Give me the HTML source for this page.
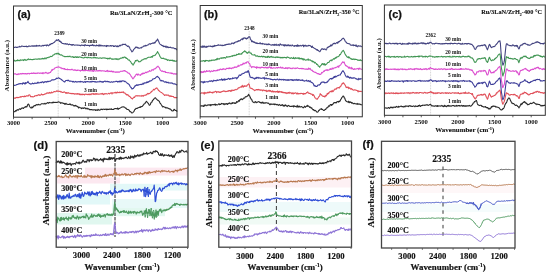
<!DOCTYPE html>
<html><head><meta charset="utf-8"><style>
html,body{margin:0;padding:0;background:#fff;width:550px;height:278px;overflow:hidden}
svg{display:block;filter:blur(0.3px)}
</style></head><body>
<svg width="550" height="278" viewBox="0 0 550 278">
<rect width="550" height="278" fill="#fff"/>
<line x1="58.2" y1="39.5" x2="58.2" y2="117" stroke="#999" stroke-width="0.5" stroke-dasharray="0.8,0.8"/>
<path d="M13.5,47.42 L14.0,47.62 L14.5,47.36 L15.0,47.28 L15.5,47.04 L16.0,47.19 L16.5,47.52 L17.0,47.24 L17.5,47.35 L18.0,47.04 L18.5,47.01 L19.0,46.87 L19.5,46.25 L20.0,46.94 L20.5,46.78 L21.0,46.73 L21.5,46.03 L22.0,45.98 L22.5,46.22 L23.0,46.34 L23.5,46.55 L24.0,46.43 L24.5,46.59 L25.0,46.22 L25.5,46.48 L26.0,46.49 L26.5,46.15 L27.0,46.84 L27.5,46.47 L28.0,46.63 L28.5,46.06 L29.0,46.00 L29.5,46.10 L30.0,46.14 L30.5,46.34 L31.0,46.21 L31.5,45.98 L32.0,45.80 L32.5,45.91 L33.0,46.42 L33.5,45.79 L34.0,46.10 L34.5,46.14 L35.0,45.55 L35.5,46.00 L36.0,46.37 L36.5,45.36 L37.0,45.85 L37.5,45.89 L38.0,45.66 L38.5,46.03 L39.0,45.84 L39.5,45.39 L40.0,46.06 L40.5,45.98 L41.0,46.04 L41.5,46.16 L42.0,45.81 L42.5,45.71 L43.0,45.26 L43.5,45.80 L44.0,45.41 L44.5,45.43 L45.0,45.16 L45.5,45.23 L46.0,45.34 L46.5,45.86 L47.0,44.85 L47.5,45.00 L48.0,45.50 L48.5,45.84 L49.0,45.57 L49.5,44.63 L50.0,44.17 L50.5,44.69 L51.0,43.98 L51.5,43.48 L52.0,43.77 L52.5,43.53 L53.0,43.05 L53.5,42.78 L54.0,42.40 L54.5,42.23 L55.0,41.41 L55.5,40.95 L56.0,40.66 L56.5,39.89 L57.0,40.53 L57.5,40.23 L58.0,39.96 L58.5,39.54 L59.0,40.46 L59.5,41.42 L60.0,40.96 L60.5,41.68 L61.0,42.39 L61.5,42.11 L62.0,43.40 L62.5,43.43 L63.0,43.45 L63.5,43.64 L64.0,43.79 L64.5,43.69 L65.0,44.06 L65.5,43.60 L66.0,43.75 L66.5,44.28 L67.0,44.07 L67.5,43.89 L68.0,44.53 L68.5,44.77 L69.0,44.29 L69.5,44.09 L70.0,44.54 L70.5,44.60 L71.0,44.62 L71.5,45.18 L72.0,44.49 L72.5,45.19 L73.0,44.45 L73.5,44.61 L74.0,45.05 L74.5,45.22 L75.0,45.16 L75.5,45.03 L76.0,45.00 L76.5,45.02 L77.0,45.18 L77.5,44.98 L78.0,45.14 L78.5,45.26 L79.0,45.12 L79.5,45.37 L80.0,45.34 L80.5,45.79 L81.0,45.31 L81.5,45.11 L82.0,45.14 L82.5,45.27 L83.0,45.56 L83.5,45.20 L84.0,45.42 L84.5,45.86 L85.0,44.55 L85.5,44.98 L86.0,45.40 L86.5,45.46 L87.0,45.42 L87.5,45.22 L88.0,45.56 L88.5,45.46 L89.0,45.22 L89.5,46.12 L90.0,45.51 L90.5,45.25 L91.0,45.39 L91.5,45.37 L92.0,45.43 L92.5,44.64 L93.0,45.32 L93.5,45.78 L94.0,45.14 L94.5,45.48 L95.0,45.80 L95.5,45.79 L96.0,45.99 L96.5,45.04 L97.0,45.46 L97.5,45.47 L98.0,45.77 L98.5,45.92 L99.0,44.80 L99.5,45.94 L100.0,45.19 L100.5,45.84 L101.0,45.20 L101.5,45.71 L102.0,46.02 L102.5,45.63 L103.0,45.73 L103.5,45.92 L104.0,45.73 L104.5,45.67 L105.0,46.16 L105.5,46.03 L106.0,45.63 L106.5,46.56 L107.0,45.41 L107.5,46.04 L108.0,45.71 L108.5,45.85 L109.0,46.04 L109.5,45.92 L110.0,46.07 L110.5,45.44 L111.0,45.47 L111.5,46.13 L112.0,45.69 L112.5,45.69 L113.0,45.58 L113.5,46.43 L114.0,46.29 L114.5,46.53 L115.0,45.83 L115.5,46.13 L116.0,45.81 L116.5,46.39 L117.0,46.65 L117.5,45.92 L118.0,46.67 L118.5,46.40 L119.0,45.91 L119.5,45.22 L120.0,46.05 L120.5,45.39 L121.0,45.03 L121.5,45.11 L122.0,44.90 L122.5,45.03 L123.0,44.09 L123.5,44.57 L124.0,44.55 L124.5,44.44 L125.0,44.15 L125.5,44.28 L126.0,45.17 L126.5,45.31 L127.0,45.73 L127.5,46.51 L128.0,46.34 L128.5,46.00 L129.0,46.86 L129.5,47.04 L130.0,48.69 L130.5,49.49 L131.0,50.13 L131.5,51.08 L132.0,51.85 L132.5,51.18 L133.0,50.90 L133.5,49.68 L134.0,49.18 L134.5,48.57 L135.0,48.02 L135.5,47.12 L136.0,47.68 L136.5,46.97 L137.0,47.34 L137.5,47.23 L138.0,48.28 L138.5,47.73 L139.0,48.20 L139.5,48.23 L140.0,48.17 L140.5,47.79 L141.0,47.78 L141.5,47.94 L142.0,47.11 L142.5,46.95 L143.0,46.83 L143.5,46.26 L144.0,45.80 L144.5,45.91 L145.0,46.26 L145.5,45.28 L146.0,45.41 L146.5,45.68 L147.0,45.40 L147.5,44.95 L148.0,44.98 L148.5,44.59 L149.0,44.00 L149.5,43.73 L150.0,43.89 L150.5,44.26 L151.0,43.74 L151.5,43.52 L152.0,43.43 L152.5,43.06 L153.0,43.33 L153.5,42.88 L154.0,43.22 L154.5,42.32 L155.0,42.88 L155.5,42.03 L156.0,40.92 L156.5,40.97 L157.0,40.04 L157.5,39.03 L158.0,40.04 L158.5,41.31 L159.0,42.14 L159.5,43.47 L160.0,44.13 L160.5,44.38 L161.0,44.61 L161.5,45.32 L162.0,45.56 L162.5,45.90 L163.0,45.45 L163.5,46.49 L164.0,46.67 L164.5,46.26 L165.0,46.29 L165.5,47.11 L166.0,46.10 L166.5,46.88 L167.0,47.57 L167.5,46.67 L168.0,47.26 L168.5,47.70 L169.0,47.18 L169.5,47.44 L170.0,47.60 L170.5,47.13 L171.0,47.47 L171.5,47.70 L172.0,47.99 L172.5,47.87 L173.0,47.97 L173.5,47.88 L174.0,48.22 L174.5,48.74 L175.0,48.64 L175.5,48.48 L176.0,48.59 L176.5,49.73 L177.0,49.34" stroke="#444480" stroke-width="1.1" fill="none" stroke-linejoin="round" opacity="1.0"/>
<path d="M13.5,60.89 L14.0,59.90 L14.5,60.84 L15.0,60.78 L15.5,61.11 L16.0,60.70 L16.5,60.52 L17.0,60.67 L17.5,59.89 L18.0,60.74 L18.5,60.49 L19.0,60.14 L19.5,60.70 L20.0,60.80 L20.5,59.80 L21.0,59.97 L21.5,60.21 L22.0,60.13 L22.5,59.91 L23.0,59.69 L23.5,60.57 L24.0,60.20 L24.5,59.49 L25.0,59.40 L25.5,60.28 L26.0,60.03 L26.5,60.24 L27.0,59.90 L27.5,59.36 L28.0,59.67 L28.5,58.92 L29.0,59.32 L29.5,59.50 L30.0,59.66 L30.5,59.27 L31.0,59.43 L31.5,59.59 L32.0,59.55 L32.5,59.61 L33.0,59.45 L33.5,59.27 L34.0,59.58 L34.5,59.33 L35.0,59.04 L35.5,59.07 L36.0,59.22 L36.5,59.16 L37.0,59.21 L37.5,59.13 L38.0,59.15 L38.5,59.03 L39.0,58.66 L39.5,59.14 L40.0,59.30 L40.5,59.08 L41.0,58.87 L41.5,59.04 L42.0,58.59 L42.5,58.29 L43.0,58.86 L43.5,58.55 L44.0,59.03 L44.5,58.46 L45.0,57.88 L45.5,58.21 L46.0,58.83 L46.5,58.05 L47.0,57.54 L47.5,57.50 L48.0,57.65 L48.5,57.41 L49.0,57.08 L49.5,57.25 L50.0,56.81 L50.5,56.40 L51.0,56.42 L51.5,56.60 L52.0,56.29 L52.5,56.08 L53.0,55.13 L53.5,55.01 L54.0,54.84 L54.5,54.11 L55.0,54.16 L55.5,53.76 L56.0,53.75 L56.5,53.34 L57.0,54.09 L57.5,53.62 L58.0,53.14 L58.5,53.44 L59.0,54.50 L59.5,54.00 L60.0,54.74 L60.5,55.08 L61.0,55.00 L61.5,54.77 L62.0,55.35 L62.5,55.62 L63.0,56.09 L63.5,56.22 L64.0,56.21 L64.5,56.63 L65.0,56.66 L65.5,56.58 L66.0,56.55 L66.5,56.48 L67.0,56.78 L67.5,56.28 L68.0,56.43 L68.5,56.65 L69.0,56.24 L69.5,56.58 L70.0,56.14 L70.5,56.57 L71.0,56.98 L71.5,57.01 L72.0,56.86 L72.5,56.84 L73.0,56.53 L73.5,57.54 L74.0,57.18 L74.5,57.39 L75.0,56.84 L75.5,57.09 L76.0,56.63 L76.5,57.45 L77.0,57.53 L77.5,56.72 L78.0,57.30 L78.5,57.54 L79.0,56.86 L79.5,56.87 L80.0,57.12 L80.5,57.28 L81.0,57.08 L81.5,57.53 L82.0,57.62 L82.5,57.75 L83.0,57.79 L83.5,58.05 L84.0,57.96 L84.5,57.22 L85.0,57.47 L85.5,57.31 L86.0,57.32 L86.5,57.63 L87.0,57.67 L87.5,57.83 L88.0,57.22 L88.5,57.33 L89.0,57.71 L89.5,57.68 L90.0,57.66 L90.5,57.75 L91.0,57.56 L91.5,58.01 L92.0,57.92 L92.5,57.81 L93.0,57.65 L93.5,57.82 L94.0,57.07 L94.5,57.61 L95.0,57.94 L95.5,57.49 L96.0,58.02 L96.5,58.02 L97.0,57.58 L97.5,57.94 L98.0,57.94 L98.5,58.18 L99.0,58.24 L99.5,58.07 L100.0,57.84 L100.5,58.06 L101.0,58.10 L101.5,58.35 L102.0,58.23 L102.5,57.94 L103.0,57.76 L103.5,58.06 L104.0,57.96 L104.5,57.86 L105.0,58.17 L105.5,58.07 L106.0,58.27 L106.5,58.42 L107.0,58.17 L107.5,59.02 L108.0,58.26 L108.5,58.73 L109.0,58.47 L109.5,58.81 L110.0,57.81 L110.5,58.34 L111.0,58.68 L111.5,58.83 L112.0,59.40 L112.5,58.84 L113.0,59.17 L113.5,59.05 L114.0,59.15 L114.5,59.06 L115.0,58.89 L115.5,59.13 L116.0,58.68 L116.5,59.39 L117.0,58.75 L117.5,59.16 L118.0,59.74 L118.5,58.94 L119.0,58.88 L119.5,59.07 L120.0,58.56 L120.5,58.12 L121.0,58.23 L121.5,58.12 L122.0,57.96 L122.5,57.32 L123.0,57.90 L123.5,57.72 L124.0,57.10 L124.5,57.08 L125.0,57.08 L125.5,57.93 L126.0,57.66 L126.5,58.48 L127.0,58.55 L127.5,58.88 L128.0,59.64 L128.5,60.09 L129.0,59.92 L129.5,60.13 L130.0,61.12 L130.5,61.51 L131.0,62.31 L131.5,63.37 L132.0,63.88 L132.5,63.91 L133.0,65.13 L133.5,64.15 L134.0,63.74 L134.5,62.50 L135.0,61.82 L135.5,60.53 L136.0,60.98 L136.5,60.67 L137.0,60.11 L137.5,60.31 L138.0,60.60 L138.5,61.76 L139.0,61.54 L139.5,61.85 L140.0,61.65 L140.5,61.42 L141.0,60.78 L141.5,60.72 L142.0,59.86 L142.5,59.87 L143.0,59.63 L143.5,59.40 L144.0,59.01 L144.5,58.71 L145.0,58.90 L145.5,58.55 L146.0,58.98 L146.5,58.55 L147.0,58.08 L147.5,57.76 L148.0,57.49 L148.5,57.23 L149.0,57.24 L149.5,57.28 L150.0,57.23 L150.5,57.15 L151.0,57.49 L151.5,56.48 L152.0,56.50 L152.5,57.11 L153.0,55.49 L153.5,55.69 L154.0,55.72 L154.5,55.59 L155.0,55.40 L155.5,54.65 L156.0,54.11 L156.5,53.27 L157.0,52.85 L157.5,51.63 L158.0,52.46 L158.5,53.50 L159.0,54.13 L159.5,55.14 L160.0,56.63 L160.5,57.09 L161.0,58.11 L161.5,58.36 L162.0,58.31 L162.5,58.47 L163.0,58.40 L163.5,58.13 L164.0,58.68 L164.5,58.98 L165.0,58.83 L165.5,59.12 L166.0,59.53 L166.5,59.20 L167.0,59.80 L167.5,60.30 L168.0,59.70 L168.5,60.03 L169.0,60.03 L169.5,60.62 L170.0,60.31 L170.5,60.54 L171.0,60.12 L171.5,60.40 L172.0,60.48 L172.5,60.04 L173.0,61.10 L173.5,61.04 L174.0,60.34 L174.5,61.18 L175.0,61.01 L175.5,61.26 L176.0,61.31 L176.5,60.81 L177.0,61.24" stroke="#419654" stroke-width="1.1" fill="none" stroke-linejoin="round" opacity="1.0"/>
<path d="M13.5,74.65 L14.0,74.02 L14.5,73.87 L15.0,73.75 L15.5,73.78 L16.0,74.23 L16.5,74.62 L17.0,74.22 L17.5,74.14 L18.0,74.71 L18.5,73.86 L19.0,73.79 L19.5,74.13 L20.0,74.11 L20.5,73.61 L21.0,73.54 L21.5,73.95 L22.0,73.91 L22.5,73.42 L23.0,73.72 L23.5,73.59 L24.0,73.87 L24.5,73.67 L25.0,73.65 L25.5,73.55 L26.0,73.95 L26.5,74.03 L27.0,73.48 L27.5,73.83 L28.0,73.33 L28.5,73.56 L29.0,73.75 L29.5,73.97 L30.0,73.39 L30.5,73.47 L31.0,73.54 L31.5,73.02 L32.0,73.46 L32.5,73.24 L33.0,73.54 L33.5,73.07 L34.0,72.80 L34.5,73.38 L35.0,73.43 L35.5,73.17 L36.0,73.58 L36.5,73.21 L37.0,73.09 L37.5,73.39 L38.0,72.75 L38.5,73.00 L39.0,73.17 L39.5,73.41 L40.0,73.08 L40.5,73.20 L41.0,72.89 L41.5,73.15 L42.0,73.54 L42.5,72.81 L43.0,73.71 L43.5,72.78 L44.0,72.96 L44.5,72.99 L45.0,73.22 L45.5,72.53 L46.0,72.25 L46.5,73.05 L47.0,73.09 L47.5,73.02 L48.0,73.61 L48.5,72.88 L49.0,72.88 L49.5,72.94 L50.0,72.47 L50.5,72.48 L51.0,71.16 L51.5,70.92 L52.0,69.47 L52.5,70.22 L53.0,69.35 L53.5,69.27 L54.0,69.23 L54.5,68.25 L55.0,67.92 L55.5,67.73 L56.0,67.46 L56.5,67.32 L57.0,67.48 L57.5,67.10 L58.0,66.94 L58.5,66.75 L59.0,67.23 L59.5,67.33 L60.0,67.41 L60.5,67.95 L61.0,67.98 L61.5,67.90 L62.0,68.84 L62.5,68.61 L63.0,68.28 L63.5,69.00 L64.0,68.91 L64.5,68.48 L65.0,69.57 L65.5,69.32 L66.0,69.60 L66.5,69.49 L67.0,69.46 L67.5,69.05 L68.0,69.83 L68.5,69.56 L69.0,69.49 L69.5,69.71 L70.0,69.65 L70.5,69.86 L71.0,69.58 L71.5,69.71 L72.0,69.11 L72.5,69.66 L73.0,70.03 L73.5,70.26 L74.0,69.79 L74.5,69.90 L75.0,70.45 L75.5,69.92 L76.0,70.27 L76.5,70.60 L77.0,70.14 L77.5,70.54 L78.0,69.99 L78.5,70.30 L79.0,70.25 L79.5,70.34 L80.0,70.67 L80.5,71.08 L81.0,70.19 L81.5,70.24 L82.0,70.59 L82.5,70.14 L83.0,70.63 L83.5,70.67 L84.0,70.42 L84.5,70.67 L85.0,70.05 L85.5,70.75 L86.0,70.07 L86.5,70.34 L87.0,70.39 L87.5,70.45 L88.0,70.83 L88.5,70.61 L89.0,70.48 L89.5,70.78 L90.0,71.10 L90.5,70.64 L91.0,70.76 L91.5,71.04 L92.0,70.76 L92.5,70.31 L93.0,71.46 L93.5,71.39 L94.0,70.15 L94.5,70.74 L95.0,70.90 L95.5,71.08 L96.0,71.00 L96.5,70.73 L97.0,70.51 L97.5,70.87 L98.0,71.17 L98.5,70.54 L99.0,70.58 L99.5,70.89 L100.0,70.33 L100.5,70.84 L101.0,70.80 L101.5,71.08 L102.0,70.74 L102.5,70.70 L103.0,70.85 L103.5,70.96 L104.0,70.79 L104.5,71.00 L105.0,71.23 L105.5,71.38 L106.0,71.56 L106.5,70.85 L107.0,70.99 L107.5,70.41 L108.0,71.77 L108.5,71.02 L109.0,71.28 L109.5,71.49 L110.0,70.98 L110.5,71.58 L111.0,71.49 L111.5,71.00 L112.0,71.69 L112.5,72.02 L113.0,71.15 L113.5,72.00 L114.0,71.87 L114.5,72.00 L115.0,72.04 L115.5,72.34 L116.0,71.92 L116.5,72.28 L117.0,71.93 L117.5,72.30 L118.0,71.86 L118.5,72.00 L119.0,72.46 L119.5,71.97 L120.0,71.66 L120.5,71.23 L121.0,71.19 L121.5,71.33 L122.0,71.41 L122.5,71.12 L123.0,71.02 L123.5,70.75 L124.0,71.07 L124.5,70.48 L125.0,70.63 L125.5,71.33 L126.0,71.43 L126.5,71.70 L127.0,72.00 L127.5,72.46 L128.0,73.04 L128.5,73.20 L129.0,72.98 L129.5,73.94 L130.0,74.49 L130.5,74.88 L131.0,76.21 L131.5,76.69 L132.0,77.40 L132.5,78.33 L133.0,78.93 L133.5,78.03 L134.0,77.71 L134.5,76.49 L135.0,76.57 L135.5,74.92 L136.0,74.81 L136.5,74.03 L137.0,74.57 L137.5,75.13 L138.0,73.85 L138.5,74.64 L139.0,75.05 L139.5,74.96 L140.0,74.70 L140.5,75.36 L141.0,74.52 L141.5,73.74 L142.0,74.22 L142.5,73.19 L143.0,73.83 L143.5,73.13 L144.0,73.23 L144.5,73.45 L145.0,72.97 L145.5,72.36 L146.0,72.08 L146.5,72.73 L147.0,72.39 L147.5,71.70 L148.0,71.99 L148.5,71.69 L149.0,71.55 L149.5,70.53 L150.0,70.99 L150.5,71.24 L151.0,71.02 L151.5,70.84 L152.0,69.55 L152.5,70.03 L153.0,69.82 L153.5,70.15 L154.0,68.85 L154.5,68.86 L155.0,68.77 L155.5,68.67 L156.0,67.82 L156.5,67.79 L157.0,66.73 L157.5,66.65 L158.0,66.14 L158.5,66.85 L159.0,67.35 L159.5,67.98 L160.0,69.72 L160.5,70.31 L161.0,70.66 L161.5,71.10 L162.0,71.42 L162.5,70.93 L163.0,71.31 L163.5,71.64 L164.0,71.78 L164.5,71.68 L165.0,71.30 L165.5,72.47 L166.0,72.36 L166.5,72.43 L167.0,72.49 L167.5,72.80 L168.0,72.73 L168.5,72.67 L169.0,72.85 L169.5,72.98 L170.0,73.03 L170.5,72.91 L171.0,73.51 L171.5,72.99 L172.0,73.66 L172.5,73.24 L173.0,73.73 L173.5,74.13 L174.0,73.87 L174.5,73.67 L175.0,73.99 L175.5,74.09 L176.0,73.59 L176.5,73.98 L177.0,74.25" stroke="#dc4fcf" stroke-width="1.1" fill="none" stroke-linejoin="round" opacity="1.0"/>
<path d="M13.5,85.16 L14.0,85.26 L14.5,85.39 L15.0,85.31 L15.5,85.25 L16.0,85.04 L16.5,84.65 L17.0,84.60 L17.5,84.40 L18.0,84.25 L18.5,84.16 L19.0,83.57 L19.5,83.87 L20.0,83.86 L20.5,83.48 L21.0,83.68 L21.5,83.78 L22.0,83.54 L22.5,84.18 L23.0,82.74 L23.5,83.42 L24.0,82.89 L24.5,83.69 L25.0,84.15 L25.5,82.57 L26.0,83.34 L26.5,83.20 L27.0,82.56 L27.5,82.42 L28.0,81.33 L28.5,82.65 L29.0,83.11 L29.5,83.61 L30.0,83.82 L30.5,84.15 L31.0,83.76 L31.5,83.91 L32.0,83.63 L32.5,83.03 L33.0,83.61 L33.5,83.59 L34.0,83.67 L34.5,83.08 L35.0,83.24 L35.5,83.34 L36.0,83.10 L36.5,83.34 L37.0,83.48 L37.5,82.52 L38.0,82.15 L38.5,82.91 L39.0,83.05 L39.5,82.82 L40.0,82.74 L40.5,82.28 L41.0,82.21 L41.5,82.64 L42.0,82.05 L42.5,81.71 L43.0,81.89 L43.5,82.86 L44.0,82.62 L44.5,81.76 L45.0,81.67 L45.5,81.88 L46.0,81.51 L46.5,82.06 L47.0,81.58 L47.5,81.22 L48.0,81.89 L48.5,81.27 L49.0,81.48 L49.5,81.34 L50.0,81.13 L50.5,81.17 L51.0,80.69 L51.5,80.15 L52.0,79.83 L52.5,79.90 L53.0,79.85 L53.5,79.89 L54.0,79.75 L54.5,79.77 L55.0,79.54 L55.5,79.10 L56.0,78.88 L56.5,78.17 L57.0,78.44 L57.5,78.35 L58.0,78.12 L58.5,77.76 L59.0,77.93 L59.5,78.53 L60.0,78.56 L60.5,79.04 L61.0,79.17 L61.5,79.39 L62.0,80.21 L62.5,80.23 L63.0,80.88 L63.5,81.23 L64.0,81.56 L64.5,82.02 L65.0,81.69 L65.5,80.74 L66.0,80.52 L66.5,80.45 L67.0,80.42 L67.5,80.64 L68.0,80.03 L68.5,80.37 L69.0,80.85 L69.5,81.31 L70.0,81.07 L70.5,80.93 L71.0,81.21 L71.5,81.22 L72.0,81.24 L72.5,81.96 L73.0,81.33 L73.5,81.53 L74.0,82.19 L74.5,81.90 L75.0,81.66 L75.5,81.39 L76.0,81.71 L76.5,82.09 L77.0,81.81 L77.5,82.02 L78.0,81.69 L78.5,81.83 L79.0,81.63 L79.5,81.83 L80.0,82.11 L80.5,81.31 L81.0,81.73 L81.5,81.83 L82.0,81.60 L82.5,81.69 L83.0,82.03 L83.5,82.40 L84.0,81.99 L84.5,81.90 L85.0,81.33 L85.5,82.38 L86.0,81.82 L86.5,81.79 L87.0,81.46 L87.5,81.78 L88.0,81.47 L88.5,81.82 L89.0,81.94 L89.5,81.81 L90.0,81.88 L90.5,81.54 L91.0,82.23 L91.5,81.60 L92.0,81.25 L92.5,81.74 L93.0,81.57 L93.5,81.50 L94.0,81.69 L94.5,81.89 L95.0,81.45 L95.5,81.76 L96.0,82.23 L96.5,82.00 L97.0,81.75 L97.5,81.84 L98.0,81.76 L98.5,81.79 L99.0,82.02 L99.5,81.77 L100.0,81.08 L100.5,81.79 L101.0,81.53 L101.5,82.00 L102.0,81.62 L102.5,81.84 L103.0,82.45 L103.5,81.49 L104.0,81.46 L104.5,81.38 L105.0,81.08 L105.5,81.23 L106.0,81.90 L106.5,81.60 L107.0,81.23 L107.5,81.34 L108.0,81.97 L108.5,81.55 L109.0,81.66 L109.5,81.87 L110.0,82.17 L110.5,82.34 L111.0,82.06 L111.5,81.79 L112.0,81.80 L112.5,82.28 L113.0,82.16 L113.5,81.64 L114.0,81.86 L114.5,81.81 L115.0,81.73 L115.5,81.56 L116.0,81.31 L116.5,81.55 L117.0,81.24 L117.5,82.07 L118.0,81.86 L118.5,81.29 L119.0,82.00 L119.5,81.76 L120.0,80.82 L120.5,81.85 L121.0,81.43 L121.5,81.70 L122.0,80.62 L122.5,81.06 L123.0,80.97 L123.5,80.89 L124.0,81.09 L124.5,81.64 L125.0,81.21 L125.5,81.66 L126.0,82.00 L126.5,82.62 L127.0,82.92 L127.5,83.46 L128.0,83.64 L128.5,83.99 L129.0,84.34 L129.5,85.09 L130.0,86.25 L130.5,86.97 L131.0,87.50 L131.5,88.01 L132.0,89.07 L132.5,88.67 L133.0,88.67 L133.5,88.31 L134.0,87.28 L134.5,86.96 L135.0,85.79 L135.5,85.94 L136.0,85.36 L136.5,84.77 L137.0,85.38 L137.5,84.83 L138.0,85.38 L138.5,84.69 L139.0,84.74 L139.5,84.77 L140.0,84.49 L140.5,84.58 L141.0,84.27 L141.5,84.58 L142.0,84.26 L142.5,84.18 L143.0,83.11 L143.5,84.08 L144.0,83.52 L144.5,82.73 L145.0,83.05 L145.5,82.92 L146.0,82.87 L146.5,82.00 L147.0,82.59 L147.5,81.91 L148.0,82.53 L148.5,81.66 L149.0,81.75 L149.5,81.23 L150.0,80.75 L150.5,81.12 L151.0,80.75 L151.5,80.62 L152.0,80.10 L152.5,79.39 L153.0,78.82 L153.5,78.92 L154.0,78.76 L154.5,78.44 L155.0,78.47 L155.5,77.94 L156.0,77.28 L156.5,76.97 L157.0,76.51 L157.5,76.36 L158.0,76.94 L158.5,77.61 L159.0,77.87 L159.5,78.42 L160.0,80.06 L160.5,80.31 L161.0,81.06 L161.5,80.36 L162.0,80.85 L162.5,81.06 L163.0,80.75 L163.5,81.17 L164.0,81.69 L164.5,81.96 L165.0,82.27 L165.5,81.69 L166.0,81.68 L166.5,82.40 L167.0,82.65 L167.5,82.53 L168.0,82.17 L168.5,82.86 L169.0,82.92 L169.5,82.93 L170.0,82.71 L170.5,83.05 L171.0,83.31 L171.5,83.03 L172.0,82.77 L172.5,83.56 L173.0,83.74 L173.5,83.73 L174.0,84.12 L174.5,83.79 L175.0,84.06 L175.5,84.09 L176.0,84.44 L176.5,84.82 L177.0,84.32" stroke="#3f3f9a" stroke-width="1.1" fill="none" stroke-linejoin="round" opacity="1.0"/>
<path d="M13.5,98.52 L14.0,98.32 L14.5,98.06 L15.0,97.95 L15.5,98.26 L16.0,97.62 L16.5,97.58 L17.0,97.23 L17.5,97.62 L18.0,97.81 L18.5,97.49 L19.0,97.38 L19.5,97.11 L20.0,97.14 L20.5,96.58 L21.0,97.24 L21.5,96.72 L22.0,96.43 L22.5,96.45 L23.0,96.35 L23.5,96.78 L24.0,96.77 L24.5,95.97 L25.0,96.59 L25.5,96.52 L26.0,96.02 L26.5,95.69 L27.0,95.87 L27.5,95.86 L28.0,96.12 L28.5,95.71 L29.0,94.75 L29.5,95.07 L30.0,95.12 L30.5,96.69 L31.0,96.64 L31.5,96.73 L32.0,96.60 L32.5,96.60 L33.0,97.05 L33.5,96.80 L34.0,96.60 L34.5,96.38 L35.0,95.68 L35.5,95.84 L36.0,95.69 L36.5,95.42 L37.0,95.74 L37.5,95.23 L38.0,95.13 L38.5,94.92 L39.0,94.52 L39.5,95.24 L40.0,95.40 L40.5,94.99 L41.0,94.57 L41.5,93.96 L42.0,94.72 L42.5,94.92 L43.0,94.52 L43.5,94.58 L44.0,94.61 L44.5,94.37 L45.0,93.76 L45.5,94.07 L46.0,93.85 L46.5,93.03 L47.0,93.25 L47.5,92.84 L48.0,93.14 L48.5,93.26 L49.0,92.70 L49.5,92.34 L50.0,93.25 L50.5,92.86 L51.0,93.04 L51.5,92.05 L52.0,92.60 L52.5,92.74 L53.0,92.56 L53.5,91.75 L54.0,91.76 L54.5,91.53 L55.0,91.80 L55.5,91.75 L56.0,91.38 L56.5,90.85 L57.0,91.37 L57.5,90.90 L58.0,91.15 L58.5,90.98 L59.0,91.49 L59.5,91.50 L60.0,91.21 L60.5,91.66 L61.0,92.27 L61.5,91.73 L62.0,92.13 L62.5,92.40 L63.0,92.48 L63.5,92.33 L64.0,91.85 L64.5,91.96 L65.0,92.50 L65.5,92.64 L66.0,93.39 L66.5,92.48 L67.0,93.18 L67.5,93.18 L68.0,92.55 L68.5,92.91 L69.0,93.30 L69.5,93.19 L70.0,93.37 L70.5,93.62 L71.0,93.30 L71.5,93.73 L72.0,93.42 L72.5,93.47 L73.0,93.81 L73.5,93.50 L74.0,93.79 L74.5,94.21 L75.0,93.77 L75.5,93.75 L76.0,94.05 L76.5,93.76 L77.0,94.23 L77.5,93.56 L78.0,94.17 L78.5,93.86 L79.0,93.81 L79.5,94.62 L80.0,93.87 L80.5,94.68 L81.0,94.38 L81.5,94.65 L82.0,93.95 L82.5,94.62 L83.0,94.72 L83.5,94.26 L84.0,94.26 L84.5,95.03 L85.0,94.34 L85.5,94.16 L86.0,94.09 L86.5,94.41 L87.0,94.37 L87.5,94.31 L88.0,94.77 L88.5,94.15 L89.0,94.38 L89.5,94.67 L90.0,93.92 L90.5,94.53 L91.0,94.76 L91.5,93.79 L92.0,93.86 L92.5,93.87 L93.0,93.62 L93.5,94.30 L94.0,93.60 L94.5,94.30 L95.0,94.57 L95.5,93.64 L96.0,94.02 L96.5,93.54 L97.0,94.34 L97.5,93.87 L98.0,94.01 L98.5,94.09 L99.0,94.23 L99.5,93.96 L100.0,94.06 L100.5,93.88 L101.0,94.07 L101.5,93.68 L102.0,94.05 L102.5,93.44 L103.0,93.87 L103.5,94.59 L104.0,94.03 L104.5,93.63 L105.0,94.08 L105.5,93.68 L106.0,93.44 L106.5,93.67 L107.0,94.06 L107.5,93.90 L108.0,93.70 L108.5,93.39 L109.0,93.28 L109.5,93.94 L110.0,93.54 L110.5,93.11 L111.0,92.69 L111.5,92.84 L112.0,93.92 L112.5,92.76 L113.0,93.01 L113.5,93.02 L114.0,92.85 L114.5,92.74 L115.0,92.36 L115.5,92.40 L116.0,93.16 L116.5,92.38 L117.0,92.82 L117.5,92.02 L118.0,92.42 L118.5,92.56 L119.0,92.78 L119.5,92.10 L120.0,92.59 L120.5,92.50 L121.0,92.14 L121.5,92.48 L122.0,92.04 L122.5,92.06 L123.0,92.45 L123.5,91.86 L124.0,92.91 L124.5,92.94 L125.0,93.13 L125.5,93.77 L126.0,94.45 L126.5,94.40 L127.0,95.15 L127.5,94.63 L128.0,94.75 L128.5,95.88 L129.0,95.91 L129.5,96.53 L130.0,96.50 L130.5,97.50 L131.0,97.82 L131.5,98.36 L132.0,98.51 L132.5,99.02 L133.0,98.19 L133.5,97.71 L134.0,97.10 L134.5,97.41 L135.0,96.39 L135.5,95.94 L136.0,95.72 L136.5,95.87 L137.0,95.62 L137.5,95.91 L138.0,95.81 L138.5,95.83 L139.0,95.71 L139.5,96.01 L140.0,95.86 L140.5,96.03 L141.0,96.07 L141.5,96.10 L142.0,95.34 L142.5,95.84 L143.0,95.76 L143.5,96.11 L144.0,95.25 L144.5,95.31 L145.0,95.22 L145.5,94.96 L146.0,95.10 L146.5,94.41 L147.0,94.58 L147.5,93.61 L148.0,93.29 L148.5,94.01 L149.0,93.62 L149.5,93.50 L150.0,93.12 L150.5,92.85 L151.0,91.89 L151.5,92.04 L152.0,91.08 L152.5,91.05 L153.0,90.36 L153.5,89.40 L154.0,89.38 L154.5,89.83 L155.0,89.07 L155.5,88.57 L156.0,88.38 L156.5,87.91 L157.0,88.11 L157.5,88.82 L158.0,89.46 L158.5,90.48 L159.0,90.52 L159.5,91.35 L160.0,91.62 L160.5,91.96 L161.0,92.21 L161.5,92.42 L162.0,92.94 L162.5,93.38 L163.0,93.69 L163.5,94.33 L164.0,94.53 L164.5,95.50 L165.0,95.28 L165.5,95.04 L166.0,94.66 L166.5,95.29 L167.0,95.27 L167.5,95.15 L168.0,95.22 L168.5,94.96 L169.0,95.87 L169.5,95.74 L170.0,96.57 L170.5,95.87 L171.0,95.95 L171.5,96.56 L172.0,96.31 L172.5,96.49 L173.0,96.51 L173.5,96.62 L174.0,97.43 L174.5,97.46 L175.0,97.84 L175.5,97.37 L176.0,97.62 L176.5,97.45 L177.0,98.09" stroke="#e0505a" stroke-width="1.1" fill="none" stroke-linejoin="round" opacity="1.0"/>
<path d="M13.5,111.18 L14.0,111.66 L14.5,111.68 L15.0,111.60 L15.5,110.70 L16.0,111.10 L16.5,110.33 L17.0,110.07 L17.5,109.65 L18.0,110.15 L18.5,110.05 L19.0,109.14 L19.5,108.87 L20.0,108.79 L20.5,109.47 L21.0,108.87 L21.5,108.28 L22.0,107.81 L22.5,108.02 L23.0,108.41 L23.5,108.43 L24.0,107.58 L24.5,107.25 L25.0,107.10 L25.5,106.51 L26.0,107.20 L26.5,106.49 L27.0,106.68 L27.5,104.98 L28.0,104.21 L28.5,104.09 L29.0,104.77 L29.5,106.23 L30.0,107.00 L30.5,107.65 L31.0,108.04 L31.5,107.91 L32.0,106.85 L32.5,107.69 L33.0,107.00 L33.5,106.77 L34.0,105.67 L34.5,105.73 L35.0,105.58 L35.5,105.78 L36.0,104.84 L36.5,104.91 L37.0,104.51 L37.5,104.97 L38.0,105.05 L38.5,104.34 L39.0,104.56 L39.5,104.77 L40.0,104.96 L40.5,104.56 L41.0,104.14 L41.5,103.76 L42.0,103.72 L42.5,103.69 L43.0,103.84 L43.5,103.70 L44.0,104.14 L44.5,103.68 L45.0,103.23 L45.5,103.96 L46.0,103.71 L46.5,103.38 L47.0,103.05 L47.5,102.62 L48.0,102.78 L48.5,103.27 L49.0,102.66 L49.5,102.42 L50.0,102.79 L50.5,102.73 L51.0,102.78 L51.5,102.74 L52.0,102.92 L52.5,102.23 L53.0,102.75 L53.5,102.13 L54.0,102.61 L54.5,102.42 L55.0,102.40 L55.5,102.57 L56.0,102.24 L56.5,102.54 L57.0,102.44 L57.5,102.19 L58.0,101.95 L58.5,101.88 L59.0,102.00 L59.5,102.19 L60.0,102.35 L60.5,103.38 L61.0,102.83 L61.5,103.02 L62.0,102.69 L62.5,102.90 L63.0,103.18 L63.5,103.49 L64.0,103.27 L64.5,104.20 L65.0,103.66 L65.5,104.25 L66.0,103.30 L66.5,104.04 L67.0,104.19 L67.5,104.24 L68.0,104.44 L68.5,104.44 L69.0,104.50 L69.5,103.98 L70.0,104.42 L70.5,104.02 L71.0,104.98 L71.5,104.95 L72.0,104.84 L72.5,104.74 L73.0,104.92 L73.5,105.77 L74.0,105.88 L74.5,105.50 L75.0,106.08 L75.5,105.40 L76.0,105.49 L76.5,106.12 L77.0,106.21 L77.5,106.50 L78.0,106.93 L78.5,107.98 L79.0,107.06 L79.5,107.46 L80.0,107.69 L80.5,107.76 L81.0,108.18 L81.5,108.56 L82.0,107.76 L82.5,108.26 L83.0,108.17 L83.5,108.42 L84.0,107.91 L84.5,107.91 L85.0,107.83 L85.5,108.76 L86.0,108.75 L86.5,108.81 L87.0,108.18 L87.5,108.88 L88.0,108.86 L88.5,108.77 L89.0,109.02 L89.5,109.59 L90.0,109.64 L90.5,109.56 L91.0,109.80 L91.5,109.53 L92.0,109.80 L92.5,109.85 L93.0,110.05 L93.5,109.87 L94.0,109.84 L94.5,109.82 L95.0,109.65 L95.5,110.50 L96.0,109.96 L96.5,109.91 L97.0,110.44 L97.5,110.15 L98.0,109.24 L98.5,109.88 L99.0,109.90 L99.5,110.18 L100.0,109.98 L100.5,109.79 L101.0,109.17 L101.5,109.23 L102.0,109.55 L102.5,109.59 L103.0,109.10 L103.5,109.27 L104.0,109.23 L104.5,109.35 L105.0,109.41 L105.5,109.20 L106.0,108.89 L106.5,109.62 L107.0,109.71 L107.5,109.18 L108.0,109.51 L108.5,109.32 L109.0,109.36 L109.5,109.28 L110.0,108.88 L110.5,109.25 L111.0,109.35 L111.5,108.74 L112.0,109.57 L112.5,109.57 L113.0,109.45 L113.5,109.46 L114.0,109.05 L114.5,108.69 L115.0,108.57 L115.5,108.48 L116.0,108.72 L116.5,108.65 L117.0,108.84 L117.5,108.01 L118.0,109.29 L118.5,109.18 L119.0,108.35 L119.5,108.39 L120.0,108.14 L120.5,107.87 L121.0,107.51 L121.5,107.33 L122.0,106.93 L122.5,107.06 L123.0,106.87 L123.5,106.93 L124.0,106.78 L124.5,107.33 L125.0,107.67 L125.5,108.22 L126.0,108.10 L126.5,108.91 L127.0,109.40 L127.5,109.53 L128.0,109.43 L128.5,109.67 L129.0,110.12 L129.5,110.86 L130.0,111.61 L130.5,111.61 L131.0,111.95 L131.5,112.68 L132.0,112.97 L132.5,112.76 L133.0,112.35 L133.5,111.90 L134.0,111.37 L134.5,110.01 L135.0,109.32 L135.5,109.17 L136.0,108.23 L136.5,108.53 L137.0,108.46 L137.5,108.16 L138.0,107.69 L138.5,107.77 L139.0,107.47 L139.5,107.47 L140.0,106.92 L140.5,107.34 L141.0,106.38 L141.5,106.69 L142.0,106.41 L142.5,106.25 L143.0,105.24 L143.5,104.98 L144.0,104.00 L144.5,103.74 L145.0,103.42 L145.5,102.22 L146.0,102.00 L146.5,101.23 L147.0,101.95 L147.5,102.66 L148.0,103.12 L148.5,103.61 L149.0,104.76 L149.5,105.28 L150.0,104.82 L150.5,104.15 L151.0,102.66 L151.5,102.21 L152.0,102.00 L152.5,100.35 L153.0,100.24 L153.5,99.72 L154.0,98.75 L154.5,98.36 L155.0,97.79 L155.5,97.82 L156.0,98.56 L156.5,98.99 L157.0,99.52 L157.5,100.17 L158.0,100.27 L158.5,100.63 L159.0,101.18 L159.5,101.71 L160.0,103.06 L160.5,103.51 L161.0,104.30 L161.5,105.06 L162.0,105.68 L162.5,106.86 L163.0,106.86 L163.5,106.58 L164.0,106.86 L164.5,107.13 L165.0,107.20 L165.5,107.84 L166.0,107.34 L166.5,108.01 L167.0,108.06 L167.5,107.80 L168.0,108.27 L168.5,108.34 L169.0,108.73 L169.5,108.73 L170.0,109.30 L170.5,109.07 L171.0,109.62 L171.5,110.54 L172.0,110.92 L172.5,110.85 L173.0,110.76 L173.5,110.75 L174.0,109.20 L174.5,109.43 L175.0,110.16 L175.5,110.52 L176.0,110.42 L176.5,110.51 L177.0,111.74" stroke="#2a2a2a" stroke-width="1.1" fill="none" stroke-linejoin="round" opacity="1.0"/>
<rect x="13.5" y="6" width="163.5" height="111.2" fill="none" stroke="#333" stroke-width="1.0"/>
<line x1="13.50" y1="117.2" x2="13.50" y2="119.2" stroke="#333" stroke-width="0.8"/>
<line x1="32.14" y1="117.2" x2="32.14" y2="119.2" stroke="#333" stroke-width="0.8"/>
<line x1="50.78" y1="117.2" x2="50.78" y2="119.2" stroke="#333" stroke-width="0.8"/>
<line x1="69.41" y1="117.2" x2="69.41" y2="119.2" stroke="#333" stroke-width="0.8"/>
<line x1="88.05" y1="117.2" x2="88.05" y2="119.2" stroke="#333" stroke-width="0.8"/>
<line x1="106.69" y1="117.2" x2="106.69" y2="119.2" stroke="#333" stroke-width="0.8"/>
<line x1="125.33" y1="117.2" x2="125.33" y2="119.2" stroke="#333" stroke-width="0.8"/>
<line x1="143.96" y1="117.2" x2="143.96" y2="119.2" stroke="#333" stroke-width="0.8"/>
<line x1="162.60" y1="117.2" x2="162.60" y2="119.2" stroke="#333" stroke-width="0.8"/>
<text x="13.5" y="125.3" font-family="Liberation Serif" font-size="6.6" font-weight="bold" text-anchor="middle" fill="#111" >3000</text>
<text x="50.8" y="125.3" font-family="Liberation Serif" font-size="6.6" font-weight="bold" text-anchor="middle" fill="#111" >2500</text>
<text x="88.1" y="125.3" font-family="Liberation Serif" font-size="6.6" font-weight="bold" text-anchor="middle" fill="#111" >2000</text>
<text x="125.3" y="125.3" font-family="Liberation Serif" font-size="6.6" font-weight="bold" text-anchor="middle" fill="#111" >1500</text>
<text x="162.6" y="125.3" font-family="Liberation Serif" font-size="6.6" font-weight="bold" text-anchor="middle" fill="#111" >1000</text>
<text x="95.3" y="132.9" font-family="Liberation Serif" font-size="6.6" font-weight="bold" text-anchor="middle" fill="#111" stroke="#111" stroke-width="0.1" textLength="59" lengthAdjust="spacingAndGlyphs">Wavenumber (cm<tspan font-size="4.2" dy="-2.4">-1</tspan><tspan dy="2.4">)</tspan></text>
<text x="0" y="0" font-family="Liberation Serif" font-size="6.8" font-weight="bold" text-anchor="middle" fill="#111" transform="translate(8.9,65.7) rotate(-90)">Absorbance (a.u.)</text>
<text x="17.4" y="17.6" font-family="Liberation Sans" font-size="10.9" font-weight="bold" text-anchor="start" fill="#111" stroke="#111" stroke-width="0.25" >(a)</text>
<text x="172.5" y="15" font-family="Liberation Serif" font-size="6.5" font-weight="bold" text-anchor="end" fill="#111" stroke="#111" stroke-width="0.1" >Ru/3LaN/ZrH<tspan font-size="4" dy="1.5">2</tspan><tspan dy="-1.5">-300 °C</tspan></text>
<text x="59.4" y="34.6" font-family="Liberation Serif" font-size="5.2" font-weight="bold" text-anchor="middle" fill="#111" >2389</text>
<text x="97" y="43.4" font-family="Liberation Serif" font-size="5.4" font-weight="bold" text-anchor="end" fill="#111" >30 min</text>
<text x="97" y="56.2" font-family="Liberation Serif" font-size="5.4" font-weight="bold" text-anchor="end" fill="#111" >20 min</text>
<text x="97" y="69.8" font-family="Liberation Serif" font-size="5.4" font-weight="bold" text-anchor="end" fill="#111" >10 min</text>
<text x="97" y="79.8" font-family="Liberation Serif" font-size="5.4" font-weight="bold" text-anchor="end" fill="#111" >5 min</text>
<text x="97" y="92.3" font-family="Liberation Serif" font-size="5.4" font-weight="bold" text-anchor="end" fill="#111" >3 min</text>
<text x="97" y="106" font-family="Liberation Serif" font-size="5.4" font-weight="bold" text-anchor="end" fill="#111" >1 min</text>
<line x1="249.2" y1="31" x2="249.2" y2="116.5" stroke="#999" stroke-width="0.5" stroke-dasharray="0.8,0.8"/>
<path d="M200.2,47.06 L200.7,46.62 L201.2,46.98 L201.7,47.29 L202.2,45.87 L202.7,47.32 L203.2,47.13 L203.7,45.97 L204.2,47.07 L204.7,46.01 L205.2,47.13 L205.7,46.79 L206.2,47.49 L206.7,46.31 L207.2,46.51 L207.7,46.89 L208.2,46.18 L208.7,46.12 L209.2,46.22 L209.7,46.32 L210.2,45.89 L210.7,46.50 L211.2,46.50 L211.7,46.28 L212.2,46.89 L212.7,46.04 L213.2,46.65 L213.7,45.86 L214.2,46.33 L214.7,45.20 L215.2,46.00 L215.7,45.79 L216.2,45.60 L216.7,45.50 L217.2,45.54 L217.7,45.34 L218.2,44.69 L218.7,45.28 L219.2,45.25 L219.7,45.22 L220.2,44.96 L220.7,45.30 L221.2,45.63 L221.7,45.19 L222.2,45.05 L222.7,45.73 L223.2,45.51 L223.7,45.41 L224.2,45.42 L224.7,44.74 L225.2,44.72 L225.7,45.12 L226.2,44.35 L226.7,44.42 L227.2,44.51 L227.7,44.40 L228.2,44.04 L228.7,44.44 L229.2,43.88 L229.7,44.15 L230.2,44.20 L230.7,43.96 L231.2,43.92 L231.7,43.10 L232.2,42.99 L232.7,43.19 L233.2,43.49 L233.7,43.73 L234.2,42.45 L234.7,42.84 L235.2,42.14 L235.7,41.94 L236.2,41.86 L236.7,42.00 L237.2,41.56 L237.7,41.71 L238.2,40.63 L238.7,41.19 L239.2,41.04 L239.7,40.57 L240.2,40.58 L240.7,39.90 L241.2,39.35 L241.7,39.23 L242.2,38.72 L242.7,39.72 L243.2,38.01 L243.7,38.57 L244.2,37.78 L244.7,37.97 L245.2,38.35 L245.7,37.99 L246.2,38.91 L246.7,38.88 L247.2,38.05 L247.7,38.33 L248.2,37.57 L248.7,36.84 L249.2,36.83 L249.7,36.76 L250.2,38.24 L250.7,39.61 L251.2,40.11 L251.7,41.77 L252.2,40.93 L252.7,41.18 L253.2,42.15 L253.7,41.77 L254.2,42.44 L254.7,42.11 L255.2,43.03 L255.7,42.74 L256.2,43.44 L256.7,42.73 L257.2,43.56 L257.7,43.32 L258.2,43.51 L258.7,43.52 L259.2,43.66 L259.7,43.15 L260.2,42.72 L260.7,43.84 L261.2,43.52 L261.7,43.78 L262.2,44.20 L262.7,43.30 L263.2,43.84 L263.7,43.96 L264.2,43.82 L264.7,44.41 L265.2,44.25 L265.7,44.00 L266.2,43.95 L266.7,44.69 L267.2,44.13 L267.7,44.66 L268.2,44.64 L268.7,43.73 L269.2,44.09 L269.7,44.57 L270.2,44.74 L270.7,44.95 L271.2,45.00 L271.7,45.13 L272.2,44.61 L272.7,44.71 L273.2,45.14 L273.7,44.69 L274.2,45.31 L274.7,44.28 L275.2,45.21 L275.7,44.90 L276.2,44.20 L276.7,45.39 L277.2,45.14 L277.7,45.03 L278.2,44.60 L278.7,44.86 L279.2,45.67 L279.7,44.75 L280.2,43.70 L280.7,44.77 L281.2,44.65 L281.7,45.09 L282.2,45.01 L282.7,44.82 L283.2,44.87 L283.7,45.65 L284.2,44.67 L284.7,46.06 L285.2,45.08 L285.7,44.88 L286.2,45.66 L286.7,45.59 L287.2,44.97 L287.7,45.71 L288.2,44.70 L288.7,45.09 L289.2,45.94 L289.7,45.41 L290.2,45.01 L290.7,45.76 L291.2,45.94 L291.7,45.59 L292.2,44.89 L292.7,45.50 L293.2,45.82 L293.7,45.98 L294.2,46.43 L294.7,45.61 L295.2,45.53 L295.7,45.73 L296.2,46.24 L296.7,45.39 L297.2,46.30 L297.7,44.69 L298.2,46.12 L298.7,45.53 L299.2,45.98 L299.7,46.07 L300.2,45.31 L300.7,45.75 L301.2,45.87 L301.7,46.01 L302.2,45.40 L302.7,45.37 L303.2,44.99 L303.7,46.77 L304.2,45.67 L304.7,45.65 L305.2,45.14 L305.7,46.10 L306.2,45.51 L306.7,46.29 L307.2,46.05 L307.7,45.72 L308.2,46.00 L308.7,45.26 L309.2,45.57 L309.7,45.60 L310.2,45.54 L310.7,46.33 L311.2,46.58 L311.7,47.54 L312.2,45.94 L312.7,47.29 L313.2,47.41 L313.7,47.75 L314.2,48.30 L314.7,48.55 L315.2,48.71 L315.7,48.87 L316.2,49.64 L316.7,49.98 L317.2,49.50 L317.7,50.51 L318.2,50.41 L318.7,50.79 L319.2,51.57 L319.7,51.72 L320.2,51.30 L320.7,50.22 L321.2,49.70 L321.7,48.71 L322.2,48.72 L322.7,48.87 L323.2,49.46 L323.7,49.47 L324.2,48.86 L324.7,49.20 L325.2,49.16 L325.7,49.64 L326.2,50.03 L326.7,49.15 L327.2,47.56 L327.7,47.45 L328.2,46.93 L328.7,47.15 L329.2,46.46 L329.7,46.15 L330.2,46.38 L330.7,45.06 L331.2,44.89 L331.7,45.88 L332.2,45.05 L332.7,44.40 L333.2,43.67 L333.7,43.62 L334.2,43.00 L334.7,43.75 L335.2,43.49 L335.7,43.64 L336.2,42.99 L336.7,42.60 L337.2,42.45 L337.7,43.34 L338.2,41.61 L338.7,42.06 L339.2,41.62 L339.7,41.43 L340.2,40.57 L340.7,40.47 L341.2,40.15 L341.7,39.35 L342.2,38.85 L342.7,38.65 L343.2,38.09 L343.7,38.55 L344.2,39.05 L344.7,39.96 L345.2,41.20 L345.7,42.00 L346.2,42.02 L346.7,43.02 L347.2,43.24 L347.7,43.56 L348.2,43.44 L348.7,43.75 L349.2,43.70 L349.7,43.83 L350.2,44.76 L350.7,45.18 L351.2,45.15 L351.7,45.25 L352.2,45.34 L352.7,45.13 L353.2,44.63 L353.7,45.65 L354.2,45.51 L354.7,45.26 L355.2,45.15 L355.7,46.11 L356.2,44.94 L356.7,46.43 L357.2,46.05 L357.7,46.81 L358.2,45.64 L358.7,45.98 L359.2,45.85 L359.7,46.17 L360.2,46.08 L360.7,45.91 L361.2,46.68 L361.7,45.97" stroke="#444480" stroke-width="1.1" fill="none" stroke-linejoin="round" opacity="1.0"/>
<path d="M200.2,61.00 L200.7,61.40 L201.2,60.94 L201.7,60.95 L202.2,61.23 L202.7,60.91 L203.2,60.51 L203.7,60.93 L204.2,60.84 L204.7,61.56 L205.2,60.39 L205.7,61.17 L206.2,60.42 L206.7,60.54 L207.2,60.51 L207.7,60.70 L208.2,60.90 L208.7,61.22 L209.2,60.23 L209.7,60.98 L210.2,60.82 L210.7,60.73 L211.2,60.05 L211.7,60.65 L212.2,60.17 L212.7,60.27 L213.2,59.92 L213.7,60.19 L214.2,60.25 L214.7,60.14 L215.2,59.48 L215.7,59.83 L216.2,59.88 L216.7,58.80 L217.2,59.63 L217.7,58.38 L218.2,59.01 L218.7,58.92 L219.2,59.17 L219.7,58.59 L220.2,58.20 L220.7,57.99 L221.2,57.74 L221.7,58.50 L222.2,58.04 L222.7,57.78 L223.2,58.20 L223.7,57.59 L224.2,57.63 L224.7,57.52 L225.2,58.25 L225.7,58.06 L226.2,57.29 L226.7,56.60 L227.2,57.21 L227.7,57.00 L228.2,56.99 L228.7,56.96 L229.2,56.49 L229.7,56.89 L230.2,56.75 L230.7,56.41 L231.2,56.09 L231.7,55.99 L232.2,56.40 L232.7,55.61 L233.2,55.89 L233.7,55.53 L234.2,55.14 L234.7,55.78 L235.2,55.36 L235.7,55.20 L236.2,55.34 L236.7,54.20 L237.2,54.58 L237.7,54.53 L238.2,54.57 L238.7,53.63 L239.2,54.19 L239.7,53.86 L240.2,54.19 L240.7,54.00 L241.2,53.66 L241.7,54.11 L242.2,52.99 L242.7,52.52 L243.2,52.23 L243.7,51.67 L244.2,51.74 L244.7,50.75 L245.2,51.29 L245.7,51.69 L246.2,52.35 L246.7,52.30 L247.2,53.40 L247.7,52.69 L248.2,52.71 L248.7,51.78 L249.2,52.01 L249.7,51.93 L250.2,53.15 L250.7,53.22 L251.2,53.11 L251.7,54.29 L252.2,54.74 L252.7,54.81 L253.2,55.05 L253.7,55.00 L254.2,55.00 L254.7,54.63 L255.2,55.41 L255.7,56.09 L256.2,56.29 L256.7,55.76 L257.2,55.72 L257.7,56.07 L258.2,56.63 L258.7,56.53 L259.2,56.26 L259.7,56.70 L260.2,56.52 L260.7,56.81 L261.2,56.46 L261.7,56.06 L262.2,56.67 L262.7,56.95 L263.2,56.24 L263.7,56.64 L264.2,57.04 L264.7,56.57 L265.2,56.48 L265.7,57.54 L266.2,57.09 L266.7,57.19 L267.2,56.44 L267.7,57.46 L268.2,56.20 L268.7,56.66 L269.2,57.17 L269.7,57.42 L270.2,56.56 L270.7,56.68 L271.2,57.04 L271.7,56.23 L272.2,57.24 L272.7,57.23 L273.2,56.85 L273.7,57.25 L274.2,57.35 L274.7,57.18 L275.2,57.28 L275.7,57.67 L276.2,56.91 L276.7,57.17 L277.2,56.91 L277.7,57.53 L278.2,56.99 L278.7,57.35 L279.2,57.24 L279.7,57.23 L280.2,57.89 L280.7,57.22 L281.2,57.83 L281.7,57.62 L282.2,57.84 L282.7,57.29 L283.2,57.74 L283.7,57.71 L284.2,57.21 L284.7,57.58 L285.2,57.46 L285.7,57.53 L286.2,58.08 L286.7,57.33 L287.2,56.99 L287.7,57.00 L288.2,57.53 L288.7,57.49 L289.2,57.77 L289.7,58.02 L290.2,58.51 L290.7,57.98 L291.2,58.07 L291.7,57.64 L292.2,58.17 L292.7,58.50 L293.2,58.52 L293.7,57.27 L294.2,58.40 L294.7,58.69 L295.2,58.42 L295.7,57.54 L296.2,58.02 L296.7,58.38 L297.2,58.33 L297.7,57.87 L298.2,57.86 L298.7,58.63 L299.2,57.82 L299.7,58.98 L300.2,58.53 L300.7,58.75 L301.2,58.24 L301.7,58.66 L302.2,59.28 L302.7,58.59 L303.2,60.08 L303.7,58.88 L304.2,59.07 L304.7,59.67 L305.2,59.94 L305.7,60.13 L306.2,59.78 L306.7,59.91 L307.2,59.89 L307.7,59.71 L308.2,58.89 L308.7,60.21 L309.2,59.90 L309.7,59.98 L310.2,59.87 L310.7,60.46 L311.2,60.64 L311.7,60.93 L312.2,61.70 L312.7,60.93 L313.2,61.98 L313.7,61.73 L314.2,62.22 L314.7,63.08 L315.2,62.36 L315.7,63.11 L316.2,63.39 L316.7,64.50 L317.2,64.32 L317.7,64.61 L318.2,65.98 L318.7,66.11 L319.2,66.50 L319.7,67.32 L320.2,66.13 L320.7,65.67 L321.2,65.10 L321.7,64.46 L322.2,63.53 L322.7,63.94 L323.2,64.58 L323.7,63.79 L324.2,64.92 L324.7,63.63 L325.2,65.17 L325.7,64.48 L326.2,64.39 L326.7,63.84 L327.2,63.29 L327.7,62.57 L328.2,62.40 L328.7,62.54 L329.2,62.00 L329.7,61.00 L330.2,60.56 L330.7,60.22 L331.2,59.85 L331.7,60.83 L332.2,60.17 L332.7,59.70 L333.2,59.17 L333.7,58.65 L334.2,59.22 L334.7,58.69 L335.2,57.72 L335.7,58.17 L336.2,57.11 L336.7,57.57 L337.2,56.79 L337.7,56.76 L338.2,56.73 L338.7,56.22 L339.2,55.87 L339.7,54.53 L340.2,54.78 L340.7,54.01 L341.2,52.82 L341.7,52.38 L342.2,51.35 L342.7,51.12 L343.2,50.31 L343.7,51.05 L344.2,51.82 L344.7,53.22 L345.2,54.15 L345.7,55.20 L346.2,55.74 L346.7,56.58 L347.2,56.99 L347.7,57.32 L348.2,56.65 L348.7,57.87 L349.2,57.18 L349.7,57.81 L350.2,58.24 L350.7,58.25 L351.2,59.28 L351.7,58.77 L352.2,59.54 L352.7,59.47 L353.2,58.87 L353.7,59.27 L354.2,59.68 L354.7,59.12 L355.2,59.36 L355.7,59.20 L356.2,59.53 L356.7,59.46 L357.2,59.72 L357.7,60.17 L358.2,60.41 L358.7,60.02 L359.2,60.13 L359.7,60.46 L360.2,60.10 L360.7,59.87 L361.2,60.76 L361.7,60.02" stroke="#419654" stroke-width="1.1" fill="none" stroke-linejoin="round" opacity="1.0"/>
<path d="M200.2,72.36 L200.7,71.61 L201.2,72.66 L201.7,71.52 L202.2,72.22 L202.7,72.43 L203.2,71.44 L203.7,72.34 L204.2,71.41 L204.7,71.00 L205.2,71.91 L205.7,71.85 L206.2,71.45 L206.7,70.52 L207.2,71.42 L207.7,71.28 L208.2,71.21 L208.7,71.21 L209.2,70.60 L209.7,71.03 L210.2,71.92 L210.7,71.80 L211.2,71.03 L211.7,70.84 L212.2,71.20 L212.7,71.38 L213.2,71.17 L213.7,70.35 L214.2,70.77 L214.7,70.66 L215.2,71.05 L215.7,70.86 L216.2,70.50 L216.7,70.66 L217.2,69.95 L217.7,70.60 L218.2,69.76 L218.7,70.01 L219.2,70.14 L219.7,69.38 L220.2,69.42 L220.7,68.98 L221.2,69.67 L221.7,69.52 L222.2,69.36 L222.7,69.61 L223.2,68.53 L223.7,69.25 L224.2,69.21 L224.7,68.98 L225.2,69.30 L225.7,69.58 L226.2,68.64 L226.7,68.35 L227.2,68.39 L227.7,68.57 L228.2,68.67 L228.7,68.03 L229.2,68.66 L229.7,67.81 L230.2,68.45 L230.7,68.23 L231.2,68.19 L231.7,68.79 L232.2,67.81 L232.7,67.79 L233.2,67.94 L233.7,67.96 L234.2,66.97 L234.7,67.44 L235.2,66.91 L235.7,67.32 L236.2,67.53 L236.7,66.90 L237.2,66.68 L237.7,66.59 L238.2,65.17 L238.7,66.35 L239.2,66.01 L239.7,65.59 L240.2,65.10 L240.7,64.71 L241.2,64.68 L241.7,64.98 L242.2,64.28 L242.7,64.67 L243.2,63.03 L243.7,63.73 L244.2,63.85 L244.7,63.53 L245.2,62.67 L245.7,62.80 L246.2,63.28 L246.7,62.06 L247.2,61.95 L247.7,61.73 L248.2,61.81 L248.7,62.69 L249.2,63.49 L249.7,63.51 L250.2,65.90 L250.7,66.03 L251.2,66.68 L251.7,67.65 L252.2,67.00 L252.7,66.59 L253.2,66.85 L253.7,66.85 L254.2,66.78 L254.7,67.08 L255.2,67.58 L255.7,67.41 L256.2,66.78 L256.7,68.41 L257.2,66.99 L257.7,67.43 L258.2,67.41 L258.7,67.70 L259.2,67.29 L259.7,67.60 L260.2,68.25 L260.7,67.49 L261.2,67.05 L261.7,67.60 L262.2,67.18 L262.7,67.36 L263.2,67.59 L263.7,67.66 L264.2,67.44 L264.7,67.89 L265.2,67.50 L265.7,67.09 L266.2,67.95 L266.7,67.49 L267.2,68.11 L267.7,67.41 L268.2,67.90 L268.7,67.82 L269.2,66.68 L269.7,67.16 L270.2,67.32 L270.7,68.30 L271.2,67.05 L271.7,68.14 L272.2,68.23 L272.7,68.01 L273.2,68.09 L273.7,67.66 L274.2,67.85 L274.7,67.95 L275.2,68.04 L275.7,68.16 L276.2,67.81 L276.7,67.63 L277.2,67.69 L277.7,68.07 L278.2,67.28 L278.7,67.44 L279.2,67.77 L279.7,67.73 L280.2,67.84 L280.7,66.93 L281.2,67.83 L281.7,67.88 L282.2,68.28 L282.7,67.23 L283.2,67.89 L283.7,68.20 L284.2,68.21 L284.7,68.50 L285.2,68.45 L285.7,67.66 L286.2,68.32 L286.7,67.95 L287.2,67.79 L287.7,68.70 L288.2,67.88 L288.7,67.80 L289.2,67.99 L289.7,67.83 L290.2,68.55 L290.7,68.32 L291.2,68.73 L291.7,68.36 L292.2,67.97 L292.7,68.62 L293.2,67.98 L293.7,68.06 L294.2,68.18 L294.7,68.27 L295.2,68.72 L295.7,68.04 L296.2,68.41 L296.7,68.27 L297.2,67.81 L297.7,67.87 L298.2,68.22 L298.7,68.50 L299.2,68.51 L299.7,68.63 L300.2,68.53 L300.7,68.42 L301.2,68.84 L301.7,68.37 L302.2,68.33 L302.7,68.81 L303.2,68.47 L303.7,68.91 L304.2,68.91 L304.7,69.06 L305.2,69.32 L305.7,69.09 L306.2,69.29 L306.7,68.83 L307.2,69.50 L307.7,69.00 L308.2,69.37 L308.7,68.00 L309.2,68.70 L309.7,69.23 L310.2,68.43 L310.7,69.53 L311.2,70.04 L311.7,70.41 L312.2,70.18 L312.7,71.21 L313.2,71.53 L313.7,71.40 L314.2,72.31 L314.7,72.18 L315.2,72.33 L315.7,72.32 L316.2,72.91 L316.7,72.98 L317.2,73.63 L317.7,73.63 L318.2,73.47 L318.7,73.86 L319.2,74.50 L319.7,74.16 L320.2,74.51 L320.7,74.29 L321.2,73.66 L321.7,72.39 L322.2,72.86 L322.7,72.38 L323.2,71.85 L323.7,71.04 L324.2,71.41 L324.7,70.59 L325.2,70.23 L325.7,70.11 L326.2,70.41 L326.7,69.72 L327.2,69.60 L327.7,70.61 L328.2,70.18 L328.7,69.92 L329.2,69.89 L329.7,69.46 L330.2,68.46 L330.7,69.49 L331.2,69.43 L331.7,69.02 L332.2,67.93 L332.7,69.00 L333.2,68.86 L333.7,67.95 L334.2,67.98 L334.7,68.02 L335.2,67.49 L335.7,67.77 L336.2,67.21 L336.7,67.31 L337.2,66.97 L337.7,66.19 L338.2,66.09 L338.7,67.34 L339.2,65.79 L339.7,65.72 L340.2,65.15 L340.7,64.86 L341.2,63.91 L341.7,62.99 L342.2,62.82 L342.7,61.72 L343.2,62.11 L343.7,62.68 L344.2,62.05 L344.7,63.68 L345.2,64.74 L345.7,65.75 L346.2,65.62 L346.7,66.32 L347.2,66.19 L347.7,66.62 L348.2,67.35 L348.7,68.10 L349.2,67.03 L349.7,68.20 L350.2,68.02 L350.7,67.84 L351.2,69.05 L351.7,67.36 L352.2,68.42 L352.7,68.59 L353.2,69.35 L353.7,69.24 L354.2,69.44 L354.7,68.64 L355.2,69.00 L355.7,69.18 L356.2,68.88 L356.7,68.85 L357.2,68.68 L357.7,68.62 L358.2,68.34 L358.7,69.60 L359.2,68.70 L359.7,68.10 L360.2,69.03 L360.7,68.94 L361.2,69.04 L361.7,69.70" stroke="#dc4fcf" stroke-width="1.1" fill="none" stroke-linejoin="round" opacity="1.0"/>
<path d="M200.2,81.96 L200.7,81.87 L201.2,81.66 L201.7,81.91 L202.2,81.71 L202.7,81.92 L203.2,83.02 L203.7,81.92 L204.2,81.38 L204.7,82.42 L205.2,81.96 L205.7,81.89 L206.2,81.79 L206.7,81.78 L207.2,81.67 L207.7,81.89 L208.2,81.68 L208.7,81.75 L209.2,80.97 L209.7,81.10 L210.2,80.76 L210.7,81.36 L211.2,81.25 L211.7,80.68 L212.2,81.03 L212.7,81.76 L213.2,81.17 L213.7,80.19 L214.2,80.54 L214.7,80.77 L215.2,80.46 L215.7,80.57 L216.2,80.83 L216.7,80.46 L217.2,79.86 L217.7,80.53 L218.2,80.17 L218.7,80.22 L219.2,79.93 L219.7,79.58 L220.2,79.61 L220.7,79.92 L221.2,79.60 L221.7,78.92 L222.2,80.38 L222.7,79.42 L223.2,79.54 L223.7,79.97 L224.2,78.75 L224.7,80.15 L225.2,79.26 L225.7,79.74 L226.2,79.22 L226.7,79.45 L227.2,79.29 L227.7,79.17 L228.2,78.38 L228.7,78.44 L229.2,78.92 L229.7,79.40 L230.2,78.57 L230.7,78.91 L231.2,78.69 L231.7,78.75 L232.2,78.88 L232.7,77.85 L233.2,78.48 L233.7,78.24 L234.2,78.14 L234.7,77.88 L235.2,77.87 L235.7,77.73 L236.2,77.67 L236.7,78.88 L237.2,78.30 L237.7,77.33 L238.2,77.25 L238.7,76.18 L239.2,75.06 L239.7,75.01 L240.2,75.37 L240.7,75.51 L241.2,74.60 L241.7,73.95 L242.2,74.04 L242.7,73.59 L243.2,73.25 L243.7,73.47 L244.2,73.13 L244.7,72.67 L245.2,72.32 L245.7,71.98 L246.2,72.13 L246.7,72.29 L247.2,71.41 L247.7,72.16 L248.2,70.50 L248.7,72.09 L249.2,73.26 L249.7,75.52 L250.2,76.97 L250.7,77.40 L251.2,77.77 L251.7,77.31 L252.2,77.25 L252.7,77.88 L253.2,78.27 L253.7,78.06 L254.2,78.81 L254.7,79.12 L255.2,77.83 L255.7,78.41 L256.2,78.55 L256.7,77.28 L257.2,78.00 L257.7,77.75 L258.2,77.26 L258.7,78.35 L259.2,77.96 L259.7,77.72 L260.2,78.12 L260.7,78.25 L261.2,78.34 L261.7,78.32 L262.2,78.31 L262.7,77.74 L263.2,78.10 L263.7,78.37 L264.2,77.30 L264.7,79.28 L265.2,78.36 L265.7,78.17 L266.2,77.94 L266.7,78.81 L267.2,78.79 L267.7,78.62 L268.2,78.75 L268.7,78.63 L269.2,78.75 L269.7,79.07 L270.2,78.91 L270.7,79.49 L271.2,79.22 L271.7,79.38 L272.2,79.54 L272.7,79.92 L273.2,79.70 L273.7,79.59 L274.2,79.48 L274.7,79.26 L275.2,79.47 L275.7,79.87 L276.2,79.70 L276.7,79.47 L277.2,79.11 L277.7,79.04 L278.2,79.77 L278.7,80.06 L279.2,79.82 L279.7,79.15 L280.2,79.61 L280.7,79.80 L281.2,79.37 L281.7,79.87 L282.2,79.67 L282.7,79.44 L283.2,79.30 L283.7,80.11 L284.2,79.95 L284.7,79.48 L285.2,79.44 L285.7,80.20 L286.2,80.10 L286.7,79.76 L287.2,80.52 L287.7,79.80 L288.2,79.51 L288.7,80.36 L289.2,79.87 L289.7,80.09 L290.2,79.98 L290.7,79.58 L291.2,79.52 L291.7,79.91 L292.2,80.54 L292.7,79.61 L293.2,80.55 L293.7,80.12 L294.2,79.61 L294.7,80.17 L295.2,80.31 L295.7,79.76 L296.2,79.30 L296.7,80.29 L297.2,79.75 L297.7,80.38 L298.2,79.49 L298.7,80.21 L299.2,79.97 L299.7,79.74 L300.2,80.25 L300.7,80.44 L301.2,80.18 L301.7,79.97 L302.2,80.53 L302.7,79.79 L303.2,80.70 L303.7,80.71 L304.2,81.19 L304.7,80.90 L305.2,80.71 L305.7,80.69 L306.2,80.61 L306.7,80.12 L307.2,81.28 L307.7,81.00 L308.2,80.78 L308.7,80.54 L309.2,81.65 L309.7,81.36 L310.2,80.74 L310.7,81.72 L311.2,82.54 L311.7,82.22 L312.2,82.87 L312.7,83.09 L313.2,83.56 L313.7,84.77 L314.2,86.08 L314.7,85.41 L315.2,85.74 L315.7,86.45 L316.2,86.28 L316.7,86.50 L317.2,86.27 L317.7,85.24 L318.2,84.92 L318.7,85.07 L319.2,85.22 L319.7,84.63 L320.2,84.49 L320.7,82.90 L321.2,83.07 L321.7,82.17 L322.2,82.14 L322.7,82.30 L323.2,81.91 L323.7,82.34 L324.2,82.12 L324.7,82.81 L325.2,82.49 L325.7,82.71 L326.2,82.73 L326.7,82.04 L327.2,82.31 L327.7,81.13 L328.2,81.19 L328.7,80.44 L329.2,79.42 L329.7,79.28 L330.2,78.66 L330.7,78.55 L331.2,78.43 L331.7,79.11 L332.2,78.09 L332.7,78.68 L333.2,78.04 L333.7,77.13 L334.2,76.50 L334.7,77.42 L335.2,76.13 L335.7,76.93 L336.2,76.80 L336.7,76.31 L337.2,75.86 L337.7,75.64 L338.2,75.65 L338.7,75.28 L339.2,75.06 L339.7,74.93 L340.2,75.08 L340.7,73.79 L341.2,73.49 L341.7,72.17 L342.2,71.66 L342.7,70.84 L343.2,70.88 L343.7,71.67 L344.2,72.47 L344.7,73.34 L345.2,75.00 L345.7,75.73 L346.2,76.82 L346.7,77.03 L347.2,77.18 L347.7,76.06 L348.2,76.58 L348.7,77.46 L349.2,77.20 L349.7,78.19 L350.2,77.32 L350.7,77.28 L351.2,78.15 L351.7,77.85 L352.2,78.44 L352.7,77.95 L353.2,77.71 L353.7,78.16 L354.2,77.71 L354.7,78.01 L355.2,78.16 L355.7,78.50 L356.2,79.10 L356.7,78.82 L357.2,79.31 L357.7,79.15 L358.2,79.81 L358.7,78.38 L359.2,79.25 L359.7,79.24 L360.2,78.58 L360.7,79.22 L361.2,78.75 L361.7,79.05" stroke="#3f3f9a" stroke-width="1.1" fill="none" stroke-linejoin="round" opacity="1.0"/>
<path d="M200.2,93.57 L200.7,93.43 L201.2,93.10 L201.7,92.72 L202.2,93.03 L202.7,92.91 L203.2,93.15 L203.7,92.84 L204.2,94.17 L204.7,92.34 L205.2,93.37 L205.7,92.70 L206.2,92.75 L206.7,93.16 L207.2,92.76 L207.7,92.25 L208.2,92.83 L208.7,92.56 L209.2,91.79 L209.7,92.62 L210.2,92.09 L210.7,92.16 L211.2,92.59 L211.7,92.48 L212.2,92.20 L212.7,93.11 L213.2,92.39 L213.7,91.95 L214.2,92.24 L214.7,92.06 L215.2,91.22 L215.7,91.43 L216.2,91.46 L216.7,92.77 L217.2,91.87 L217.7,91.80 L218.2,91.66 L218.7,92.24 L219.2,91.85 L219.7,92.47 L220.2,92.10 L220.7,92.40 L221.2,91.68 L221.7,91.83 L222.2,91.47 L222.7,91.52 L223.2,90.86 L223.7,91.25 L224.2,91.04 L224.7,91.10 L225.2,91.75 L225.7,91.31 L226.2,91.61 L226.7,91.40 L227.2,91.35 L227.7,91.31 L228.2,90.61 L228.7,91.09 L229.2,90.58 L229.7,90.44 L230.2,91.04 L230.7,91.35 L231.2,90.08 L231.7,91.07 L232.2,90.67 L232.7,89.98 L233.2,90.37 L233.7,90.37 L234.2,90.34 L234.7,89.92 L235.2,89.38 L235.7,89.68 L236.2,89.75 L236.7,89.45 L237.2,89.11 L237.7,88.97 L238.2,87.85 L238.7,87.90 L239.2,87.74 L239.7,87.69 L240.2,87.09 L240.7,86.98 L241.2,86.61 L241.7,87.18 L242.2,85.38 L242.7,86.21 L243.2,87.22 L243.7,86.42 L244.2,85.68 L244.7,86.49 L245.2,85.93 L245.7,86.14 L246.2,86.12 L246.7,86.20 L247.2,85.17 L247.7,84.71 L248.2,84.39 L248.7,83.78 L249.2,84.57 L249.7,86.62 L250.2,88.17 L250.7,88.21 L251.2,88.28 L251.7,88.66 L252.2,88.53 L252.7,89.02 L253.2,89.68 L253.7,89.82 L254.2,90.16 L254.7,90.72 L255.2,90.25 L255.7,90.06 L256.2,89.55 L256.7,89.51 L257.2,90.01 L257.7,89.48 L258.2,89.98 L258.7,89.43 L259.2,89.93 L259.7,89.88 L260.2,90.33 L260.7,89.84 L261.2,89.90 L261.7,90.19 L262.2,90.17 L262.7,90.85 L263.2,90.16 L263.7,90.11 L264.2,90.26 L264.7,90.63 L265.2,90.60 L265.7,90.85 L266.2,90.11 L266.7,91.67 L267.2,91.49 L267.7,90.84 L268.2,90.45 L268.7,91.04 L269.2,91.20 L269.7,90.24 L270.2,91.17 L270.7,90.65 L271.2,91.45 L271.7,91.86 L272.2,91.77 L272.7,90.84 L273.2,92.00 L273.7,91.85 L274.2,91.40 L274.7,91.77 L275.2,92.18 L275.7,91.50 L276.2,91.65 L276.7,91.47 L277.2,92.17 L277.7,90.94 L278.2,92.36 L278.7,91.48 L279.2,92.26 L279.7,91.33 L280.2,91.65 L280.7,91.84 L281.2,92.44 L281.7,91.56 L282.2,92.48 L282.7,92.06 L283.2,92.85 L283.7,92.31 L284.2,92.68 L284.7,92.49 L285.2,93.31 L285.7,92.54 L286.2,92.73 L286.7,93.56 L287.2,92.89 L287.7,93.18 L288.2,92.68 L288.7,93.09 L289.2,92.19 L289.7,93.15 L290.2,92.90 L290.7,92.61 L291.2,92.68 L291.7,93.70 L292.2,93.45 L292.7,92.72 L293.2,94.01 L293.7,93.06 L294.2,93.21 L294.7,93.46 L295.2,92.95 L295.7,92.78 L296.2,93.14 L296.7,93.91 L297.2,93.85 L297.7,92.90 L298.2,93.99 L298.7,93.57 L299.2,93.78 L299.7,93.63 L300.2,93.80 L300.7,93.28 L301.2,93.33 L301.7,93.44 L302.2,93.59 L302.7,93.98 L303.2,93.29 L303.7,94.39 L304.2,93.55 L304.7,93.55 L305.2,93.89 L305.7,93.57 L306.2,93.02 L306.7,92.48 L307.2,92.27 L307.7,91.86 L308.2,92.89 L308.7,93.04 L309.2,93.56 L309.7,93.30 L310.2,93.52 L310.7,93.95 L311.2,94.25 L311.7,93.95 L312.2,94.41 L312.7,95.48 L313.2,94.48 L313.7,95.15 L314.2,95.94 L314.7,97.25 L315.2,98.04 L315.7,98.03 L316.2,98.92 L316.7,99.04 L317.2,99.33 L317.7,98.44 L318.2,97.83 L318.7,96.89 L319.2,96.36 L319.7,95.91 L320.2,93.68 L320.7,94.39 L321.2,94.48 L321.7,95.26 L322.2,95.76 L322.7,96.12 L323.2,96.55 L323.7,96.20 L324.2,95.96 L324.7,97.02 L325.2,96.54 L325.7,95.34 L326.2,95.80 L326.7,95.11 L327.2,93.44 L327.7,94.26 L328.2,93.07 L328.7,93.45 L329.2,92.33 L329.7,91.94 L330.2,91.33 L330.7,91.60 L331.2,91.91 L331.7,91.09 L332.2,90.43 L332.7,91.74 L333.2,91.36 L333.7,90.62 L334.2,89.84 L334.7,89.26 L335.2,88.77 L335.7,89.29 L336.2,89.25 L336.7,88.03 L337.2,88.15 L337.7,87.78 L338.2,87.56 L338.7,87.64 L339.2,88.09 L339.7,86.83 L340.2,86.96 L340.7,86.45 L341.2,85.23 L341.7,84.56 L342.2,83.42 L342.7,83.78 L343.2,82.76 L343.7,83.01 L344.2,83.97 L344.7,84.45 L345.2,85.26 L345.7,86.34 L346.2,87.61 L346.7,87.18 L347.2,87.60 L347.7,86.99 L348.2,86.99 L348.7,88.66 L349.2,88.03 L349.7,87.83 L350.2,88.63 L350.7,89.14 L351.2,88.46 L351.7,88.99 L352.2,89.61 L352.7,89.31 L353.2,90.09 L353.7,90.22 L354.2,90.09 L354.7,89.84 L355.2,90.08 L355.7,89.96 L356.2,90.27 L356.7,90.57 L357.2,90.46 L357.7,91.09 L358.2,91.85 L358.7,90.76 L359.2,91.23 L359.7,91.53 L360.2,91.57 L360.7,91.32 L361.2,91.31 L361.7,91.95" stroke="#e0505a" stroke-width="1.1" fill="none" stroke-linejoin="round" opacity="1.0"/>
<path d="M200.2,106.14 L200.7,106.07 L201.2,105.54 L201.7,106.07 L202.2,106.11 L202.7,105.70 L203.2,105.98 L203.7,106.54 L204.2,104.94 L204.7,105.86 L205.2,105.13 L205.7,105.01 L206.2,105.40 L206.7,105.66 L207.2,105.42 L207.7,104.90 L208.2,104.74 L208.7,105.03 L209.2,105.20 L209.7,104.83 L210.2,104.51 L210.7,105.72 L211.2,104.67 L211.7,104.88 L212.2,104.68 L212.7,104.61 L213.2,104.81 L213.7,104.63 L214.2,104.94 L214.7,104.20 L215.2,104.04 L215.7,105.32 L216.2,104.50 L216.7,104.79 L217.2,104.91 L217.7,104.64 L218.2,104.41 L218.7,103.76 L219.2,103.72 L219.7,104.70 L220.2,104.56 L220.7,104.50 L221.2,103.61 L221.7,103.40 L222.2,103.79 L222.7,103.71 L223.2,104.19 L223.7,103.70 L224.2,104.67 L224.7,103.78 L225.2,103.76 L225.7,104.27 L226.2,104.01 L226.7,103.49 L227.2,104.11 L227.7,104.50 L228.2,103.23 L228.7,103.56 L229.2,103.20 L229.7,102.82 L230.2,103.78 L230.7,103.77 L231.2,103.84 L231.7,103.59 L232.2,102.61 L232.7,103.36 L233.2,103.08 L233.7,102.86 L234.2,102.87 L234.7,103.45 L235.2,102.86 L235.7,103.52 L236.2,102.68 L236.7,101.48 L237.2,102.27 L237.7,102.09 L238.2,101.29 L238.7,100.49 L239.2,101.33 L239.7,99.83 L240.2,100.02 L240.7,99.05 L241.2,99.08 L241.7,98.72 L242.2,99.65 L242.7,99.52 L243.2,98.68 L243.7,98.03 L244.2,98.22 L244.7,98.04 L245.2,96.92 L245.7,96.67 L246.2,96.70 L246.7,96.64 L247.2,96.05 L247.7,95.90 L248.2,94.98 L248.7,94.29 L249.2,95.65 L249.7,96.01 L250.2,97.37 L250.7,98.26 L251.2,99.30 L251.7,99.33 L252.2,101.03 L252.7,101.41 L253.2,102.32 L253.7,102.53 L254.2,102.66 L254.7,102.36 L255.2,101.47 L255.7,101.85 L256.2,102.77 L256.7,102.18 L257.2,102.17 L257.7,102.10 L258.2,101.66 L258.7,101.69 L259.2,101.75 L259.7,102.51 L260.2,102.26 L260.7,102.88 L261.2,102.44 L261.7,103.06 L262.2,102.58 L262.7,102.02 L263.2,103.25 L263.7,102.78 L264.2,103.21 L264.7,102.92 L265.2,102.80 L265.7,103.09 L266.2,102.68 L266.7,102.75 L267.2,102.97 L267.7,103.21 L268.2,102.98 L268.7,103.56 L269.2,103.81 L269.7,104.58 L270.2,104.59 L270.7,103.93 L271.2,104.38 L271.7,104.02 L272.2,104.33 L272.7,104.23 L273.2,104.09 L273.7,104.39 L274.2,103.83 L274.7,104.63 L275.2,104.39 L275.7,104.10 L276.2,104.41 L276.7,104.81 L277.2,104.36 L277.7,104.85 L278.2,104.93 L278.7,105.37 L279.2,104.38 L279.7,104.81 L280.2,105.11 L280.7,105.56 L281.2,105.13 L281.7,105.38 L282.2,104.57 L282.7,104.98 L283.2,105.92 L283.7,105.22 L284.2,106.25 L284.7,105.17 L285.2,105.41 L285.7,104.95 L286.2,105.89 L286.7,105.80 L287.2,106.55 L287.7,105.88 L288.2,105.77 L288.7,105.36 L289.2,105.93 L289.7,106.38 L290.2,106.34 L290.7,106.57 L291.2,106.47 L291.7,106.14 L292.2,106.42 L292.7,106.28 L293.2,105.70 L293.7,106.93 L294.2,106.43 L294.7,105.90 L295.2,106.51 L295.7,106.51 L296.2,106.83 L296.7,107.05 L297.2,105.32 L297.7,106.79 L298.2,107.22 L298.7,106.29 L299.2,105.98 L299.7,106.87 L300.2,106.94 L300.7,106.99 L301.2,106.45 L301.7,106.75 L302.2,107.05 L302.7,107.30 L303.2,107.90 L303.7,107.18 L304.2,106.85 L304.7,106.15 L305.2,107.37 L305.7,106.71 L306.2,106.50 L306.7,105.93 L307.2,106.41 L307.7,105.25 L308.2,106.01 L308.7,106.28 L309.2,106.69 L309.7,107.41 L310.2,107.06 L310.7,107.44 L311.2,108.21 L311.7,107.80 L312.2,108.82 L312.7,109.36 L313.2,109.95 L313.7,109.51 L314.2,110.48 L314.7,110.71 L315.2,110.39 L315.7,110.80 L316.2,111.18 L316.7,112.09 L317.2,112.23 L317.7,112.06 L318.2,111.57 L318.7,110.41 L319.2,110.42 L319.7,109.75 L320.2,109.17 L320.7,109.05 L321.2,108.54 L321.7,109.46 L322.2,109.21 L322.7,109.45 L323.2,110.06 L323.7,110.47 L324.2,110.39 L324.7,109.99 L325.2,109.36 L325.7,109.41 L326.2,108.56 L326.7,107.77 L327.2,107.82 L327.7,107.80 L328.2,106.51 L328.7,105.73 L329.2,106.22 L329.7,105.92 L330.2,104.76 L330.7,104.51 L331.2,104.52 L331.7,105.47 L332.2,104.19 L332.7,104.35 L333.2,103.92 L333.7,102.79 L334.2,102.83 L334.7,102.52 L335.2,102.92 L335.7,102.53 L336.2,102.95 L336.7,101.88 L337.2,101.88 L337.7,101.58 L338.2,101.42 L338.7,102.12 L339.2,101.18 L339.7,101.43 L340.2,100.84 L340.7,99.38 L341.2,99.07 L341.7,97.78 L342.2,97.17 L342.7,96.52 L343.2,95.98 L343.7,96.15 L344.2,97.76 L344.7,98.03 L345.2,99.46 L345.7,100.79 L346.2,101.06 L346.7,101.47 L347.2,101.75 L347.7,101.79 L348.2,102.23 L348.7,101.19 L349.2,102.77 L349.7,102.24 L350.2,101.77 L350.7,102.45 L351.2,102.37 L351.7,103.12 L352.2,102.72 L352.7,103.06 L353.2,103.70 L353.7,103.69 L354.2,103.34 L354.7,103.61 L355.2,103.71 L355.7,103.83 L356.2,103.86 L356.7,103.84 L357.2,104.34 L357.7,103.42 L358.2,103.93 L358.7,104.24 L359.2,104.09 L359.7,104.09 L360.2,104.19 L360.7,104.49 L361.2,104.95 L361.7,104.41" stroke="#2a2a2a" stroke-width="1.1" fill="none" stroke-linejoin="round" opacity="1.0"/>
<rect x="200.2" y="5.5" width="162.10000000000002" height="111.3" fill="none" stroke="#333" stroke-width="1.0"/>
<line x1="200.20" y1="116.8" x2="200.20" y2="118.8" stroke="#333" stroke-width="0.8"/>
<line x1="218.62" y1="116.8" x2="218.62" y2="118.8" stroke="#333" stroke-width="0.8"/>
<line x1="237.04" y1="116.8" x2="237.04" y2="118.8" stroke="#333" stroke-width="0.8"/>
<line x1="255.46" y1="116.8" x2="255.46" y2="118.8" stroke="#333" stroke-width="0.8"/>
<line x1="273.88" y1="116.8" x2="273.88" y2="118.8" stroke="#333" stroke-width="0.8"/>
<line x1="292.30" y1="116.8" x2="292.30" y2="118.8" stroke="#333" stroke-width="0.8"/>
<line x1="310.72" y1="116.8" x2="310.72" y2="118.8" stroke="#333" stroke-width="0.8"/>
<line x1="329.14" y1="116.8" x2="329.14" y2="118.8" stroke="#333" stroke-width="0.8"/>
<line x1="347.56" y1="116.8" x2="347.56" y2="118.8" stroke="#333" stroke-width="0.8"/>
<text x="200.2" y="124.8" font-family="Liberation Serif" font-size="6.6" font-weight="bold" text-anchor="middle" fill="#111" >3000</text>
<text x="237.0" y="124.8" font-family="Liberation Serif" font-size="6.6" font-weight="bold" text-anchor="middle" fill="#111" >2500</text>
<text x="273.9" y="124.8" font-family="Liberation Serif" font-size="6.6" font-weight="bold" text-anchor="middle" fill="#111" >2000</text>
<text x="310.7" y="124.8" font-family="Liberation Serif" font-size="6.6" font-weight="bold" text-anchor="middle" fill="#111" >1500</text>
<text x="347.6" y="124.8" font-family="Liberation Serif" font-size="6.6" font-weight="bold" text-anchor="middle" fill="#111" >1000</text>
<text x="283" y="133.1" font-family="Liberation Serif" font-size="6.6" font-weight="bold" text-anchor="middle" fill="#111" stroke="#111" stroke-width="0.1" textLength="61" lengthAdjust="spacingAndGlyphs">Wavenumber (cm<tspan font-size="4.2" dy="-2.4">-1</tspan><tspan dy="2.4">)</tspan></text>
<text x="0" y="0" font-family="Liberation Serif" font-size="6.8" font-weight="bold" text-anchor="middle" fill="#111" transform="translate(195.4,65) rotate(-90)">Absorbance (a.u.)</text>
<text x="203.9" y="17.6" font-family="Liberation Sans" font-size="10.9" font-weight="bold" text-anchor="start" fill="#111" stroke="#111" stroke-width="0.25" >(b)</text>
<text x="359.5" y="14.4" font-family="Liberation Serif" font-size="6.3" font-weight="bold" text-anchor="end" fill="#111" stroke="#111" stroke-width="0.1" >Ru/3LaN/ZrH<tspan font-size="4" dy="1.5">2</tspan><tspan dy="-1.5">-350 °C</tspan></text>
<text x="249.4" y="29.8" font-family="Liberation Serif" font-size="5.2" font-weight="bold" text-anchor="middle" fill="#111" >2348</text>
<text x="278.2" y="38.2" font-family="Liberation Serif" font-size="5.4" font-weight="bold" text-anchor="end" fill="#111" >30 min</text>
<text x="278.2" y="52.5" font-family="Liberation Serif" font-size="5.4" font-weight="bold" text-anchor="end" fill="#111" >20 min</text>
<text x="278.2" y="65.6" font-family="Liberation Serif" font-size="5.4" font-weight="bold" text-anchor="end" fill="#111" >10 min</text>
<text x="278.2" y="75.6" font-family="Liberation Serif" font-size="5.4" font-weight="bold" text-anchor="end" fill="#111" >5 min</text>
<text x="278.2" y="86.6" font-family="Liberation Serif" font-size="5.4" font-weight="bold" text-anchor="end" fill="#111" >3 min</text>
<text x="278.2" y="99.4" font-family="Liberation Serif" font-size="5.4" font-weight="bold" text-anchor="end" fill="#111" >1 min</text>
<line x1="430.6" y1="38.5" x2="430.6" y2="115" stroke="#999" stroke-width="0.5" stroke-dasharray="0.8,0.8"/>
<path d="M384.4,43.52 L384.9,43.71 L385.4,43.53 L385.9,43.03 L386.4,43.70 L386.9,43.51 L387.4,43.46 L387.9,43.82 L388.4,43.65 L388.9,43.48 L389.4,43.00 L389.9,43.15 L390.4,43.67 L390.9,43.64 L391.4,43.82 L391.9,43.76 L392.4,43.56 L392.9,43.33 L393.4,43.39 L393.9,43.69 L394.4,43.39 L394.9,43.97 L395.4,43.35 L395.9,43.22 L396.4,43.71 L396.9,43.24 L397.4,44.26 L397.9,43.48 L398.4,43.77 L398.9,43.72 L399.4,43.55 L399.9,43.27 L400.4,43.24 L400.9,44.05 L401.4,44.09 L401.9,44.43 L402.4,43.33 L402.9,43.93 L403.4,43.75 L403.9,44.00 L404.4,43.58 L404.9,43.94 L405.4,43.98 L405.9,43.88 L406.4,44.12 L406.9,43.63 L407.4,44.13 L407.9,43.44 L408.4,44.14 L408.9,42.80 L409.4,43.62 L409.9,43.36 L410.4,43.59 L410.9,43.89 L411.4,43.78 L411.9,43.58 L412.4,44.05 L412.9,43.08 L413.4,43.27 L413.9,43.96 L414.4,43.59 L414.9,42.86 L415.4,43.57 L415.9,43.11 L416.4,43.89 L416.9,43.79 L417.4,43.27 L417.9,43.81 L418.4,43.17 L418.9,43.69 L419.4,43.58 L419.9,43.36 L420.4,42.98 L420.9,43.33 L421.4,42.74 L421.9,43.27 L422.4,42.90 L422.9,43.83 L423.4,43.19 L423.9,42.77 L424.4,43.69 L424.9,43.64 L425.4,43.39 L425.9,44.19 L426.4,43.80 L426.9,43.60 L427.4,43.40 L427.9,42.71 L428.4,43.63 L428.9,43.56 L429.4,42.85 L429.9,42.36 L430.4,42.61 L430.9,42.21 L431.4,42.93 L431.9,43.41 L432.4,43.87 L432.9,43.66 L433.4,43.66 L433.9,43.82 L434.4,44.02 L434.9,43.50 L435.4,43.23 L435.9,43.36 L436.4,43.22 L436.9,43.33 L437.4,43.56 L437.9,43.70 L438.4,43.65 L438.9,43.62 L439.4,43.49 L439.9,43.73 L440.4,43.87 L440.9,43.83 L441.4,44.05 L441.9,43.51 L442.4,43.52 L442.9,44.11 L443.4,43.66 L443.9,43.72 L444.4,43.50 L444.9,43.89 L445.4,43.48 L445.9,43.30 L446.4,43.58 L446.9,43.47 L447.4,43.85 L447.9,43.49 L448.4,43.64 L448.9,43.53 L449.4,43.70 L449.9,43.41 L450.4,43.93 L450.9,43.17 L451.4,43.48 L451.9,43.39 L452.4,43.79 L452.9,43.61 L453.4,43.75 L453.9,43.50 L454.4,43.38 L454.9,43.26 L455.4,43.50 L455.9,43.44 L456.4,43.68 L456.9,43.71 L457.4,43.89 L457.9,43.57 L458.4,43.38 L458.9,43.28 L459.4,43.62 L459.9,43.71 L460.4,44.18 L460.9,43.65 L461.4,44.13 L461.9,44.16 L462.4,43.29 L462.9,43.96 L463.4,43.94 L463.9,44.00 L464.4,43.60 L464.9,43.89 L465.4,43.46 L465.9,43.58 L466.4,43.61 L466.9,44.13 L467.4,43.54 L467.9,43.89 L468.4,43.62 L468.9,43.40 L469.4,43.81 L469.9,44.10 L470.4,43.89 L470.9,44.49 L471.4,44.25 L471.9,44.32 L472.4,45.06 L472.9,45.64 L473.4,46.32 L473.9,47.10 L474.4,48.49 L474.9,49.28 L475.4,49.37 L475.9,48.88 L476.4,47.39 L476.9,47.00 L477.4,46.31 L477.9,46.13 L478.4,45.75 L478.9,45.84 L479.4,45.73 L479.9,45.93 L480.4,45.65 L480.9,45.59 L481.4,45.22 L481.9,45.62 L482.4,45.62 L482.9,45.03 L483.4,45.28 L483.9,45.11 L484.4,44.94 L484.9,44.52 L485.4,45.95 L485.9,45.86 L486.4,47.70 L486.9,48.60 L487.4,49.84 L487.9,48.62 L488.4,47.09 L488.9,45.53 L489.4,44.34 L489.9,44.72 L490.4,46.11 L490.9,47.01 L491.4,47.68 L491.9,47.11 L492.4,47.08 L492.9,46.79 L493.4,46.48 L493.9,46.69 L494.4,46.46 L494.9,46.27 L495.4,45.13 L495.9,44.71 L496.4,44.39 L496.9,43.62 L497.4,43.19 L497.9,42.39 L498.4,41.47 L498.9,41.11 L499.4,41.35 L499.9,40.73 L500.4,43.47 L500.9,50.70 L501.4,56.84 L501.9,59.97 L502.4,63.17 L502.9,65.17 L503.4,64.28 L503.9,62.89 L504.4,60.58 L504.9,55.74 L505.4,51.14 L505.9,46.29 L506.4,43.76 L506.9,43.71 L507.4,44.19 L507.9,44.92 L508.4,45.02 L508.9,45.20 L509.4,45.54 L509.9,45.67 L510.4,45.43 L510.9,45.62 L511.4,45.72 L511.9,45.98 L512.4,44.88 L512.9,45.12 L513.4,45.08 L513.9,45.69 L514.4,46.14 L514.9,45.46 L515.4,45.57 L515.9,46.13 L516.4,45.36 L516.9,46.32 L517.4,45.64 L517.9,47.24 L518.4,48.15 L518.9,48.96 L519.4,48.13 L519.9,46.29 L520.4,45.58 L520.9,44.99 L521.4,44.92 L521.9,45.32 L522.4,44.17 L522.9,44.29 L523.4,43.49 L523.9,43.86 L524.4,43.56 L524.9,43.17 L525.4,43.54 L525.9,43.98 L526.4,44.23 L526.9,44.18 L527.4,44.53 L527.9,45.21 L528.4,44.73 L528.9,45.19 L529.4,45.35 L529.9,45.00 L530.4,44.98 L530.9,44.66 L531.4,44.13 L531.9,44.05 L532.4,43.38 L532.9,43.56 L533.4,43.51 L533.9,43.17 L534.4,43.06 L534.9,43.03 L535.4,42.38 L535.9,42.32 L536.4,41.81 L536.9,42.55 L537.4,41.80 L537.9,41.68 L538.4,42.55 L538.9,42.44 L539.4,42.99 L539.9,42.80 L540.4,43.75 L540.9,43.52 L541.4,43.51 L541.9,43.62 L542.4,43.51 L542.9,43.76 L543.4,44.06 L543.9,43.27 L544.4,43.02 L544.9,43.48" stroke="#444480" stroke-width="1.1" fill="none" stroke-linejoin="round" opacity="1.0"/>
<path d="M384.4,57.02 L384.9,56.26 L385.4,56.50 L385.9,56.42 L386.4,56.88 L386.9,56.87 L387.4,56.51 L387.9,56.40 L388.4,56.94 L388.9,56.14 L389.4,56.95 L389.9,56.72 L390.4,57.34 L390.9,57.07 L391.4,56.62 L391.9,56.71 L392.4,56.72 L392.9,56.60 L393.4,56.84 L393.9,57.11 L394.4,56.39 L394.9,56.78 L395.4,57.29 L395.9,57.08 L396.4,56.62 L396.9,56.63 L397.4,56.62 L397.9,56.41 L398.4,57.23 L398.9,56.91 L399.4,56.69 L399.9,56.48 L400.4,56.78 L400.9,56.74 L401.4,57.39 L401.9,56.74 L402.4,56.90 L402.9,57.18 L403.4,57.05 L403.9,56.79 L404.4,56.19 L404.9,57.24 L405.4,56.99 L405.9,56.67 L406.4,56.76 L406.9,56.50 L407.4,56.50 L407.9,56.32 L408.4,56.89 L408.9,56.88 L409.4,56.77 L409.9,56.93 L410.4,56.85 L410.9,56.71 L411.4,56.40 L411.9,56.83 L412.4,56.99 L412.9,56.81 L413.4,56.98 L413.9,56.46 L414.4,56.30 L414.9,56.95 L415.4,56.40 L415.9,56.63 L416.4,56.50 L416.9,56.55 L417.4,56.45 L417.9,56.37 L418.4,55.99 L418.9,57.07 L419.4,56.57 L419.9,55.93 L420.4,56.24 L420.9,56.18 L421.4,56.31 L421.9,55.79 L422.4,56.72 L422.9,57.05 L423.4,56.51 L423.9,56.82 L424.4,56.79 L424.9,56.26 L425.4,57.00 L425.9,56.16 L426.4,56.50 L426.9,56.58 L427.4,57.06 L427.9,56.73 L428.4,56.55 L428.9,56.14 L429.4,56.15 L429.9,55.90 L430.4,55.94 L430.9,56.22 L431.4,56.24 L431.9,56.28 L432.4,56.47 L432.9,57.15 L433.4,56.76 L433.9,56.70 L434.4,57.23 L434.9,57.16 L435.4,56.87 L435.9,56.67 L436.4,56.51 L436.9,57.01 L437.4,56.57 L437.9,56.98 L438.4,56.47 L438.9,56.73 L439.4,56.82 L439.9,56.74 L440.4,56.77 L440.9,56.81 L441.4,56.37 L441.9,56.37 L442.4,56.66 L442.9,57.23 L443.4,56.66 L443.9,56.43 L444.4,56.51 L444.9,56.71 L445.4,57.05 L445.9,56.53 L446.4,56.86 L446.9,56.75 L447.4,56.60 L447.9,56.42 L448.4,56.66 L448.9,56.49 L449.4,56.86 L449.9,56.18 L450.4,57.03 L450.9,56.92 L451.4,56.87 L451.9,57.14 L452.4,56.88 L452.9,56.20 L453.4,56.72 L453.9,56.83 L454.4,56.50 L454.9,56.37 L455.4,56.83 L455.9,56.85 L456.4,56.58 L456.9,56.63 L457.4,56.55 L457.9,56.53 L458.4,56.68 L458.9,57.01 L459.4,56.23 L459.9,56.60 L460.4,57.17 L460.9,56.79 L461.4,56.75 L461.9,56.94 L462.4,56.41 L462.9,56.35 L463.4,56.21 L463.9,56.27 L464.4,56.77 L464.9,56.95 L465.4,56.58 L465.9,56.50 L466.4,56.82 L466.9,56.88 L467.4,56.78 L467.9,56.14 L468.4,56.54 L468.9,55.98 L469.4,56.91 L469.9,56.76 L470.4,57.01 L470.9,57.84 L471.4,57.95 L471.9,57.82 L472.4,58.17 L472.9,58.86 L473.4,59.54 L473.9,60.67 L474.4,62.15 L474.9,62.05 L475.4,62.42 L475.9,61.97 L476.4,61.21 L476.9,60.22 L477.4,59.01 L477.9,59.11 L478.4,58.96 L478.9,58.55 L479.4,58.82 L479.9,58.57 L480.4,58.94 L480.9,58.74 L481.4,58.31 L481.9,58.48 L482.4,58.26 L482.9,58.09 L483.4,58.05 L483.9,58.43 L484.4,57.93 L484.9,57.51 L485.4,58.30 L485.9,59.76 L486.4,61.34 L486.9,61.51 L487.4,62.49 L487.9,61.75 L488.4,59.77 L488.9,58.56 L489.4,57.29 L489.9,58.06 L490.4,59.66 L490.9,59.92 L491.4,60.72 L491.9,60.61 L492.4,60.01 L492.9,59.83 L493.4,60.29 L493.9,59.92 L494.4,59.48 L494.9,58.62 L495.4,58.59 L495.9,57.85 L496.4,57.78 L496.9,57.18 L497.4,56.50 L497.9,55.52 L498.4,54.80 L498.9,54.34 L499.4,54.21 L499.9,53.85 L500.4,56.46 L500.9,63.32 L501.4,68.19 L501.9,70.37 L502.4,74.13 L502.9,76.01 L503.4,74.03 L503.9,73.12 L504.4,71.12 L504.9,67.49 L505.4,63.20 L505.9,59.19 L506.4,56.67 L506.9,57.41 L507.4,57.74 L507.9,57.21 L508.4,57.28 L508.9,58.50 L509.4,58.43 L509.9,58.54 L510.4,58.22 L510.9,58.77 L511.4,58.63 L511.9,58.46 L512.4,58.86 L512.9,59.28 L513.4,58.98 L513.9,58.87 L514.4,58.39 L514.9,58.69 L515.4,58.62 L515.9,59.23 L516.4,59.36 L516.9,59.46 L517.4,59.83 L517.9,60.08 L518.4,61.63 L518.9,62.64 L519.4,61.03 L519.9,59.73 L520.4,57.86 L520.9,58.36 L521.4,58.16 L521.9,57.37 L522.4,57.91 L522.9,57.15 L523.4,56.33 L523.9,56.19 L524.4,56.63 L524.9,56.14 L525.4,56.66 L525.9,56.14 L526.4,56.89 L526.9,57.56 L527.4,57.45 L527.9,58.18 L528.4,58.16 L528.9,58.57 L529.4,58.40 L529.9,58.58 L530.4,57.17 L530.9,57.46 L531.4,57.51 L531.9,56.69 L532.4,56.90 L532.9,57.38 L533.4,56.84 L533.9,55.47 L534.4,56.07 L534.9,55.45 L535.4,55.85 L535.9,55.38 L536.4,55.27 L536.9,55.07 L537.4,55.30 L537.9,55.15 L538.4,55.16 L538.9,55.53 L539.4,55.92 L539.9,55.76 L540.4,56.55 L540.9,55.93 L541.4,56.69 L541.9,56.57 L542.4,57.13 L542.9,56.44 L543.4,56.37 L543.9,56.11 L544.4,57.02 L544.9,56.59" stroke="#419654" stroke-width="1.1" fill="none" stroke-linejoin="round" opacity="1.0"/>
<path d="M384.4,68.88 L384.9,69.11 L385.4,68.93 L385.9,69.66 L386.4,69.34 L386.9,68.63 L387.4,69.29 L387.9,69.50 L388.4,69.24 L388.9,69.39 L389.4,69.22 L389.9,69.32 L390.4,69.33 L390.9,69.07 L391.4,69.39 L391.9,69.34 L392.4,69.29 L392.9,69.11 L393.4,69.02 L393.9,69.40 L394.4,69.58 L394.9,68.64 L395.4,69.19 L395.9,69.75 L396.4,69.63 L396.9,69.16 L397.4,69.77 L397.9,69.09 L398.4,69.16 L398.9,69.96 L399.4,69.27 L399.9,69.34 L400.4,68.91 L400.9,69.10 L401.4,69.04 L401.9,69.34 L402.4,68.83 L402.9,69.67 L403.4,69.25 L403.9,69.17 L404.4,69.15 L404.9,69.54 L405.4,69.76 L405.9,69.18 L406.4,69.76 L406.9,69.75 L407.4,69.66 L407.9,69.34 L408.4,68.81 L408.9,69.42 L409.4,69.10 L409.9,69.26 L410.4,68.64 L410.9,69.09 L411.4,69.23 L411.9,68.88 L412.4,69.22 L412.9,69.62 L413.4,69.18 L413.9,68.90 L414.4,69.79 L414.9,68.45 L415.4,68.80 L415.9,69.18 L416.4,68.88 L416.9,68.37 L417.4,69.11 L417.9,69.27 L418.4,68.79 L418.9,69.44 L419.4,69.15 L419.9,69.35 L420.4,68.56 L420.9,69.01 L421.4,69.49 L421.9,69.63 L422.4,69.44 L422.9,69.07 L423.4,69.13 L423.9,68.91 L424.4,69.43 L424.9,68.93 L425.4,69.18 L425.9,68.55 L426.4,68.73 L426.9,69.70 L427.4,69.21 L427.9,69.26 L428.4,68.45 L428.9,68.87 L429.4,69.23 L429.9,67.95 L430.4,67.53 L430.9,68.26 L431.4,68.37 L431.9,68.72 L432.4,68.64 L432.9,68.78 L433.4,68.84 L433.9,69.39 L434.4,69.19 L434.9,69.44 L435.4,68.88 L435.9,69.37 L436.4,69.07 L436.9,69.23 L437.4,69.47 L437.9,69.21 L438.4,69.10 L438.9,68.71 L439.4,69.22 L439.9,69.43 L440.4,69.01 L440.9,69.18 L441.4,68.68 L441.9,68.81 L442.4,69.32 L442.9,69.58 L443.4,69.11 L443.9,68.71 L444.4,69.09 L444.9,68.74 L445.4,69.12 L445.9,69.77 L446.4,69.29 L446.9,69.16 L447.4,69.50 L447.9,69.09 L448.4,69.30 L448.9,69.26 L449.4,69.33 L449.9,68.77 L450.4,69.41 L450.9,69.46 L451.4,68.53 L451.9,68.40 L452.4,68.94 L452.9,69.64 L453.4,69.21 L453.9,69.40 L454.4,69.36 L454.9,69.46 L455.4,69.01 L455.9,69.03 L456.4,69.31 L456.9,69.38 L457.4,69.37 L457.9,69.30 L458.4,69.06 L458.9,69.53 L459.4,69.34 L459.9,69.51 L460.4,68.45 L460.9,69.50 L461.4,68.48 L461.9,69.26 L462.4,69.00 L462.9,69.24 L463.4,69.06 L463.9,69.11 L464.4,69.26 L464.9,69.30 L465.4,68.96 L465.9,68.45 L466.4,68.97 L466.9,69.36 L467.4,68.95 L467.9,69.33 L468.4,69.09 L468.9,68.94 L469.4,69.68 L469.9,69.99 L470.4,69.67 L470.9,69.88 L471.4,70.35 L471.9,69.79 L472.4,70.33 L472.9,71.65 L473.4,72.48 L473.9,73.04 L474.4,73.86 L474.9,74.91 L475.4,74.69 L475.9,74.27 L476.4,73.38 L476.9,71.75 L477.4,71.96 L477.9,71.87 L478.4,71.85 L478.9,70.99 L479.4,70.91 L479.9,70.97 L480.4,70.78 L480.9,71.72 L481.4,70.75 L481.9,70.86 L482.4,70.93 L482.9,70.91 L483.4,71.12 L483.9,70.29 L484.4,70.82 L484.9,70.55 L485.4,70.67 L485.9,72.07 L486.4,72.79 L486.9,74.80 L487.4,74.88 L487.9,74.65 L488.4,73.07 L488.9,70.76 L489.4,69.53 L489.9,70.52 L490.4,71.20 L490.9,72.76 L491.4,73.04 L491.9,72.64 L492.4,72.49 L492.9,72.72 L493.4,71.90 L493.9,72.72 L494.4,71.70 L494.9,71.38 L495.4,70.55 L495.9,70.68 L496.4,69.89 L496.9,69.64 L497.4,68.96 L497.9,67.97 L498.4,67.78 L498.9,67.20 L499.4,66.75 L499.9,66.45 L500.4,68.99 L500.9,75.59 L501.4,80.55 L501.9,82.56 L502.4,87.01 L502.9,87.67 L503.4,86.13 L503.9,85.28 L504.4,84.04 L504.9,80.19 L505.4,75.38 L505.9,71.80 L506.4,69.19 L506.9,68.82 L507.4,69.63 L507.9,70.21 L508.4,70.87 L508.9,70.51 L509.4,70.45 L509.9,70.72 L510.4,71.28 L510.9,71.19 L511.4,71.19 L511.9,71.16 L512.4,70.99 L512.9,70.66 L513.4,71.19 L513.9,71.15 L514.4,71.19 L514.9,71.38 L515.4,70.76 L515.9,70.69 L516.4,71.16 L516.9,72.62 L517.4,71.90 L517.9,72.91 L518.4,73.90 L518.9,74.92 L519.4,74.59 L519.9,71.91 L520.4,70.79 L520.9,70.41 L521.4,70.48 L521.9,70.32 L522.4,69.61 L522.9,70.01 L523.4,69.68 L523.9,69.22 L524.4,68.84 L524.9,68.65 L525.4,68.35 L525.9,69.29 L526.4,69.12 L526.9,69.63 L527.4,70.44 L527.9,70.21 L528.4,70.61 L528.9,71.23 L529.4,71.36 L529.9,70.23 L530.4,70.36 L530.9,69.54 L531.4,69.75 L531.9,69.66 L532.4,69.03 L532.9,69.52 L533.4,69.57 L533.9,68.85 L534.4,68.72 L534.9,68.09 L535.4,68.80 L535.9,68.11 L536.4,67.56 L536.9,68.04 L537.4,67.28 L537.9,67.58 L538.4,67.28 L538.9,68.51 L539.4,68.96 L539.9,68.32 L540.4,68.53 L540.9,68.74 L541.4,68.90 L541.9,69.35 L542.4,69.61 L542.9,68.82 L543.4,69.19 L543.9,68.46 L544.4,69.40 L544.9,68.88" stroke="#dc4fcf" stroke-width="1.1" fill="none" stroke-linejoin="round" opacity="1.0"/>
<path d="M384.4,80.79 L384.9,81.46 L385.4,80.98 L385.9,81.42 L386.4,81.34 L386.9,81.52 L387.4,80.79 L387.9,81.05 L388.4,81.15 L388.9,80.99 L389.4,81.51 L389.9,80.85 L390.4,81.37 L390.9,81.49 L391.4,80.50 L391.9,80.80 L392.4,80.83 L392.9,80.95 L393.4,81.24 L393.9,81.08 L394.4,81.16 L394.9,81.01 L395.4,81.13 L395.9,81.30 L396.4,81.39 L396.9,80.94 L397.4,81.14 L397.9,80.95 L398.4,81.13 L398.9,80.76 L399.4,81.48 L399.9,81.40 L400.4,81.16 L400.9,80.98 L401.4,81.05 L401.9,80.98 L402.4,80.71 L402.9,81.65 L403.4,82.14 L403.9,80.77 L404.4,80.78 L404.9,81.30 L405.4,81.29 L405.9,80.63 L406.4,80.51 L406.9,81.24 L407.4,80.47 L407.9,81.48 L408.4,80.89 L408.9,81.05 L409.4,81.01 L409.9,80.83 L410.4,80.95 L410.9,80.89 L411.4,81.34 L411.9,80.92 L412.4,80.93 L412.9,80.77 L413.4,80.72 L413.9,80.68 L414.4,80.90 L414.9,81.43 L415.4,81.21 L415.9,80.93 L416.4,81.35 L416.9,81.15 L417.4,80.90 L417.9,80.78 L418.4,80.49 L418.9,80.89 L419.4,80.71 L419.9,80.33 L420.4,80.42 L420.9,81.40 L421.4,80.89 L421.9,80.99 L422.4,80.91 L422.9,80.73 L423.4,81.02 L423.9,81.22 L424.4,80.82 L424.9,81.08 L425.4,81.25 L425.9,80.81 L426.4,81.02 L426.9,80.76 L427.4,81.17 L427.9,80.89 L428.4,81.23 L428.9,80.45 L429.4,80.93 L429.9,80.09 L430.4,79.77 L430.9,79.84 L431.4,80.52 L431.9,80.32 L432.4,81.35 L432.9,81.36 L433.4,81.16 L433.9,80.57 L434.4,80.99 L434.9,80.78 L435.4,80.46 L435.9,81.13 L436.4,81.66 L436.9,80.84 L437.4,81.24 L437.9,81.39 L438.4,80.71 L438.9,80.90 L439.4,81.08 L439.9,81.14 L440.4,80.66 L440.9,81.06 L441.4,80.97 L441.9,81.29 L442.4,80.52 L442.9,80.83 L443.4,80.85 L443.9,80.90 L444.4,81.22 L444.9,80.81 L445.4,81.82 L445.9,80.79 L446.4,81.25 L446.9,81.31 L447.4,81.29 L447.9,80.94 L448.4,80.75 L448.9,80.92 L449.4,81.20 L449.9,81.04 L450.4,81.17 L450.9,81.17 L451.4,80.73 L451.9,80.72 L452.4,81.43 L452.9,80.85 L453.4,80.52 L453.9,81.56 L454.4,80.75 L454.9,80.72 L455.4,81.29 L455.9,80.66 L456.4,80.74 L456.9,81.31 L457.4,80.75 L457.9,81.75 L458.4,81.03 L458.9,81.81 L459.4,81.04 L459.9,81.02 L460.4,80.81 L460.9,80.93 L461.4,80.85 L461.9,80.99 L462.4,81.23 L462.9,80.62 L463.4,80.72 L463.9,80.37 L464.4,81.45 L464.9,80.98 L465.4,81.00 L465.9,80.98 L466.4,81.30 L466.9,81.10 L467.4,81.26 L467.9,80.95 L468.4,80.96 L468.9,81.00 L469.4,80.58 L469.9,81.63 L470.4,81.03 L470.9,81.40 L471.4,82.07 L471.9,82.00 L472.4,82.64 L472.9,83.63 L473.4,84.57 L473.9,85.40 L474.4,85.82 L474.9,87.22 L475.4,86.65 L475.9,86.19 L476.4,85.55 L476.9,84.22 L477.4,83.55 L477.9,83.34 L478.4,83.75 L478.9,82.47 L479.4,83.48 L479.9,83.33 L480.4,82.94 L480.9,83.08 L481.4,82.55 L481.9,83.09 L482.4,83.59 L482.9,82.30 L483.4,82.91 L483.9,82.40 L484.4,82.25 L484.9,82.16 L485.4,82.76 L485.9,83.45 L486.4,84.60 L486.9,86.62 L487.4,86.89 L487.9,86.31 L488.4,84.58 L488.9,82.89 L489.4,81.14 L489.9,81.99 L490.4,83.50 L490.9,84.59 L491.4,84.44 L491.9,84.49 L492.4,84.17 L492.9,84.50 L493.4,84.24 L493.9,84.03 L494.4,83.54 L494.9,83.34 L495.4,82.64 L495.9,81.77 L496.4,81.54 L496.9,80.85 L497.4,80.85 L497.9,79.93 L498.4,78.87 L498.9,78.98 L499.4,78.44 L499.9,77.87 L500.4,80.29 L500.9,86.81 L501.4,92.06 L501.9,94.94 L502.4,98.56 L502.9,99.67 L503.4,98.62 L503.9,97.40 L504.4,95.50 L504.9,91.76 L505.4,87.73 L505.9,83.75 L506.4,80.77 L506.9,81.33 L507.4,80.83 L507.9,81.87 L508.4,82.32 L508.9,82.84 L509.4,82.84 L509.9,83.24 L510.4,83.38 L510.9,82.71 L511.4,82.78 L511.9,83.00 L512.4,83.04 L512.9,82.91 L513.4,83.10 L513.9,82.48 L514.4,83.05 L514.9,83.15 L515.4,83.27 L515.9,83.32 L516.4,83.42 L516.9,83.89 L517.4,83.95 L517.9,84.12 L518.4,85.52 L518.9,86.49 L519.4,85.28 L519.9,83.59 L520.4,82.57 L520.9,82.28 L521.4,82.23 L521.9,81.95 L522.4,81.75 L522.9,81.71 L523.4,81.18 L523.9,81.01 L524.4,80.31 L524.9,79.64 L525.4,80.52 L525.9,81.10 L526.4,81.11 L526.9,81.39 L527.4,81.57 L527.9,82.55 L528.4,82.41 L528.9,82.84 L529.4,82.95 L529.9,82.39 L530.4,82.50 L530.9,81.50 L531.4,81.72 L531.9,81.52 L532.4,80.98 L532.9,81.03 L533.4,80.66 L533.9,80.33 L534.4,80.53 L534.9,80.01 L535.4,80.56 L535.9,79.67 L536.4,79.57 L536.9,79.64 L537.4,79.36 L537.9,79.60 L538.4,79.54 L538.9,79.47 L539.4,79.38 L539.9,79.93 L540.4,80.98 L540.9,80.84 L541.4,80.91 L541.9,80.84 L542.4,80.93 L542.9,81.01 L543.4,80.45 L543.9,80.56 L544.4,80.48 L544.9,81.08" stroke="#3f3f9a" stroke-width="1.1" fill="none" stroke-linejoin="round" opacity="1.0"/>
<path d="M384.4,92.68 L384.9,93.36 L385.4,92.87 L385.9,93.83 L386.4,92.99 L386.9,93.03 L387.4,93.43 L387.9,93.30 L388.4,93.32 L388.9,92.73 L389.4,93.40 L389.9,93.57 L390.4,93.04 L390.9,92.93 L391.4,92.76 L391.9,93.40 L392.4,93.19 L392.9,93.11 L393.4,92.75 L393.9,93.61 L394.4,93.40 L394.9,93.14 L395.4,93.59 L395.9,92.87 L396.4,93.43 L396.9,92.87 L397.4,93.60 L397.9,93.10 L398.4,93.55 L398.9,93.07 L399.4,93.32 L399.9,93.54 L400.4,92.93 L400.9,93.22 L401.4,92.93 L401.9,93.43 L402.4,92.99 L402.9,93.05 L403.4,93.09 L403.9,93.49 L404.4,92.82 L404.9,93.12 L405.4,93.01 L405.9,92.94 L406.4,92.85 L406.9,93.03 L407.4,93.12 L407.9,92.59 L408.4,93.11 L408.9,92.67 L409.4,93.02 L409.9,93.69 L410.4,92.70 L410.9,92.96 L411.4,92.89 L411.9,93.25 L412.4,92.80 L412.9,92.39 L413.4,92.43 L413.9,92.96 L414.4,92.97 L414.9,93.20 L415.4,92.71 L415.9,93.06 L416.4,92.53 L416.9,93.23 L417.4,92.81 L417.9,92.62 L418.4,92.87 L418.9,93.34 L419.4,92.55 L419.9,92.43 L420.4,92.50 L420.9,92.47 L421.4,92.81 L421.9,92.94 L422.4,92.80 L422.9,92.92 L423.4,93.24 L423.9,92.81 L424.4,92.54 L424.9,92.24 L425.4,93.02 L425.9,92.75 L426.4,92.90 L426.9,93.10 L427.4,93.13 L427.9,92.53 L428.4,92.60 L428.9,92.70 L429.4,92.38 L429.9,92.53 L430.4,91.87 L430.9,91.49 L431.4,92.67 L431.9,92.09 L432.4,92.52 L432.9,93.09 L433.4,92.68 L433.9,93.75 L434.4,93.07 L434.9,93.16 L435.4,92.87 L435.9,93.67 L436.4,93.16 L436.9,92.78 L437.4,93.38 L437.9,92.49 L438.4,92.82 L438.9,93.09 L439.4,93.04 L439.9,92.71 L440.4,93.47 L440.9,93.44 L441.4,92.72 L441.9,93.11 L442.4,92.81 L442.9,92.87 L443.4,93.30 L443.9,93.04 L444.4,92.97 L444.9,93.03 L445.4,92.65 L445.9,93.37 L446.4,92.77 L446.9,93.39 L447.4,92.86 L447.9,92.86 L448.4,93.45 L448.9,93.06 L449.4,92.81 L449.9,92.84 L450.4,93.18 L450.9,93.56 L451.4,93.18 L451.9,92.88 L452.4,92.66 L452.9,92.80 L453.4,92.96 L453.9,93.07 L454.4,92.80 L454.9,93.38 L455.4,92.71 L455.9,92.79 L456.4,93.15 L456.9,93.14 L457.4,92.88 L457.9,93.29 L458.4,92.58 L458.9,93.49 L459.4,93.66 L459.9,93.59 L460.4,93.04 L460.9,93.59 L461.4,93.02 L461.9,93.40 L462.4,92.94 L462.9,93.06 L463.4,93.16 L463.9,92.48 L464.4,92.94 L464.9,93.52 L465.4,92.12 L465.9,93.12 L466.4,93.28 L466.9,93.10 L467.4,93.06 L467.9,93.42 L468.4,93.10 L468.9,92.45 L469.4,92.85 L469.9,93.22 L470.4,93.54 L470.9,93.56 L471.4,93.83 L471.9,94.48 L472.4,93.51 L472.9,95.46 L473.4,96.30 L473.9,97.16 L474.4,97.89 L474.9,98.63 L475.4,99.02 L475.9,98.29 L476.4,97.03 L476.9,96.51 L477.4,95.34 L477.9,95.43 L478.4,95.23 L478.9,94.87 L479.4,95.28 L479.9,94.99 L480.4,94.62 L480.9,94.89 L481.4,94.43 L481.9,95.19 L482.4,94.82 L482.9,95.17 L483.4,94.32 L483.9,94.63 L484.4,94.06 L484.9,94.05 L485.4,94.79 L485.9,95.94 L486.4,97.29 L486.9,98.04 L487.4,99.23 L487.9,98.44 L488.4,96.22 L488.9,94.69 L489.4,93.33 L489.9,94.79 L490.4,95.14 L490.9,96.56 L491.4,97.06 L491.9,96.59 L492.4,96.35 L492.9,96.41 L493.4,95.90 L493.9,95.64 L494.4,95.45 L494.9,95.34 L495.4,94.69 L495.9,94.52 L496.4,92.90 L496.9,93.20 L497.4,92.22 L497.9,92.09 L498.4,91.29 L498.9,90.84 L499.4,90.86 L499.9,89.97 L500.4,91.55 L500.9,95.89 L501.4,99.40 L501.9,101.04 L502.4,103.16 L502.9,104.30 L503.4,103.09 L503.9,102.21 L504.4,101.16 L504.9,99.03 L505.4,96.54 L505.9,94.34 L506.4,92.74 L506.9,93.20 L507.4,93.38 L507.9,93.87 L508.4,93.90 L508.9,94.71 L509.4,95.10 L509.9,95.19 L510.4,94.82 L510.9,94.62 L511.4,94.55 L511.9,94.57 L512.4,94.70 L512.9,94.78 L513.4,94.32 L513.9,95.03 L514.4,94.36 L514.9,94.60 L515.4,94.72 L515.9,95.44 L516.4,96.04 L516.9,95.67 L517.4,95.89 L517.9,96.48 L518.4,97.64 L518.9,98.45 L519.4,98.16 L519.9,95.54 L520.4,94.61 L520.9,94.16 L521.4,94.31 L521.9,93.81 L522.4,93.87 L522.9,93.09 L523.4,93.76 L523.9,92.95 L524.4,92.15 L524.9,92.73 L525.4,92.50 L525.9,92.55 L526.4,93.35 L526.9,93.42 L527.4,94.16 L527.9,94.12 L528.4,94.83 L528.9,94.81 L529.4,94.71 L529.9,94.28 L530.4,93.72 L530.9,93.43 L531.4,93.56 L531.9,93.53 L532.4,93.05 L532.9,93.67 L533.4,93.33 L533.9,92.30 L534.4,92.76 L534.9,92.22 L535.4,92.13 L535.9,91.65 L536.4,92.23 L536.9,91.37 L537.4,91.49 L537.9,91.37 L538.4,92.29 L538.9,92.27 L539.4,91.71 L539.9,92.18 L540.4,92.63 L540.9,92.58 L541.4,92.76 L541.9,92.66 L542.4,93.05 L542.9,92.60 L543.4,93.11 L543.9,93.51 L544.4,92.65 L544.9,93.19" stroke="#e0505a" stroke-width="1.1" fill="none" stroke-linejoin="round" opacity="1.0"/>
<path d="M384.4,108.33 L384.9,107.95 L385.4,108.03 L385.9,107.78 L386.4,108.11 L386.9,108.27 L387.4,108.30 L387.9,107.83 L388.4,107.47 L388.9,107.80 L389.4,108.36 L389.9,107.83 L390.4,107.67 L390.9,106.94 L391.4,107.48 L391.9,107.79 L392.4,107.24 L392.9,107.99 L393.4,107.27 L393.9,107.10 L394.4,107.12 L394.9,107.21 L395.4,107.50 L395.9,106.87 L396.4,106.36 L396.9,106.87 L397.4,106.99 L397.9,107.26 L398.4,106.28 L398.9,107.11 L399.4,106.78 L399.9,106.66 L400.4,106.23 L400.9,106.18 L401.4,106.14 L401.9,106.78 L402.4,106.52 L402.9,106.80 L403.4,107.04 L403.9,106.40 L404.4,106.36 L404.9,107.01 L405.4,105.89 L405.9,106.16 L406.4,106.17 L406.9,106.15 L407.4,106.31 L407.9,105.96 L408.4,106.63 L408.9,105.75 L409.4,105.93 L409.9,105.62 L410.4,105.71 L410.9,106.39 L411.4,106.39 L411.9,106.10 L412.4,106.44 L412.9,106.35 L413.4,105.92 L413.9,106.09 L414.4,106.21 L414.9,106.76 L415.4,105.90 L415.9,106.17 L416.4,106.22 L416.9,106.44 L417.4,106.16 L417.9,106.37 L418.4,105.60 L418.9,105.83 L419.4,105.18 L419.9,105.75 L420.4,106.49 L420.9,105.70 L421.4,105.58 L421.9,105.60 L422.4,105.53 L422.9,105.00 L423.4,105.18 L423.9,105.32 L424.4,105.39 L424.9,105.00 L425.4,105.20 L425.9,104.94 L426.4,104.68 L426.9,104.86 L427.4,104.75 L427.9,105.27 L428.4,105.40 L428.9,105.10 L429.4,104.79 L429.9,104.64 L430.4,104.26 L430.9,104.76 L431.4,105.73 L431.9,105.89 L432.4,105.85 L432.9,105.89 L433.4,106.00 L433.9,106.15 L434.4,106.00 L434.9,106.15 L435.4,105.73 L435.9,106.02 L436.4,105.88 L436.9,106.37 L437.4,105.57 L437.9,106.45 L438.4,105.97 L438.9,105.83 L439.4,106.01 L439.9,106.04 L440.4,105.92 L440.9,106.15 L441.4,105.80 L441.9,105.42 L442.4,106.24 L442.9,105.99 L443.4,106.57 L443.9,106.13 L444.4,105.31 L444.9,106.43 L445.4,105.76 L445.9,106.18 L446.4,106.75 L446.9,106.36 L447.4,105.60 L447.9,105.94 L448.4,105.41 L448.9,106.19 L449.4,106.14 L449.9,105.60 L450.4,106.09 L450.9,106.25 L451.4,106.20 L451.9,105.68 L452.4,105.66 L452.9,105.51 L453.4,105.44 L453.9,105.99 L454.4,105.88 L454.9,106.31 L455.4,105.95 L455.9,105.74 L456.4,105.35 L456.9,106.36 L457.4,105.88 L457.9,105.81 L458.4,105.47 L458.9,105.45 L459.4,106.02 L459.9,105.47 L460.4,106.01 L460.9,106.03 L461.4,105.69 L461.9,105.28 L462.4,105.98 L462.9,106.33 L463.4,105.58 L463.9,105.44 L464.4,106.26 L464.9,105.95 L465.4,105.70 L465.9,106.34 L466.4,105.84 L466.9,106.10 L467.4,105.82 L467.9,105.72 L468.4,106.05 L468.9,105.70 L469.4,105.38 L469.9,105.82 L470.4,106.23 L470.9,105.86 L471.4,105.83 L471.9,104.96 L472.4,104.67 L472.9,103.66 L473.4,102.88 L473.9,102.65 L474.4,101.65 L474.9,101.77 L475.4,100.97 L475.9,100.89 L476.4,100.46 L476.9,101.94 L477.4,103.95 L477.9,104.78 L478.4,104.83 L478.9,105.27 L479.4,105.60 L479.9,105.38 L480.4,105.20 L480.9,105.26 L481.4,105.50 L481.9,106.51 L482.4,106.29 L482.9,106.66 L483.4,107.02 L483.9,106.88 L484.4,107.06 L484.9,106.82 L485.4,106.53 L485.9,107.45 L486.4,107.38 L486.9,107.82 L487.4,107.48 L487.9,108.03 L488.4,108.98 L488.9,108.19 L489.4,108.65 L489.9,109.10 L490.4,108.25 L490.9,107.93 L491.4,106.62 L491.9,107.09 L492.4,106.22 L492.9,106.49 L493.4,106.02 L493.9,106.01 L494.4,106.38 L494.9,106.27 L495.4,106.30 L495.9,107.13 L496.4,107.06 L496.9,106.87 L497.4,107.20 L497.9,107.27 L498.4,107.43 L498.9,107.66 L499.4,108.18 L499.9,108.86 L500.4,109.46 L500.9,109.85 L501.4,109.86 L501.9,109.84 L502.4,109.56 L502.9,108.61 L503.4,108.58 L503.9,107.99 L504.4,106.58 L504.9,105.09 L505.4,103.96 L505.9,102.96 L506.4,102.86 L506.9,101.50 L507.4,99.94 L507.9,98.99 L508.4,98.54 L508.9,97.88 L509.4,98.25 L509.9,98.90 L510.4,100.38 L510.9,101.28 L511.4,102.30 L511.9,103.21 L512.4,103.14 L512.9,103.68 L513.4,103.53 L513.9,103.87 L514.4,104.21 L514.9,105.06 L515.4,105.37 L515.9,105.40 L516.4,105.04 L516.9,105.48 L517.4,105.91 L517.9,106.55 L518.4,106.67 L518.9,107.89 L519.4,106.92 L519.9,106.33 L520.4,105.14 L520.9,103.93 L521.4,104.55 L521.9,103.40 L522.4,103.91 L522.9,102.58 L523.4,102.18 L523.9,102.52 L524.4,101.56 L524.9,101.86 L525.4,102.91 L525.9,102.85 L526.4,103.51 L526.9,103.38 L527.4,104.80 L527.9,104.79 L528.4,104.54 L528.9,104.52 L529.4,103.93 L529.9,103.75 L530.4,103.14 L530.9,103.58 L531.4,103.65 L531.9,103.31 L532.4,103.14 L532.9,102.91 L533.4,102.22 L533.9,102.18 L534.4,103.09 L534.9,103.26 L535.4,103.91 L535.9,103.85 L536.4,103.95 L536.9,104.62 L537.4,104.35 L537.9,104.06 L538.4,104.46 L538.9,104.47 L539.4,104.47 L539.9,104.78 L540.4,105.39 L540.9,105.96 L541.4,105.86 L541.9,105.23 L542.4,105.84 L542.9,105.50 L543.4,105.71 L543.9,105.37 L544.4,105.52 L544.9,104.95" stroke="#2a2a2a" stroke-width="1.1" fill="none" stroke-linejoin="round" opacity="1.0"/>
<rect x="384.4" y="5" width="160.89999999999998" height="110.3" fill="none" stroke="#333" stroke-width="1.0"/>
<line x1="384.60" y1="115.3" x2="384.60" y2="117.3" stroke="#333" stroke-width="0.8"/>
<line x1="402.93" y1="115.3" x2="402.93" y2="117.3" stroke="#333" stroke-width="0.8"/>
<line x1="421.25" y1="115.3" x2="421.25" y2="117.3" stroke="#333" stroke-width="0.8"/>
<line x1="439.58" y1="115.3" x2="439.58" y2="117.3" stroke="#333" stroke-width="0.8"/>
<line x1="457.90" y1="115.3" x2="457.90" y2="117.3" stroke="#333" stroke-width="0.8"/>
<line x1="476.23" y1="115.3" x2="476.23" y2="117.3" stroke="#333" stroke-width="0.8"/>
<line x1="494.55" y1="115.3" x2="494.55" y2="117.3" stroke="#333" stroke-width="0.8"/>
<line x1="512.88" y1="115.3" x2="512.88" y2="117.3" stroke="#333" stroke-width="0.8"/>
<line x1="531.20" y1="115.3" x2="531.20" y2="117.3" stroke="#333" stroke-width="0.8"/>
<text x="384.6" y="123.6" font-family="Liberation Serif" font-size="6.6" font-weight="bold" text-anchor="middle" fill="#111" >3000</text>
<text x="421.2" y="123.6" font-family="Liberation Serif" font-size="6.6" font-weight="bold" text-anchor="middle" fill="#111" >2500</text>
<text x="457.9" y="123.6" font-family="Liberation Serif" font-size="6.6" font-weight="bold" text-anchor="middle" fill="#111" >2000</text>
<text x="494.6" y="123.6" font-family="Liberation Serif" font-size="6.6" font-weight="bold" text-anchor="middle" fill="#111" >1500</text>
<text x="531.2" y="123.6" font-family="Liberation Serif" font-size="6.6" font-weight="bold" text-anchor="middle" fill="#111" >1000</text>
<text x="464.8" y="132.3" font-family="Liberation Serif" font-size="6.6" font-weight="bold" text-anchor="middle" fill="#111" stroke="#111" stroke-width="0.1" textLength="59" lengthAdjust="spacingAndGlyphs">Wavenumber (cm<tspan font-size="4.2" dy="-2.4">-1</tspan><tspan dy="2.4">)</tspan></text>
<text x="0" y="0" font-family="Liberation Serif" font-size="6.8" font-weight="bold" text-anchor="middle" fill="#111" transform="translate(380.6,64) rotate(-90)">Absorbance (a.u.)</text>
<text x="388.5" y="17.6" font-family="Liberation Sans" font-size="10.9" font-weight="bold" text-anchor="start" fill="#111" stroke="#111" stroke-width="0.25" >(c)</text>
<text x="542" y="14.2" font-family="Liberation Serif" font-size="6.3" font-weight="bold" text-anchor="end" fill="#111" stroke="#111" stroke-width="0.1" >Ru/3LaN/ZrH<tspan font-size="4" dy="1.5">2</tspan><tspan dy="-1.5">-400 °C</tspan></text>
<text x="430.6" y="37.2" font-family="Liberation Serif" font-size="5.2" font-weight="bold" text-anchor="middle" fill="#111" >2362</text>
<text x="461" y="40.8" font-family="Liberation Serif" font-size="5.4" font-weight="bold" text-anchor="end" fill="#111" >30 min</text>
<text x="461" y="54.3" font-family="Liberation Serif" font-size="5.4" font-weight="bold" text-anchor="end" fill="#111" >20 min</text>
<text x="461" y="66" font-family="Liberation Serif" font-size="5.4" font-weight="bold" text-anchor="end" fill="#111" >10 min</text>
<text x="461" y="77.4" font-family="Liberation Serif" font-size="5.4" font-weight="bold" text-anchor="end" fill="#111" >5 min</text>
<text x="461" y="88.4" font-family="Liberation Serif" font-size="5.4" font-weight="bold" text-anchor="end" fill="#111" >3 min</text>
<text x="461" y="102.6" font-family="Liberation Serif" font-size="5.4" font-weight="bold" text-anchor="end" fill="#111" >1 min</text>
<rect x="56.8" y="177.5" width="63.2" height="6.0" fill="#fce8f0"/>
<rect x="85" y="167.6" width="102.5" height="7.900000000000006" fill="#fce8f0"/>
<rect x="56.8" y="195" width="53.2" height="9.5" fill="#e2f8f8"/>
<rect x="110" y="183.8" width="77.5" height="6.699999999999989" fill="#e2f8f8"/>
<rect x="56.8" y="213" width="55.2" height="11.5" fill="#e0f7ef"/>
<rect x="112" y="199" width="75.5" height="9" fill="#e8f9f8"/>
<rect x="112" y="208" width="53" height="8.199999999999989" fill="#e2f8f0"/>
<line x1="115" y1="154" x2="115" y2="237" stroke="#222" stroke-width="1.0" stroke-dasharray="3.5,1"/>
<path d="M56.2,163.08 L56.7,160.91 L57.2,162.14 L57.7,161.22 L58.2,162.04 L58.7,160.93 L59.2,161.70 L59.7,162.92 L60.2,162.75 L60.7,160.71 L61.2,163.14 L61.7,161.38 L62.2,162.76 L62.7,163.02 L63.2,162.08 L63.7,162.45 L64.2,162.57 L64.7,163.22 L65.2,163.74 L65.7,164.21 L66.2,163.44 L66.7,164.93 L67.2,162.57 L67.7,164.95 L68.2,163.35 L68.7,164.31 L69.2,163.65 L69.7,163.91 L70.2,163.13 L70.7,164.28 L71.2,165.69 L71.7,164.07 L72.2,163.85 L72.7,163.80 L73.2,164.28 L73.7,163.44 L74.2,163.47 L74.7,163.54 L75.2,164.30 L75.7,163.87 L76.2,162.10 L76.7,162.34 L77.2,162.70 L77.7,163.24 L78.2,163.21 L78.7,162.15 L79.2,163.90 L79.7,161.95 L80.2,163.10 L80.7,163.01 L81.2,163.08 L81.7,161.90 L82.2,162.14 L82.7,160.46 L83.2,160.16 L83.7,161.06 L84.2,162.02 L84.7,162.21 L85.2,161.21 L85.7,162.02 L86.2,161.57 L86.7,162.19 L87.2,159.67 L87.7,160.20 L88.2,159.96 L88.7,159.83 L89.2,161.79 L89.7,159.72 L90.2,159.66 L90.7,159.92 L91.2,160.80 L91.7,159.69 L92.2,160.51 L92.7,160.29 L93.2,159.30 L93.7,157.99 L94.2,158.97 L94.7,158.72 L95.2,160.86 L95.7,159.13 L96.2,158.88 L96.7,160.04 L97.2,159.85 L97.7,159.20 L98.2,160.76 L98.7,160.67 L99.2,160.25 L99.7,159.55 L100.2,159.43 L100.7,158.56 L101.2,160.24 L101.7,160.17 L102.2,159.11 L102.7,159.72 L103.2,162.00 L103.7,158.68 L104.2,158.11 L104.7,159.70 L105.2,158.84 L105.7,158.72 L106.2,159.43 L106.7,158.82 L107.2,159.56 L107.7,159.17 L108.2,159.62 L108.7,158.85 L109.2,157.17 L109.7,159.65 L110.2,157.44 L110.7,159.35 L111.2,158.77 L111.7,157.61 L112.2,158.58 L112.7,159.12 L113.2,157.73 L113.7,158.31 L114.2,157.55 L114.7,158.16 L115.2,161.07 L115.7,160.40 L116.2,158.99 L116.7,158.52 L117.2,158.51 L117.7,158.71 L118.2,158.86 L118.7,158.84 L119.2,157.56 L119.7,159.40 L120.2,158.21 L120.7,157.04 L121.2,159.19 L121.7,157.85 L122.2,158.48 L122.7,158.44 L123.2,158.01 L123.7,158.68 L124.2,158.04 L124.7,157.95 L125.2,157.38 L125.7,157.76 L126.2,157.13 L126.7,157.78 L127.2,158.55 L127.7,158.24 L128.2,157.79 L128.7,156.55 L129.2,158.07 L129.7,157.94 L130.2,158.67 L130.7,155.76 L131.2,157.16 L131.7,156.85 L132.2,157.70 L132.7,156.17 L133.2,156.50 L133.7,158.14 L134.2,157.17 L134.7,155.10 L135.2,156.27 L135.7,157.01 L136.2,155.58 L136.7,156.25 L137.2,155.81 L137.7,154.69 L138.2,155.10 L138.7,156.15 L139.2,156.10 L139.7,154.86 L140.2,155.91 L140.7,154.66 L141.2,155.22 L141.7,154.99 L142.2,154.10 L142.7,155.05 L143.2,154.49 L143.7,152.91 L144.2,153.99 L144.7,153.89 L145.2,153.75 L145.7,153.56 L146.2,153.60 L146.7,152.39 L147.2,154.38 L147.7,153.73 L148.2,153.73 L148.7,153.30 L149.2,153.40 L149.7,153.10 L150.2,152.48 L150.7,152.16 L151.2,153.09 L151.7,153.61 L152.2,152.95 L152.7,153.56 L153.2,151.38 L153.7,151.77 L154.2,151.21 L154.7,152.07 L155.2,152.13 L155.7,150.54 L156.2,151.44 L156.7,151.23 L157.2,151.27 L157.7,152.44 L158.2,152.48 L158.7,154.72 L159.2,154.70 L159.7,155.51 L160.2,155.33 L160.7,153.62 L161.2,155.60 L161.7,155.16 L162.2,153.60 L162.7,155.17 L163.2,155.73 L163.7,156.14 L164.2,154.46 L164.7,155.58 L165.2,155.31 L165.7,155.00 L166.2,154.92 L166.7,155.42 L167.2,155.50 L167.7,155.60 L168.2,155.01 L168.7,154.55 L169.2,156.23 L169.7,156.29 L170.2,155.26 L170.7,155.68 L171.2,156.29 L171.7,154.83 L172.2,156.27 L172.7,157.48 L173.2,156.27 L173.7,155.74 L174.2,157.45 L174.7,155.65 L175.2,154.92 L175.7,153.63 L176.2,153.29 L176.7,151.89 L177.2,152.05 L177.7,151.81 L178.2,153.05 L178.7,152.25 L179.2,152.79 L179.7,150.69 L180.2,151.30 L180.7,152.31 L181.2,150.79 L181.7,150.01 L182.2,150.50 L182.7,150.64 L183.2,150.83 L183.7,151.69 L184.2,151.83 L184.7,152.08 L185.2,151.67 L185.7,151.18 L186.2,151.31 L186.7,150.88 L187.2,152.58 L187.7,152.62" stroke="#2a2a2a" stroke-width="1.1" fill="none" stroke-linejoin="round" opacity="1.0"/>
<path d="M56.2,176.48 L56.7,175.64 L57.2,176.99 L57.7,176.82 L58.2,176.54 L58.7,175.41 L59.2,176.61 L59.7,175.92 L60.2,177.04 L60.7,176.91 L61.2,176.78 L61.7,176.04 L62.2,177.72 L62.7,177.05 L63.2,177.49 L63.7,177.11 L64.2,176.97 L64.7,176.73 L65.2,175.48 L65.7,174.89 L66.2,175.60 L66.7,176.91 L67.2,177.17 L67.7,176.55 L68.2,176.48 L68.7,177.91 L69.2,176.06 L69.7,174.94 L70.2,175.10 L70.7,176.14 L71.2,176.99 L71.7,177.00 L72.2,176.22 L72.7,177.07 L73.2,176.36 L73.7,175.81 L74.2,176.09 L74.7,177.01 L75.2,177.19 L75.7,175.50 L76.2,175.59 L76.7,176.50 L77.2,178.14 L77.7,175.47 L78.2,175.38 L78.7,176.73 L79.2,176.81 L79.7,175.92 L80.2,176.38 L80.7,176.78 L81.2,175.00 L81.7,176.38 L82.2,176.88 L82.7,177.12 L83.2,177.33 L83.7,176.35 L84.2,175.25 L84.7,177.44 L85.2,177.01 L85.7,175.91 L86.2,177.22 L86.7,177.21 L87.2,176.30 L87.7,174.60 L88.2,176.05 L88.7,175.84 L89.2,175.77 L89.7,176.37 L90.2,175.59 L90.7,176.73 L91.2,177.90 L91.7,175.54 L92.2,177.25 L92.7,176.05 L93.2,176.87 L93.7,176.37 L94.2,177.45 L94.7,175.94 L95.2,177.03 L95.7,175.90 L96.2,176.65 L96.7,176.47 L97.2,177.31 L97.7,175.33 L98.2,175.48 L98.7,177.52 L99.2,176.79 L99.7,177.74 L100.2,175.72 L100.7,176.59 L101.2,176.84 L101.7,177.61 L102.2,176.23 L102.7,175.87 L103.2,176.64 L103.7,175.96 L104.2,175.40 L104.7,176.40 L105.2,174.37 L105.7,174.94 L106.2,176.56 L106.7,175.12 L107.2,175.14 L107.7,175.55 L108.2,176.00 L108.7,175.47 L109.2,174.32 L109.7,174.54 L110.2,175.61 L110.7,174.71 L111.2,174.29 L111.7,175.29 L112.2,175.44 L112.7,176.10 L113.2,173.81 L113.7,174.04 L114.2,174.01 L114.7,169.45 L115.2,171.17 L115.7,175.27 L116.2,172.66 L116.7,175.21 L117.2,174.15 L117.7,174.46 L118.2,175.08 L118.7,174.86 L119.2,174.07 L119.7,175.80 L120.2,175.19 L120.7,174.46 L121.2,174.92 L121.7,174.03 L122.2,173.92 L122.7,174.53 L123.2,174.96 L123.7,174.77 L124.2,174.16 L124.7,173.75 L125.2,173.52 L125.7,175.67 L126.2,174.85 L126.7,174.06 L127.2,175.36 L127.7,174.90 L128.2,174.27 L128.7,174.13 L129.2,175.26 L129.7,174.72 L130.2,175.56 L130.7,174.70 L131.2,174.05 L131.7,174.02 L132.2,173.91 L132.7,174.49 L133.2,174.45 L133.7,174.63 L134.2,174.49 L134.7,173.49 L135.2,173.97 L135.7,173.46 L136.2,174.31 L136.7,173.12 L137.2,173.52 L137.7,173.30 L138.2,173.38 L138.7,173.55 L139.2,174.60 L139.7,173.43 L140.2,172.63 L140.7,173.28 L141.2,173.87 L141.7,173.68 L142.2,173.42 L142.7,174.42 L143.2,173.84 L143.7,173.15 L144.2,173.78 L144.7,172.17 L145.2,172.82 L145.7,172.35 L146.2,172.92 L146.7,173.73 L147.2,172.42 L147.7,173.62 L148.2,172.01 L148.7,173.43 L149.2,171.54 L149.7,172.01 L150.2,173.07 L150.7,172.39 L151.2,172.51 L151.7,172.38 L152.2,172.44 L152.7,172.16 L153.2,171.61 L153.7,171.92 L154.2,172.05 L154.7,171.36 L155.2,172.03 L155.7,172.66 L156.2,170.61 L156.7,171.16 L157.2,171.23 L157.7,171.34 L158.2,171.35 L158.7,170.89 L159.2,171.28 L159.7,171.30 L160.2,171.25 L160.7,172.16 L161.2,171.37 L161.7,170.48 L162.2,170.42 L162.7,171.63 L163.2,171.11 L163.7,170.96 L164.2,170.55 L164.7,171.13 L165.2,171.25 L165.7,170.93 L166.2,171.11 L166.7,171.78 L167.2,171.73 L167.7,171.59 L168.2,171.21 L168.7,170.58 L169.2,171.72 L169.7,172.10 L170.2,171.98 L170.7,171.92 L171.2,171.45 L171.7,171.50 L172.2,171.29 L172.7,171.96 L173.2,171.16 L173.7,172.36 L174.2,171.58 L174.7,170.93 L175.2,171.00 L175.7,170.08 L176.2,170.43 L176.7,170.54 L177.2,171.84 L177.7,170.04 L178.2,170.79 L178.7,170.23 L179.2,169.90 L179.7,170.23 L180.2,168.76 L180.7,170.10 L181.2,170.47 L181.7,169.50 L182.2,169.18 L182.7,169.16 L183.2,169.28 L183.7,168.58 L184.2,168.77 L184.7,168.84 L185.2,168.32 L185.7,168.58 L186.2,168.47 L186.7,168.57 L187.2,167.68 L187.7,167.84" stroke="#b8784e" stroke-width="1.1" fill="none" stroke-linejoin="round" opacity="1.0"/>
<path d="M56.2,196.42 L56.7,198.59 L57.2,197.31 L57.7,194.75 L58.2,195.22 L58.7,199.47 L59.2,197.34 L59.7,195.16 L60.2,195.62 L60.7,196.99 L61.2,198.65 L61.7,198.84 L62.2,196.23 L62.7,196.29 L63.2,199.14 L63.7,195.35 L64.2,198.60 L64.7,196.98 L65.2,196.64 L65.7,198.12 L66.2,197.08 L66.7,195.38 L67.2,194.47 L67.7,196.40 L68.2,197.01 L68.7,198.04 L69.2,193.05 L69.7,197.97 L70.2,197.07 L70.7,198.14 L71.2,197.25 L71.7,196.50 L72.2,196.75 L72.7,196.67 L73.2,195.39 L73.7,195.99 L74.2,196.26 L74.7,195.53 L75.2,194.27 L75.7,194.29 L76.2,196.58 L76.7,196.56 L77.2,196.04 L77.7,194.52 L78.2,196.87 L78.7,195.39 L79.2,193.38 L79.7,197.62 L80.2,194.02 L80.7,198.24 L81.2,196.13 L81.7,194.83 L82.2,192.44 L82.7,194.14 L83.2,196.42 L83.7,196.04 L84.2,194.59 L84.7,192.18 L85.2,193.50 L85.7,193.46 L86.2,194.17 L86.7,193.46 L87.2,193.96 L87.7,191.77 L88.2,192.83 L88.7,195.08 L89.2,191.89 L89.7,194.46 L90.2,195.94 L90.7,194.09 L91.2,191.86 L91.7,194.65 L92.2,191.31 L92.7,193.62 L93.2,192.80 L93.7,194.50 L94.2,194.42 L94.7,193.35 L95.2,195.01 L95.7,194.13 L96.2,192.60 L96.7,192.08 L97.2,195.62 L97.7,192.65 L98.2,193.47 L98.7,192.92 L99.2,192.54 L99.7,191.39 L100.2,192.83 L100.7,192.84 L101.2,193.92 L101.7,192.41 L102.2,191.34 L102.7,191.82 L103.2,192.81 L103.7,193.07 L104.2,193.51 L104.7,192.41 L105.2,193.28 L105.7,192.87 L106.2,194.32 L106.7,192.64 L107.2,192.81 L107.7,193.18 L108.2,193.77 L108.7,191.79 L109.2,192.19 L109.7,192.36 L110.2,190.67 L110.7,193.67 L111.2,193.38 L111.7,192.36 L112.2,195.16 L112.7,193.23 L113.2,193.79 L113.7,193.32 L114.2,191.71 L114.7,188.21 L115.2,192.11 L115.7,192.83 L116.2,191.44 L116.7,192.34 L117.2,192.77 L117.7,192.80 L118.2,192.02 L118.7,191.35 L119.2,192.22 L119.7,190.97 L120.2,191.43 L120.7,192.03 L121.2,190.38 L121.7,191.67 L122.2,189.95 L122.7,190.67 L123.2,190.41 L123.7,191.17 L124.2,191.68 L124.7,191.10 L125.2,191.70 L125.7,191.09 L126.2,190.84 L126.7,191.27 L127.2,190.72 L127.7,190.94 L128.2,191.55 L128.7,190.36 L129.2,191.58 L129.7,189.90 L130.2,190.53 L130.7,189.38 L131.2,190.25 L131.7,191.83 L132.2,190.86 L132.7,191.53 L133.2,189.36 L133.7,189.68 L134.2,190.81 L134.7,191.06 L135.2,191.04 L135.7,188.96 L136.2,190.71 L136.7,190.20 L137.2,190.33 L137.7,190.61 L138.2,189.97 L138.7,188.80 L139.2,189.36 L139.7,189.08 L140.2,189.22 L140.7,190.32 L141.2,191.65 L141.7,189.92 L142.2,189.93 L142.7,189.64 L143.2,189.15 L143.7,190.81 L144.2,190.34 L144.7,190.63 L145.2,190.10 L145.7,191.62 L146.2,190.27 L146.7,192.15 L147.2,191.27 L147.7,192.90 L148.2,191.56 L148.7,193.05 L149.2,193.24 L149.7,192.88 L150.2,194.28 L150.7,192.37 L151.2,191.02 L151.7,191.34 L152.2,190.28 L152.7,189.58 L153.2,188.82 L153.7,188.16 L154.2,185.01 L154.7,191.70 L155.2,201.57 L155.7,201.05 L156.2,196.37 L156.7,192.92 L157.2,192.36 L157.7,190.52 L158.2,190.35 L158.7,189.93 L159.2,188.65 L159.7,187.84 L160.2,188.86 L160.7,190.31 L161.2,190.90 L161.7,191.32 L162.2,190.43 L162.7,188.14 L163.2,188.84 L163.7,188.25 L164.2,188.41 L164.7,187.13 L165.2,186.54 L165.7,186.55 L166.2,186.98 L166.7,186.02 L167.2,186.35 L167.7,185.51 L168.2,184.48 L168.7,184.09 L169.2,185.83 L169.7,183.40 L170.2,183.98 L170.7,183.79 L171.2,183.19 L171.7,183.23 L172.2,183.44 L172.7,184.88 L173.2,183.16 L173.7,182.88 L174.2,183.32 L174.7,183.88 L175.2,182.76 L175.7,183.06 L176.2,182.22 L176.7,183.84 L177.2,183.86 L177.7,184.42 L178.2,182.74 L178.7,184.92 L179.2,184.14 L179.7,183.46 L180.2,183.43 L180.7,183.53 L181.2,183.01 L181.7,184.28 L182.2,183.48 L182.7,183.45 L183.2,184.25 L183.7,184.04 L184.2,183.66 L184.7,183.91 L185.2,183.78 L185.7,184.91 L186.2,184.73 L186.7,183.73 L187.2,184.16 L187.7,185.00" stroke="#2f4fd6" stroke-width="1.2" fill="none" stroke-linejoin="round" opacity="1.0"/>
<path d="M143.5,189.92 L143.8,193.77 L144.2,196.63 L144.5,192.19 L144.9,186.89 L145.2,192.50 L145.6,197.10 L145.9,192.67 L146.3,188.14 L146.6,191.90 L147.0,195.35 L147.3,191.51 L147.7,187.02 L148.0,191.85 L148.4,197.00 L148.7,193.20 L149.1,189.10 L149.4,191.36 L149.8,194.40" stroke="#2f4fd6" stroke-width="0.9" fill="none" stroke-linejoin="round" opacity="1.0"/>
<path d="M56.2,220.52 L56.7,219.16 L57.2,222.72 L57.7,217.20 L58.2,218.79 L58.7,218.32 L59.2,219.73 L59.7,220.76 L60.2,220.96 L60.7,217.68 L61.2,220.41 L61.7,217.35 L62.2,219.18 L62.7,218.97 L63.2,219.47 L63.7,217.69 L64.2,220.24 L64.7,218.48 L65.2,218.49 L65.7,218.14 L66.2,217.13 L66.7,219.23 L67.2,218.71 L67.7,218.80 L68.2,220.41 L68.7,217.11 L69.2,217.76 L69.7,218.05 L70.2,218.99 L70.7,217.73 L71.2,218.98 L71.7,218.37 L72.2,215.74 L72.7,216.94 L73.2,215.33 L73.7,217.31 L74.2,217.12 L74.7,218.24 L75.2,217.71 L75.7,217.40 L76.2,218.87 L76.7,218.08 L77.2,215.97 L77.7,216.55 L78.2,217.67 L78.7,219.20 L79.2,217.02 L79.7,217.03 L80.2,217.50 L80.7,218.06 L81.2,217.06 L81.7,217.46 L82.2,216.64 L82.7,216.47 L83.2,216.17 L83.7,217.74 L84.2,216.37 L84.7,217.55 L85.2,217.35 L85.7,217.93 L86.2,213.92 L86.7,215.74 L87.2,215.43 L87.7,216.52 L88.2,217.52 L88.7,219.33 L89.2,218.20 L89.7,217.96 L90.2,216.87 L90.7,216.00 L91.2,216.93 L91.7,214.01 L92.2,217.24 L92.7,216.22 L93.2,216.80 L93.7,215.03 L94.2,214.92 L94.7,215.34 L95.2,215.91 L95.7,216.27 L96.2,215.50 L96.7,216.17 L97.2,216.46 L97.7,214.53 L98.2,215.57 L98.7,214.05 L99.2,215.04 L99.7,216.46 L100.2,214.79 L100.7,217.34 L101.2,215.94 L101.7,216.29 L102.2,215.47 L102.7,216.19 L103.2,216.38 L103.7,215.38 L104.2,214.74 L104.7,214.69 L105.2,217.08 L105.7,215.02 L106.2,214.74 L106.7,214.49 L107.2,213.57 L107.7,214.64 L108.2,215.37 L108.7,214.61 L109.2,214.34 L109.7,215.35 L110.2,215.35 L110.7,214.54 L111.2,215.16 L111.7,214.04 L112.2,215.56 L112.7,214.01 L113.2,214.53 L113.7,213.53 L114.2,207.31 L114.7,202.10 L115.2,206.75 L115.7,209.10 L116.2,207.80 L116.7,209.66 L117.2,209.24 L117.7,211.03 L118.2,210.39 L118.7,212.02 L119.2,212.00 L119.7,212.83 L120.2,212.51 L120.7,211.40 L121.2,212.41 L121.7,211.48 L122.2,211.77 L122.7,211.54 L123.2,210.71 L123.7,212.41 L124.2,210.61 L124.7,211.92 L125.2,212.51 L125.7,212.27 L126.2,211.12 L126.7,211.82 L127.2,212.81 L127.7,213.16 L128.2,213.55 L128.7,211.12 L129.2,212.80 L129.7,212.14 L130.2,213.06 L130.7,211.25 L131.2,212.39 L131.7,213.01 L132.2,212.00 L132.7,212.20 L133.2,211.73 L133.7,213.29 L134.2,211.45 L134.7,211.75 L135.2,212.18 L135.7,212.18 L136.2,214.02 L136.7,212.62 L137.2,211.77 L137.7,212.85 L138.2,212.66 L138.7,212.62 L139.2,212.35 L139.7,212.76 L140.2,211.43 L140.7,211.24 L141.2,211.94 L141.7,211.05 L142.2,213.35 L142.7,215.29 L143.2,214.33 L143.7,213.11 L144.2,212.95 L144.7,211.36 L145.2,210.41 L145.7,213.30 L146.2,210.15 L146.7,212.93 L147.2,212.25 L147.7,213.65 L148.2,212.56 L148.7,212.65 L149.2,211.59 L149.7,209.81 L150.2,212.03 L150.7,213.85 L151.2,214.65 L151.7,215.49 L152.2,212.12 L152.7,212.57 L153.2,215.49 L153.7,214.03 L154.2,219.04 L154.7,215.77 L155.2,213.10 L155.7,214.43 L156.2,217.38 L156.7,211.63 L157.2,214.21 L157.7,211.26 L158.2,215.41 L158.7,211.77 L159.2,210.57 L159.7,209.60 L160.2,210.92 L160.7,208.99 L161.2,210.95 L161.7,212.63 L162.2,211.01 L162.7,210.66 L163.2,210.05 L163.7,210.80 L164.2,210.17 L164.7,209.78 L165.2,210.89 L165.7,210.14 L166.2,209.17 L166.7,210.38 L167.2,209.34 L167.7,209.55 L168.2,209.21 L168.7,209.59 L169.2,208.99 L169.7,208.10 L170.2,208.36 L170.7,207.31 L171.2,207.19 L171.7,207.64 L172.2,205.61 L172.7,205.18 L173.2,205.12 L173.7,204.67 L174.2,205.36 L174.7,203.34 L175.2,205.34 L175.7,204.70 L176.2,203.46 L176.7,203.88 L177.2,203.61 L177.7,204.27 L178.2,204.33 L178.7,204.46 L179.2,204.55 L179.7,205.31 L180.2,204.17 L180.7,204.77 L181.2,204.34 L181.7,204.56 L182.2,204.75 L182.7,204.67 L183.2,204.98 L183.7,204.36 L184.2,204.83 L184.7,204.63 L185.2,204.35 L185.7,204.66 L186.2,204.80 L186.7,204.97 L187.2,204.11 L187.7,204.85" stroke="#4e9a60" stroke-width="1.2" fill="none" stroke-linejoin="round" opacity="1.0"/>
<path d="M144.0,210.67 L144.4,212.51 L144.8,215.31 L145.2,217.33 L145.6,214.60 L146.0,210.84 L146.4,208.37 L146.8,211.52 L147.2,214.40 L147.6,217.83 L148.0,214.58 L148.4,211.29 L148.8,209.01 L149.2,210.98 L149.6,214.44 L150.0,216.15 L150.4,213.65 L150.8,210.61 L151.2,208.01 L151.6,210.62 L152.0,215.27 L152.4,218.24 L152.8,215.75 L153.2,211.58 L153.6,210.06 L154.0,211.42 L154.4,214.68 L154.8,216.85 L155.2,215.30 L155.6,211.42 L156.0,209.70 L156.4,212.39 L156.8,215.10 L157.2,216.91" stroke="#4e9a60" stroke-width="0.9" fill="none" stroke-linejoin="round" opacity="1.0"/>
<path d="M56.2,235.79 L56.7,237.74 L57.2,237.36 L57.7,235.92 L58.2,239.00 L58.7,235.94 L59.2,237.06 L59.7,237.36 L60.2,237.47 L60.7,237.75 L61.2,237.13 L61.7,236.73 L62.2,237.01 L62.7,235.96 L63.2,236.50 L63.7,238.29 L64.2,236.69 L64.7,237.01 L65.2,238.13 L65.7,237.60 L66.2,237.02 L66.7,237.34 L67.2,236.72 L67.7,236.31 L68.2,237.39 L68.7,236.84 L69.2,237.66 L69.7,236.53 L70.2,236.43 L70.7,236.82 L71.2,236.47 L71.7,236.36 L72.2,235.98 L72.7,236.62 L73.2,236.63 L73.7,237.48 L74.2,236.36 L74.7,235.32 L75.2,236.59 L75.7,237.64 L76.2,236.01 L76.7,235.77 L77.2,236.12 L77.7,234.51 L78.2,235.97 L78.7,236.04 L79.2,235.25 L79.7,236.45 L80.2,235.59 L80.7,235.00 L81.2,235.65 L81.7,236.43 L82.2,237.17 L82.7,236.76 L83.2,236.11 L83.7,235.68 L84.2,235.80 L84.7,236.50 L85.2,235.61 L85.7,236.13 L86.2,236.43 L86.7,235.30 L87.2,235.46 L87.7,236.04 L88.2,235.75 L88.7,235.64 L89.2,235.37 L89.7,235.62 L90.2,236.71 L90.7,236.39 L91.2,234.61 L91.7,235.55 L92.2,235.54 L92.7,235.48 L93.2,234.61 L93.7,235.31 L94.2,235.44 L94.7,234.92 L95.2,235.48 L95.7,233.83 L96.2,234.34 L96.7,235.26 L97.2,235.40 L97.7,235.04 L98.2,234.84 L98.7,235.19 L99.2,235.69 L99.7,235.55 L100.2,234.95 L100.7,234.70 L101.2,235.58 L101.7,235.25 L102.2,235.43 L102.7,234.72 L103.2,234.36 L103.7,234.96 L104.2,234.47 L104.7,235.50 L105.2,235.31 L105.7,233.51 L106.2,235.16 L106.7,235.53 L107.2,235.32 L107.7,234.40 L108.2,234.14 L108.7,235.18 L109.2,235.17 L109.7,234.57 L110.2,233.81 L110.7,233.55 L111.2,234.57 L111.7,233.90 L112.2,233.96 L112.7,234.59 L113.2,234.93 L113.7,231.65 L114.2,226.45 L114.7,222.77 L115.2,225.87 L115.7,230.84 L116.2,233.37 L116.7,232.30 L117.2,232.24 L117.7,232.94 L118.2,233.82 L118.7,233.48 L119.2,232.84 L119.7,233.41 L120.2,232.54 L120.7,232.05 L121.2,231.72 L121.7,232.83 L122.2,233.16 L122.7,232.81 L123.2,232.53 L123.7,232.27 L124.2,233.11 L124.7,232.40 L125.2,231.54 L125.7,233.15 L126.2,231.93 L126.7,232.50 L127.2,232.24 L127.7,232.82 L128.2,232.31 L128.7,232.86 L129.2,232.23 L129.7,231.81 L130.2,231.76 L130.7,232.42 L131.2,231.53 L131.7,232.54 L132.2,231.83 L132.7,231.39 L133.2,231.39 L133.7,231.79 L134.2,232.88 L134.7,232.25 L135.2,231.76 L135.7,231.17 L136.2,232.78 L136.7,231.45 L137.2,231.56 L137.7,231.25 L138.2,232.23 L138.7,231.50 L139.2,231.06 L139.7,231.38 L140.2,230.63 L140.7,230.53 L141.2,230.99 L141.7,229.33 L142.2,231.65 L142.7,232.07 L143.2,230.18 L143.7,230.69 L144.2,229.78 L144.7,230.75 L145.2,230.72 L145.7,230.97 L146.2,229.69 L146.7,230.06 L147.2,229.98 L147.7,230.17 L148.2,231.60 L148.7,230.09 L149.2,230.14 L149.7,229.82 L150.2,230.55 L150.7,231.55 L151.2,230.69 L151.7,230.88 L152.2,229.31 L152.7,230.54 L153.2,229.91 L153.7,230.60 L154.2,230.45 L154.7,230.18 L155.2,228.77 L155.7,229.80 L156.2,229.38 L156.7,229.90 L157.2,229.61 L157.7,230.16 L158.2,228.54 L158.7,228.99 L159.2,229.33 L159.7,229.51 L160.2,229.02 L160.7,229.18 L161.2,229.17 L161.7,229.69 L162.2,228.94 L162.7,229.09 L163.2,227.81 L163.7,227.27 L164.2,227.89 L164.7,228.89 L165.2,227.26 L165.7,228.79 L166.2,228.43 L166.7,228.43 L167.2,227.94 L167.7,228.06 L168.2,228.74 L168.7,228.40 L169.2,228.12 L169.7,227.80 L170.2,228.16 L170.7,228.69 L171.2,227.93 L171.7,227.68 L172.2,227.16 L172.7,227.88 L173.2,227.24 L173.7,226.90 L174.2,228.23 L174.7,227.33 L175.2,226.46 L175.7,227.20 L176.2,228.67 L176.7,227.47 L177.2,226.70 L177.7,226.77 L178.2,227.79 L178.7,227.54 L179.2,227.36 L179.7,227.05 L180.2,227.37 L180.7,227.92 L181.2,227.23 L181.7,226.77 L182.2,225.97 L182.7,226.99 L183.2,227.58 L183.7,226.97 L184.2,225.78 L184.7,226.57 L185.2,227.17 L185.7,225.98 L186.2,226.60 L186.7,226.98 L187.2,227.20 L187.7,225.26" stroke="#8e74d6" stroke-width="1.2" fill="none" stroke-linejoin="round" opacity="1.0"/>
<rect x="56.2" y="141.5" width="131.8" height="105.69999999999999" fill="none" stroke="#444" stroke-width="1.3"/>
<line x1="66.35" y1="247.2" x2="66.35" y2="249.0" stroke="#555" stroke-width="0.9"/>
<line x1="81.50" y1="247.2" x2="81.50" y2="249.0" stroke="#555" stroke-width="0.9"/>
<line x1="96.65" y1="247.2" x2="96.65" y2="249.0" stroke="#555" stroke-width="0.9"/>
<line x1="111.80" y1="247.2" x2="111.80" y2="249.0" stroke="#555" stroke-width="0.9"/>
<line x1="126.95" y1="247.2" x2="126.95" y2="249.0" stroke="#555" stroke-width="0.9"/>
<line x1="142.10" y1="247.2" x2="142.10" y2="249.0" stroke="#555" stroke-width="0.9"/>
<line x1="157.25" y1="247.2" x2="157.25" y2="249.0" stroke="#555" stroke-width="0.9"/>
<line x1="172.40" y1="247.2" x2="172.40" y2="249.0" stroke="#555" stroke-width="0.9"/>
<line x1="187.55" y1="247.2" x2="187.55" y2="249.0" stroke="#555" stroke-width="0.9"/>
<text x="81.5" y="258.4" font-family="Liberation Serif" font-size="8.7" font-weight="bold" text-anchor="middle" fill="#111" stroke="#111" stroke-width="0.15" >3000</text>
<text x="111.8" y="258.4" font-family="Liberation Serif" font-size="8.7" font-weight="bold" text-anchor="middle" fill="#111" stroke="#111" stroke-width="0.15" >2400</text>
<text x="142.1" y="258.4" font-family="Liberation Serif" font-size="8.7" font-weight="bold" text-anchor="middle" fill="#111" stroke="#111" stroke-width="0.15" >1800</text>
<text x="172.4" y="258.4" font-family="Liberation Serif" font-size="8.7" font-weight="bold" text-anchor="middle" fill="#111" stroke="#111" stroke-width="0.15" >1200</text>
<text x="122.2" y="270.2" font-family="Liberation Serif" font-size="8.9" font-weight="bold" text-anchor="middle" fill="#111" stroke="#111" stroke-width="0.2" >Wavenumber (cm<tspan font-size="5.5" dy="-3">-1</tspan><tspan dy="3">)</tspan></text>
<text x="0" y="0" font-family="Liberation Serif" font-size="9.2" font-weight="bold" text-anchor="middle" fill="#111" stroke="#111" stroke-width="0.1" transform="translate(48.8,190.5) rotate(-90)">Absorbance (a.u.)</text>
<text x="33.6" y="148.8" font-family="Liberation Sans" font-size="11.3" font-weight="bold" text-anchor="start" fill="#111" stroke="#111" stroke-width="0.2" >(d)</text>
<text x="115.8" y="153.4" font-family="Liberation Serif" font-size="9.6" font-weight="bold" text-anchor="middle" fill="#111" stroke="#111" stroke-width="0.15" >2335</text>
<text x="61.2" y="157.4" font-family="Liberation Serif" font-size="8.1" font-weight="bold" text-anchor="start" fill="#111" stroke="#111" stroke-width="0.12" >200°C</text>
<text x="61.2" y="173.9" font-family="Liberation Serif" font-size="8.1" font-weight="bold" text-anchor="start" fill="#111" stroke="#111" stroke-width="0.12" >250°C</text>
<text x="61.2" y="190.8" font-family="Liberation Serif" font-size="8.1" font-weight="bold" text-anchor="start" fill="#111" stroke="#111" stroke-width="0.12" >300°C</text>
<text x="61.2" y="211.9" font-family="Liberation Serif" font-size="8.1" font-weight="bold" text-anchor="start" fill="#111" stroke="#111" stroke-width="0.12" >350°C</text>
<text x="61.2" y="232.70000000000002" font-family="Liberation Serif" font-size="8.1" font-weight="bold" text-anchor="start" fill="#111" stroke="#111" stroke-width="0.12" >400°C</text>
<rect x="219.4" y="177" width="131.6" height="10.5" fill="#fdf1f4"/>
<rect x="219.4" y="202" width="131.6" height="10" fill="#eefafa"/>
<rect x="219.4" y="217.5" width="131.6" height="7.0" fill="#f0faf5"/>
<line x1="276.4" y1="164" x2="276.4" y2="230.5" stroke="#222" stroke-width="0.9" stroke-dasharray="4,3"/>
<path d="M218.8,165.03 L219.3,165.95 L219.8,166.08 L220.3,165.59 L220.8,165.72 L221.3,165.52 L221.8,166.21 L222.3,164.67 L222.8,165.74 L223.3,165.03 L223.8,165.26 L224.3,164.85 L224.8,165.10 L225.3,165.45 L225.8,165.44 L226.3,166.19 L226.8,165.26 L227.3,165.47 L227.8,165.44 L228.3,165.36 L228.8,165.85 L229.3,165.23 L229.8,165.19 L230.3,165.04 L230.8,165.05 L231.3,164.99 L231.8,165.41 L232.3,164.94 L232.8,164.93 L233.3,164.84 L233.8,165.16 L234.3,164.58 L234.8,165.18 L235.3,164.48 L235.8,165.01 L236.3,165.52 L236.8,164.75 L237.3,164.58 L237.8,164.07 L238.3,164.90 L238.8,164.56 L239.3,164.93 L239.8,164.22 L240.3,164.73 L240.8,165.28 L241.3,164.65 L241.8,164.31 L242.3,163.86 L242.8,164.41 L243.3,164.69 L243.8,164.64 L244.3,163.86 L244.8,163.87 L245.3,163.87 L245.8,163.83 L246.3,164.13 L246.8,164.34 L247.3,165.05 L247.8,164.26 L248.3,164.78 L248.8,163.38 L249.3,164.76 L249.8,164.40 L250.3,164.21 L250.8,164.35 L251.3,164.22 L251.8,164.77 L252.3,164.24 L252.8,163.08 L253.3,163.04 L253.8,164.50 L254.3,163.71 L254.8,164.31 L255.3,163.53 L255.8,163.36 L256.3,163.47 L256.8,163.73 L257.3,163.64 L257.8,163.26 L258.3,163.74 L258.8,163.75 L259.3,163.04 L259.8,162.93 L260.3,162.52 L260.8,163.23 L261.3,163.35 L261.8,163.02 L262.3,163.04 L262.8,163.22 L263.3,163.28 L263.8,163.50 L264.3,163.60 L264.8,163.41 L265.3,163.70 L265.8,162.76 L266.3,163.43 L266.8,163.30 L267.3,162.65 L267.8,162.78 L268.3,163.24 L268.8,163.04 L269.3,162.41 L269.8,162.68 L270.3,163.56 L270.8,163.22 L271.3,162.84 L271.8,163.36 L272.3,162.31 L272.8,162.60 L273.3,163.07 L273.8,162.46 L274.3,162.08 L274.8,162.81 L275.3,163.24 L275.8,161.38 L276.3,162.57 L276.8,161.96 L277.3,162.39 L277.8,161.91 L278.3,163.71 L278.8,162.27 L279.3,162.61 L279.8,162.30 L280.3,162.19 L280.8,162.44 L281.3,162.75 L281.8,163.46 L282.3,162.82 L282.8,163.39 L283.3,162.23 L283.8,162.76 L284.3,162.55 L284.8,162.06 L285.3,164.44 L285.8,162.69 L286.3,162.94 L286.8,162.52 L287.3,162.62 L287.8,162.45 L288.3,163.39 L288.8,162.79 L289.3,162.93 L289.8,163.11 L290.3,162.52 L290.8,163.20 L291.3,163.06 L291.8,163.36 L292.3,163.03 L292.8,163.25 L293.3,163.50 L293.8,163.73 L294.3,163.03 L294.8,163.80 L295.3,162.96 L295.8,163.35 L296.3,163.52 L296.8,163.56 L297.3,162.41 L297.8,163.11 L298.3,163.49 L298.8,164.01 L299.3,163.31 L299.8,164.31 L300.3,162.86 L300.8,163.71 L301.3,163.93 L301.8,163.71 L302.3,163.81 L302.8,164.10 L303.3,163.33 L303.8,163.94 L304.3,164.14 L304.8,163.56 L305.3,162.63 L305.8,163.12 L306.3,163.26 L306.8,163.16 L307.3,163.81 L307.8,163.25 L308.3,164.70 L308.8,163.84 L309.3,163.00 L309.8,163.44 L310.3,164.24 L310.8,163.86 L311.3,163.09 L311.8,164.00 L312.3,163.32 L312.8,164.51 L313.3,163.27 L313.8,163.78 L314.3,163.76 L314.8,163.30 L315.3,163.43 L315.8,164.00 L316.3,163.70 L316.8,163.44 L317.3,163.65 L317.8,164.22 L318.3,163.84 L318.8,163.62 L319.3,163.54 L319.8,162.68 L320.3,163.42 L320.8,163.13 L321.3,163.66 L321.8,163.05 L322.3,163.51 L322.8,162.84 L323.3,163.66 L323.8,162.84 L324.3,163.03 L324.8,163.15 L325.3,162.58 L325.8,162.55 L326.3,162.82 L326.8,162.94 L327.3,161.14 L327.8,161.33 L328.3,161.83 L328.8,161.75 L329.3,160.93 L329.8,161.01 L330.3,160.73 L330.8,161.70 L331.3,160.48 L331.8,159.94 L332.3,159.61 L332.8,159.51 L333.3,160.41 L333.8,159.37 L334.3,160.09 L334.8,159.16 L335.3,158.69 L335.8,158.44 L336.3,158.13 L336.8,157.82 L337.3,156.62 L337.8,156.47 L338.3,156.16 L338.8,156.17 L339.3,155.76 L339.8,155.12 L340.3,155.19 L340.8,156.27 L341.3,156.38 L341.8,155.02 L342.3,155.53 L342.8,155.29 L343.3,154.88 L343.8,155.52 L344.3,155.11 L344.8,155.82 L345.3,155.23 L345.8,154.83 L346.3,153.73 L346.8,154.82 L347.3,155.19 L347.8,154.46 L348.3,155.13 L348.8,155.01 L349.3,154.11 L349.8,155.32 L350.3,156.18 L350.8,156.96 L351.3,157.07" stroke="#2a2a2a" stroke-width="1.1" fill="none" stroke-linejoin="round" opacity="1.0"/>
<path d="M218.8,185.19 L219.3,185.06 L219.8,185.07 L220.3,185.18 L220.8,184.75 L221.3,185.41 L221.8,185.01 L222.3,185.34 L222.8,184.92 L223.3,185.27 L223.8,185.14 L224.3,185.43 L224.8,185.24 L225.3,185.41 L225.8,184.96 L226.3,184.99 L226.8,184.89 L227.3,184.48 L227.8,184.91 L228.3,185.37 L228.8,185.23 L229.3,184.57 L229.8,185.00 L230.3,185.16 L230.8,184.31 L231.3,184.97 L231.8,184.94 L232.3,185.09 L232.8,184.88 L233.3,184.08 L233.8,183.95 L234.3,185.52 L234.8,184.56 L235.3,185.20 L235.8,185.19 L236.3,184.71 L236.8,184.21 L237.3,185.19 L237.8,184.62 L238.3,184.83 L238.8,184.81 L239.3,184.99 L239.8,185.00 L240.3,184.02 L240.8,184.01 L241.3,184.59 L241.8,184.51 L242.3,184.78 L242.8,184.39 L243.3,184.33 L243.8,185.17 L244.3,184.87 L244.8,184.74 L245.3,184.65 L245.8,183.88 L246.3,184.12 L246.8,184.07 L247.3,183.62 L247.8,183.66 L248.3,184.01 L248.8,183.41 L249.3,184.05 L249.8,183.97 L250.3,183.63 L250.8,183.54 L251.3,183.85 L251.8,183.74 L252.3,183.64 L252.8,182.96 L253.3,182.74 L253.8,184.13 L254.3,183.01 L254.8,183.06 L255.3,182.43 L255.8,182.78 L256.3,182.75 L256.8,183.30 L257.3,181.89 L257.8,182.33 L258.3,182.67 L258.8,182.59 L259.3,182.43 L259.8,182.51 L260.3,182.02 L260.8,182.70 L261.3,183.03 L261.8,182.58 L262.3,182.27 L262.8,182.94 L263.3,182.61 L263.8,181.98 L264.3,182.13 L264.8,182.09 L265.3,182.29 L265.8,182.75 L266.3,181.96 L266.8,182.14 L267.3,182.20 L267.8,181.63 L268.3,181.86 L268.8,182.22 L269.3,182.37 L269.8,181.12 L270.3,182.07 L270.8,181.61 L271.3,182.16 L271.8,181.84 L272.3,182.31 L272.8,181.60 L273.3,181.27 L273.8,181.05 L274.3,180.78 L274.8,181.53 L275.3,181.21 L275.8,180.56 L276.3,179.71 L276.8,179.33 L277.3,180.56 L277.8,181.33 L278.3,181.68 L278.8,181.95 L279.3,182.24 L279.8,181.84 L280.3,180.96 L280.8,181.43 L281.3,181.04 L281.8,181.62 L282.3,181.49 L282.8,182.09 L283.3,181.90 L283.8,182.42 L284.3,182.39 L284.8,181.77 L285.3,182.30 L285.8,181.92 L286.3,182.07 L286.8,182.40 L287.3,181.40 L287.8,181.80 L288.3,182.41 L288.8,181.48 L289.3,181.84 L289.8,181.78 L290.3,181.54 L290.8,181.16 L291.3,181.38 L291.8,181.23 L292.3,182.02 L292.8,181.66 L293.3,181.81 L293.8,181.03 L294.3,181.67 L294.8,181.49 L295.3,181.82 L295.8,181.09 L296.3,181.66 L296.8,181.84 L297.3,181.99 L297.8,180.88 L298.3,180.76 L298.8,180.60 L299.3,181.52 L299.8,181.34 L300.3,181.21 L300.8,180.71 L301.3,181.51 L301.8,181.61 L302.3,180.94 L302.8,180.87 L303.3,181.36 L303.8,181.06 L304.3,181.37 L304.8,180.65 L305.3,180.91 L305.8,180.62 L306.3,180.50 L306.8,180.59 L307.3,180.57 L307.8,180.86 L308.3,180.52 L308.8,180.64 L309.3,180.28 L309.8,180.10 L310.3,181.12 L310.8,180.16 L311.3,181.24 L311.8,180.88 L312.3,179.60 L312.8,180.23 L313.3,180.29 L313.8,180.44 L314.3,180.33 L314.8,180.14 L315.3,180.84 L315.8,180.26 L316.3,180.65 L316.8,179.97 L317.3,179.92 L317.8,180.68 L318.3,180.00 L318.8,179.64 L319.3,179.96 L319.8,180.39 L320.3,179.87 L320.8,179.60 L321.3,180.08 L321.8,180.17 L322.3,179.65 L322.8,179.56 L323.3,179.49 L323.8,180.64 L324.3,179.46 L324.8,180.16 L325.3,179.37 L325.8,179.54 L326.3,178.53 L326.8,179.36 L327.3,179.26 L327.8,179.07 L328.3,178.99 L328.8,178.58 L329.3,178.48 L329.8,179.10 L330.3,178.75 L330.8,178.93 L331.3,178.86 L331.8,178.70 L332.3,178.59 L332.8,179.58 L333.3,178.39 L333.8,178.61 L334.3,178.66 L334.8,178.30 L335.3,178.34 L335.8,179.02 L336.3,179.01 L336.8,178.65 L337.3,179.84 L337.8,178.83 L338.3,178.95 L338.8,178.09 L339.3,178.78 L339.8,178.95 L340.3,178.09 L340.8,178.88 L341.3,177.79 L341.8,177.61 L342.3,177.97 L342.8,177.61 L343.3,178.11 L343.8,177.37 L344.3,177.77 L344.8,176.91 L345.3,177.61 L345.8,177.97 L346.3,177.40 L346.8,177.57 L347.3,177.83 L347.8,176.92 L348.3,176.81 L348.8,177.30 L349.3,177.34 L349.8,177.08 L350.3,176.77 L350.8,177.60 L351.3,176.64" stroke="#b8784e" stroke-width="1.1" fill="none" stroke-linejoin="round" opacity="1.0"/>
<path d="M218.8,201.67 L219.3,201.84 L219.8,202.28 L220.3,201.79 L220.8,201.70 L221.3,203.20 L221.8,201.90 L222.3,202.83 L222.8,202.48 L223.3,202.46 L223.8,202.80 L224.3,202.83 L224.8,203.25 L225.3,201.98 L225.8,203.35 L226.3,203.53 L226.8,203.14 L227.3,203.54 L227.8,204.98 L228.3,204.85 L228.8,204.34 L229.3,204.22 L229.8,204.02 L230.3,204.91 L230.8,204.08 L231.3,203.98 L231.8,204.83 L232.3,204.14 L232.8,204.36 L233.3,205.60 L233.8,204.24 L234.3,205.13 L234.8,205.34 L235.3,205.52 L235.8,204.78 L236.3,205.45 L236.8,205.41 L237.3,206.44 L237.8,205.90 L238.3,204.94 L238.8,205.63 L239.3,205.41 L239.8,204.90 L240.3,204.71 L240.8,204.55 L241.3,203.78 L241.8,204.08 L242.3,204.69 L242.8,204.76 L243.3,204.80 L243.8,203.53 L244.3,203.84 L244.8,202.19 L245.3,203.05 L245.8,202.39 L246.3,203.24 L246.8,201.84 L247.3,201.97 L247.8,201.77 L248.3,202.34 L248.8,202.40 L249.3,201.38 L249.8,202.57 L250.3,201.63 L250.8,201.01 L251.3,201.47 L251.8,201.17 L252.3,201.48 L252.8,201.14 L253.3,201.97 L253.8,201.38 L254.3,200.47 L254.8,201.14 L255.3,201.11 L255.8,200.21 L256.3,200.30 L256.8,200.24 L257.3,199.38 L257.8,200.86 L258.3,200.41 L258.8,201.07 L259.3,200.14 L259.8,200.41 L260.3,200.68 L260.8,200.74 L261.3,200.38 L261.8,199.66 L262.3,201.20 L262.8,200.49 L263.3,200.69 L263.8,200.75 L264.3,200.61 L264.8,200.07 L265.3,200.05 L265.8,200.08 L266.3,198.99 L266.8,200.09 L267.3,199.18 L267.8,199.82 L268.3,199.09 L268.8,199.91 L269.3,199.29 L269.8,200.72 L270.3,199.56 L270.8,199.64 L271.3,198.86 L271.8,199.06 L272.3,199.06 L272.8,198.83 L273.3,198.63 L273.8,198.28 L274.3,198.97 L274.8,198.29 L275.3,197.97 L275.8,198.47 L276.3,197.82 L276.8,198.16 L277.3,198.09 L277.8,198.02 L278.3,198.51 L278.8,198.36 L279.3,198.27 L279.8,199.15 L280.3,198.86 L280.8,198.30 L281.3,198.83 L281.8,199.12 L282.3,199.25 L282.8,199.23 L283.3,199.19 L283.8,199.36 L284.3,198.84 L284.8,198.71 L285.3,199.41 L285.8,198.92 L286.3,199.14 L286.8,199.47 L287.3,199.63 L287.8,199.78 L288.3,198.86 L288.8,199.03 L289.3,199.51 L289.8,198.55 L290.3,198.64 L290.8,199.57 L291.3,198.99 L291.8,198.86 L292.3,199.72 L292.8,199.60 L293.3,199.81 L293.8,199.21 L294.3,199.24 L294.8,199.23 L295.3,199.56 L295.8,198.43 L296.3,199.10 L296.8,199.79 L297.3,199.08 L297.8,199.43 L298.3,199.54 L298.8,199.74 L299.3,199.26 L299.8,198.95 L300.3,200.74 L300.8,199.17 L301.3,200.37 L301.8,198.68 L302.3,199.61 L302.8,199.47 L303.3,200.51 L303.8,200.58 L304.3,200.09 L304.8,199.13 L305.3,199.25 L305.8,199.29 L306.3,199.43 L306.8,199.83 L307.3,199.33 L307.8,199.62 L308.3,200.49 L308.8,200.48 L309.3,198.89 L309.8,199.36 L310.3,199.67 L310.8,200.50 L311.3,199.73 L311.8,200.84 L312.3,200.12 L312.8,200.65 L313.3,199.56 L313.8,199.85 L314.3,200.53 L314.8,200.32 L315.3,199.15 L315.8,199.95 L316.3,200.20 L316.8,200.43 L317.3,199.83 L317.8,201.00 L318.3,200.26 L318.8,200.90 L319.3,200.41 L319.8,200.26 L320.3,200.09 L320.8,199.68 L321.3,200.69 L321.8,200.64 L322.3,200.75 L322.8,200.11 L323.3,199.91 L323.8,200.62 L324.3,201.15 L324.8,201.70 L325.3,202.00 L325.8,200.31 L326.3,199.64 L326.8,199.51 L327.3,199.37 L327.8,199.82 L328.3,198.79 L328.8,197.85 L329.3,197.47 L329.8,197.31 L330.3,197.47 L330.8,197.32 L331.3,196.98 L331.8,196.59 L332.3,196.69 L332.8,196.60 L333.3,196.76 L333.8,196.31 L334.3,195.68 L334.8,195.33 L335.3,196.48 L335.8,195.59 L336.3,195.53 L336.8,195.62 L337.3,196.21 L337.8,195.52 L338.3,195.78 L338.8,195.60 L339.3,196.04 L339.8,195.29 L340.3,195.91 L340.8,196.34 L341.3,196.46 L341.8,196.21 L342.3,196.10 L342.8,196.75 L343.3,196.38 L343.8,196.74 L344.3,195.52 L344.8,195.61 L345.3,196.57 L345.8,196.08 L346.3,196.04 L346.8,195.82 L347.3,197.04 L347.8,195.76 L348.3,196.43 L348.8,195.72 L349.3,196.34 L349.8,197.53 L350.3,197.67 L350.8,196.25 L351.3,196.01" stroke="#2f4fd6" stroke-width="1.1" fill="none" stroke-linejoin="round" opacity="1.0"/>
<path d="M218.8,218.39 L219.3,217.23 L219.8,216.83 L220.3,217.93 L220.8,217.30 L221.3,217.18 L221.8,218.51 L222.3,217.70 L222.8,217.62 L223.3,218.31 L223.8,218.23 L224.3,218.97 L224.8,218.57 L225.3,219.41 L225.8,219.28 L226.3,219.72 L226.8,219.49 L227.3,219.09 L227.8,219.42 L228.3,219.28 L228.8,218.61 L229.3,218.89 L229.8,219.92 L230.3,218.50 L230.8,219.34 L231.3,219.20 L231.8,219.87 L232.3,219.47 L232.8,220.15 L233.3,220.00 L233.8,219.92 L234.3,219.78 L234.8,219.10 L235.3,220.18 L235.8,219.47 L236.3,219.91 L236.8,220.18 L237.3,220.47 L237.8,220.23 L238.3,220.57 L238.8,219.09 L239.3,220.05 L239.8,220.40 L240.3,219.77 L240.8,218.97 L241.3,219.63 L241.8,219.10 L242.3,218.96 L242.8,219.71 L243.3,219.03 L243.8,218.49 L244.3,218.62 L244.8,219.81 L245.3,218.37 L245.8,219.01 L246.3,218.69 L246.8,219.08 L247.3,218.30 L247.8,217.89 L248.3,217.95 L248.8,217.68 L249.3,219.37 L249.8,218.10 L250.3,217.78 L250.8,218.46 L251.3,218.10 L251.8,217.61 L252.3,217.94 L252.8,217.69 L253.3,218.05 L253.8,218.23 L254.3,217.22 L254.8,217.29 L255.3,217.17 L255.8,217.79 L256.3,217.35 L256.8,217.49 L257.3,217.51 L257.8,216.72 L258.3,217.07 L258.8,217.69 L259.3,217.51 L259.8,217.47 L260.3,216.98 L260.8,216.97 L261.3,216.76 L261.8,217.06 L262.3,217.15 L262.8,216.43 L263.3,217.63 L263.8,216.61 L264.3,217.03 L264.8,217.10 L265.3,216.45 L265.8,215.73 L266.3,216.98 L266.8,216.59 L267.3,216.17 L267.8,216.73 L268.3,216.52 L268.8,215.51 L269.3,215.84 L269.8,214.93 L270.3,215.58 L270.8,216.32 L271.3,215.17 L271.8,215.92 L272.3,214.65 L272.8,214.95 L273.3,215.18 L273.8,215.12 L274.3,214.08 L274.8,213.82 L275.3,213.97 L275.8,211.72 L276.3,212.41 L276.8,214.64 L277.3,215.54 L277.8,215.23 L278.3,215.53 L278.8,216.02 L279.3,216.03 L279.8,215.72 L280.3,216.03 L280.8,215.98 L281.3,216.39 L281.8,216.40 L282.3,216.57 L282.8,216.38 L283.3,215.65 L283.8,216.81 L284.3,214.86 L284.8,216.23 L285.3,216.36 L285.8,215.96 L286.3,217.15 L286.8,215.72 L287.3,215.71 L287.8,216.05 L288.3,216.52 L288.8,216.71 L289.3,216.40 L289.8,216.68 L290.3,216.03 L290.8,216.09 L291.3,216.46 L291.8,215.75 L292.3,216.50 L292.8,216.22 L293.3,216.75 L293.8,215.93 L294.3,216.17 L294.8,216.16 L295.3,216.27 L295.8,215.97 L296.3,216.34 L296.8,215.81 L297.3,216.74 L297.8,216.80 L298.3,216.49 L298.8,216.40 L299.3,216.07 L299.8,216.04 L300.3,216.41 L300.8,216.08 L301.3,215.97 L301.8,216.63 L302.3,216.57 L302.8,216.39 L303.3,216.22 L303.8,216.60 L304.3,216.32 L304.8,216.46 L305.3,216.79 L305.8,217.07 L306.3,217.12 L306.8,216.48 L307.3,217.39 L307.8,216.27 L308.3,216.78 L308.8,217.51 L309.3,218.07 L309.8,217.01 L310.3,216.81 L310.8,216.83 L311.3,216.45 L311.8,217.00 L312.3,216.90 L312.8,216.76 L313.3,217.75 L313.8,216.81 L314.3,218.05 L314.8,217.65 L315.3,217.59 L315.8,217.02 L316.3,217.09 L316.8,216.39 L317.3,217.52 L317.8,217.28 L318.3,217.63 L318.8,217.13 L319.3,217.72 L319.8,216.77 L320.3,216.46 L320.8,217.76 L321.3,218.08 L321.8,216.05 L322.3,218.21 L322.8,217.43 L323.3,217.66 L323.8,217.49 L324.3,218.39 L324.8,219.72 L325.3,219.08 L325.8,219.28 L326.3,219.08 L326.8,219.93 L327.3,219.20 L327.8,217.91 L328.3,218.09 L328.8,217.51 L329.3,217.14 L329.8,217.20 L330.3,217.80 L330.8,217.01 L331.3,217.05 L331.8,216.38 L332.3,215.99 L332.8,215.98 L333.3,215.68 L333.8,216.43 L334.3,216.18 L334.8,215.31 L335.3,215.27 L335.8,213.88 L336.3,214.68 L336.8,215.75 L337.3,214.04 L337.8,214.61 L338.3,214.59 L338.8,213.56 L339.3,213.40 L339.8,213.04 L340.3,213.43 L340.8,212.85 L341.3,213.41 L341.8,213.12 L342.3,212.60 L342.8,214.08 L343.3,212.98 L343.8,213.15 L344.3,213.62 L344.8,213.52 L345.3,213.80 L345.8,213.94 L346.3,214.39 L346.8,213.17 L347.3,213.23 L347.8,213.50 L348.3,213.70 L348.8,214.03 L349.3,213.41 L349.8,214.49 L350.3,213.48 L350.8,213.61 L351.3,213.73" stroke="#4e9a60" stroke-width="1.1" fill="none" stroke-linejoin="round" opacity="1.0"/>
<path d="M218.8,234.87 L219.3,234.51 L219.8,234.45 L220.3,234.26 L220.8,234.68 L221.3,234.90 L221.8,234.63 L222.3,234.91 L222.8,234.14 L223.3,234.91 L223.8,235.86 L224.3,236.12 L224.8,235.53 L225.3,234.67 L225.8,236.74 L226.3,235.93 L226.8,237.39 L227.3,236.11 L227.8,236.93 L228.3,236.30 L228.8,237.40 L229.3,237.44 L229.8,236.50 L230.3,237.77 L230.8,238.65 L231.3,237.28 L231.8,236.91 L232.3,237.74 L232.8,237.51 L233.3,237.07 L233.8,237.36 L234.3,238.06 L234.8,237.26 L235.3,238.49 L235.8,238.15 L236.3,237.80 L236.8,238.52 L237.3,237.34 L237.8,238.06 L238.3,237.01 L238.8,237.44 L239.3,237.84 L239.8,237.19 L240.3,237.33 L240.8,237.62 L241.3,237.96 L241.8,237.78 L242.3,237.30 L242.8,236.87 L243.3,236.23 L243.8,237.68 L244.3,237.69 L244.8,235.67 L245.3,237.08 L245.8,236.58 L246.3,236.89 L246.8,236.65 L247.3,236.37 L247.8,236.42 L248.3,236.36 L248.8,236.86 L249.3,236.09 L249.8,235.85 L250.3,236.33 L250.8,236.20 L251.3,235.98 L251.8,235.76 L252.3,236.20 L252.8,235.87 L253.3,235.28 L253.8,234.91 L254.3,235.17 L254.8,233.78 L255.3,234.27 L255.8,234.01 L256.3,234.28 L256.8,233.84 L257.3,235.06 L257.8,234.08 L258.3,233.77 L258.8,234.53 L259.3,233.32 L259.8,233.04 L260.3,233.68 L260.8,233.39 L261.3,233.35 L261.8,233.41 L262.3,232.62 L262.8,232.46 L263.3,232.42 L263.8,232.79 L264.3,233.20 L264.8,232.18 L265.3,232.41 L265.8,231.99 L266.3,233.59 L266.8,233.00 L267.3,232.67 L267.8,231.85 L268.3,231.79 L268.8,231.78 L269.3,231.91 L269.8,231.05 L270.3,231.33 L270.8,231.81 L271.3,231.01 L271.8,230.87 L272.3,229.66 L272.8,230.41 L273.3,230.29 L273.8,229.69 L274.3,228.93 L274.8,229.07 L275.3,228.12 L275.8,227.89 L276.3,227.04 L276.8,227.64 L277.3,228.80 L277.8,228.89 L278.3,230.43 L278.8,230.27 L279.3,231.49 L279.8,231.49 L280.3,231.06 L280.8,231.70 L281.3,230.87 L281.8,231.34 L282.3,232.16 L282.8,231.36 L283.3,230.87 L283.8,232.00 L284.3,231.73 L284.8,231.37 L285.3,230.67 L285.8,230.65 L286.3,230.88 L286.8,232.36 L287.3,231.82 L287.8,231.29 L288.3,232.29 L288.8,232.48 L289.3,231.39 L289.8,232.05 L290.3,231.05 L290.8,232.04 L291.3,232.76 L291.8,231.21 L292.3,231.95 L292.8,231.64 L293.3,231.95 L293.8,232.09 L294.3,232.24 L294.8,232.60 L295.3,232.48 L295.8,232.80 L296.3,232.84 L296.8,232.95 L297.3,232.15 L297.8,232.71 L298.3,232.38 L298.8,232.18 L299.3,233.55 L299.8,232.76 L300.3,232.65 L300.8,231.61 L301.3,232.54 L301.8,233.03 L302.3,232.57 L302.8,232.42 L303.3,233.41 L303.8,232.56 L304.3,232.57 L304.8,232.69 L305.3,232.65 L305.8,233.29 L306.3,233.07 L306.8,232.78 L307.3,232.66 L307.8,232.74 L308.3,233.68 L308.8,232.74 L309.3,233.22 L309.8,232.15 L310.3,233.10 L310.8,233.29 L311.3,233.59 L311.8,233.14 L312.3,233.29 L312.8,233.18 L313.3,233.55 L313.8,234.04 L314.3,233.16 L314.8,232.67 L315.3,233.37 L315.8,233.03 L316.3,233.41 L316.8,233.57 L317.3,233.63 L317.8,233.70 L318.3,234.16 L318.8,233.42 L319.3,234.20 L319.8,233.66 L320.3,234.35 L320.8,234.22 L321.3,234.10 L321.8,233.66 L322.3,234.32 L322.8,234.00 L323.3,234.30 L323.8,234.74 L324.3,234.90 L324.8,233.83 L325.3,234.94 L325.8,235.15 L326.3,234.91 L326.8,234.36 L327.3,234.02 L327.8,234.72 L328.3,233.51 L328.8,232.68 L329.3,233.24 L329.8,233.10 L330.3,232.23 L330.8,231.91 L331.3,233.25 L331.8,232.16 L332.3,232.32 L332.8,231.52 L333.3,230.98 L333.8,231.50 L334.3,232.10 L334.8,230.98 L335.3,230.27 L335.8,230.84 L336.3,230.58 L336.8,230.49 L337.3,229.75 L337.8,229.85 L338.3,229.50 L338.8,229.94 L339.3,229.34 L339.8,229.46 L340.3,228.80 L340.8,227.57 L341.3,227.50 L341.8,228.53 L342.3,228.56 L342.8,228.45 L343.3,228.22 L343.8,227.86 L344.3,229.04 L344.8,229.89 L345.3,230.46 L345.8,229.63 L346.3,229.54 L346.8,229.42 L347.3,230.29 L347.8,230.22 L348.3,228.93 L348.8,230.39 L349.3,229.36 L349.8,229.08 L350.3,229.04 L350.8,229.45 L351.3,230.91" stroke="#8e74d6" stroke-width="1.1" fill="none" stroke-linejoin="round" opacity="1.0"/>
<rect x="218.8" y="141" width="132.7" height="106.19999999999999" fill="none" stroke="#444" stroke-width="1.3"/>
<line x1="229.85" y1="247.2" x2="229.85" y2="249.0" stroke="#555" stroke-width="0.9"/>
<line x1="245.00" y1="247.2" x2="245.00" y2="249.0" stroke="#555" stroke-width="0.9"/>
<line x1="260.15" y1="247.2" x2="260.15" y2="249.0" stroke="#555" stroke-width="0.9"/>
<line x1="275.30" y1="247.2" x2="275.30" y2="249.0" stroke="#555" stroke-width="0.9"/>
<line x1="290.45" y1="247.2" x2="290.45" y2="249.0" stroke="#555" stroke-width="0.9"/>
<line x1="305.60" y1="247.2" x2="305.60" y2="249.0" stroke="#555" stroke-width="0.9"/>
<line x1="320.75" y1="247.2" x2="320.75" y2="249.0" stroke="#555" stroke-width="0.9"/>
<line x1="335.90" y1="247.2" x2="335.90" y2="249.0" stroke="#555" stroke-width="0.9"/>
<line x1="351.05" y1="247.2" x2="351.05" y2="249.0" stroke="#555" stroke-width="0.9"/>
<text x="245.0" y="258.6" font-family="Liberation Serif" font-size="8.7" font-weight="bold" text-anchor="middle" fill="#111" stroke="#111" stroke-width="0.15" >3000</text>
<text x="275.3" y="258.6" font-family="Liberation Serif" font-size="8.7" font-weight="bold" text-anchor="middle" fill="#111" stroke="#111" stroke-width="0.15" >2400</text>
<text x="305.6" y="258.6" font-family="Liberation Serif" font-size="8.7" font-weight="bold" text-anchor="middle" fill="#111" stroke="#111" stroke-width="0.15" >1800</text>
<text x="335.9" y="258.6" font-family="Liberation Serif" font-size="8.7" font-weight="bold" text-anchor="middle" fill="#111" stroke="#111" stroke-width="0.15" >1200</text>
<text x="285.2" y="270.2" font-family="Liberation Serif" font-size="8.9" font-weight="bold" text-anchor="middle" fill="#111" stroke="#111" stroke-width="0.2" >Wavenumber (cm<tspan font-size="5.5" dy="-3">-1</tspan><tspan dy="3">)</tspan></text>
<text x="0" y="0" font-family="Liberation Serif" font-size="9.2" font-weight="bold" text-anchor="middle" fill="#111" stroke="#111" stroke-width="0.1" transform="translate(211.7,192.6) rotate(-90)">Absorbance (a.u.)</text>
<text x="200.6" y="148.8" font-family="Liberation Sans" font-size="11.3" font-weight="bold" text-anchor="start" fill="#111" stroke="#111" stroke-width="0.2" >(e)</text>
<text x="277" y="159.3" font-family="Liberation Serif" font-size="9.6" font-weight="bold" text-anchor="middle" fill="#111" stroke="#111" stroke-width="0.15" >2366</text>
<text x="227.8" y="162.0" font-family="Liberation Serif" font-size="8.1" font-weight="bold" text-anchor="start" fill="#111" stroke="#111" stroke-width="0.12" >200°C</text>
<text x="227.8" y="181.6" font-family="Liberation Serif" font-size="8.1" font-weight="bold" text-anchor="start" fill="#111" stroke="#111" stroke-width="0.12" >250°C</text>
<text x="227.8" y="198.0" font-family="Liberation Serif" font-size="8.1" font-weight="bold" text-anchor="start" fill="#111" stroke="#111" stroke-width="0.12" >300°C</text>
<text x="227.8" y="215.4" font-family="Liberation Serif" font-size="8.1" font-weight="bold" text-anchor="start" fill="#111" stroke="#111" stroke-width="0.12" >350°C</text>
<text x="227.8" y="231.2" font-family="Liberation Serif" font-size="8.1" font-weight="bold" text-anchor="start" fill="#111" stroke="#111" stroke-width="0.12" >400°C</text>
<rect x="382" y="185.5" width="132.5" height="7.5" fill="#fef7f8"/>
<rect x="382" y="204" width="132.5" height="8" fill="#f5fcfc"/>
<line x1="443" y1="166.5" x2="443" y2="237" stroke="#222" stroke-width="0.9" stroke-dasharray="3.5,3.8"/>
<path d="M381.5,171.07 L382.0,170.52 L382.5,170.60 L383.0,170.72 L383.5,170.75 L384.0,170.62 L384.5,170.45 L385.0,170.62 L385.5,170.58 L386.0,170.42 L386.5,170.69 L387.0,170.46 L387.5,170.41 L388.0,170.87 L388.5,170.79 L389.0,170.86 L389.5,170.66 L390.0,170.58 L390.5,170.62 L391.0,170.43 L391.5,170.73 L392.0,170.66 L392.5,170.57 L393.0,170.34 L393.5,170.59 L394.0,170.83 L394.5,170.80 L395.0,170.71 L395.5,170.53 L396.0,170.60 L396.5,170.65 L397.0,170.59 L397.5,170.71 L398.0,170.46 L398.5,170.20 L399.0,170.19 L399.5,170.40 L400.0,170.33 L400.5,170.62 L401.0,170.67 L401.5,170.51 L402.0,170.58 L402.5,170.50 L403.0,170.51 L403.5,170.41 L404.0,170.42 L404.5,170.64 L405.0,170.42 L405.5,170.45 L406.0,170.62 L406.5,170.58 L407.0,170.38 L407.5,170.46 L408.0,170.28 L408.5,170.43 L409.0,170.45 L409.5,170.40 L410.0,170.42 L410.5,170.44 L411.0,170.02 L411.5,170.25 L412.0,170.38 L412.5,170.29 L413.0,170.22 L413.5,170.32 L414.0,170.58 L414.5,170.30 L415.0,170.24 L415.5,170.26 L416.0,170.15 L416.5,170.39 L417.0,170.17 L417.5,170.44 L418.0,170.43 L418.5,170.38 L419.0,170.44 L419.5,170.27 L420.0,170.03 L420.5,170.26 L421.0,170.36 L421.5,170.04 L422.0,170.08 L422.5,170.41 L423.0,170.31 L423.5,170.44 L424.0,170.34 L424.5,170.25 L425.0,170.30 L425.5,170.35 L426.0,170.22 L426.5,170.19 L427.0,170.26 L427.5,170.17 L428.0,170.56 L428.5,170.10 L429.0,169.99 L429.5,170.01 L430.0,170.35 L430.5,170.13 L431.0,170.21 L431.5,170.14 L432.0,170.20 L432.5,169.93 L433.0,170.14 L433.5,170.03 L434.0,170.25 L434.5,170.16 L435.0,169.87 L435.5,169.89 L436.0,170.10 L436.5,170.17 L437.0,170.08 L437.5,169.93 L438.0,170.09 L438.5,169.56 L439.0,169.81 L439.5,169.72 L440.0,169.70 L440.5,169.91 L441.0,169.85 L441.5,169.83 L442.0,169.76 L442.5,169.85 L443.0,169.86 L443.5,169.65 L444.0,169.86 L444.5,169.57 L445.0,169.96 L445.5,169.51 L446.0,169.66 L446.5,169.54 L447.0,169.71 L447.5,169.89 L448.0,169.59 L448.5,169.96 L449.0,169.91 L449.5,169.76 L450.0,169.62 L450.5,169.83 L451.0,169.29 L451.5,169.59 L452.0,169.84 L452.5,169.69 L453.0,170.06 L453.5,169.60 L454.0,169.51 L454.5,169.67 L455.0,169.79 L455.5,169.95 L456.0,169.45 L456.5,169.72 L457.0,169.88 L457.5,169.60 L458.0,169.64 L458.5,169.52 L459.0,169.81 L459.5,169.82 L460.0,169.79 L460.5,169.74 L461.0,169.85 L461.5,169.68 L462.0,169.81 L462.5,169.82 L463.0,169.89 L463.5,169.78 L464.0,169.71 L464.5,169.80 L465.0,169.48 L465.5,169.48 L466.0,170.06 L466.5,169.94 L467.0,169.89 L467.5,170.08 L468.0,170.29 L468.5,170.47 L469.0,170.51 L469.5,170.92 L470.0,170.67 L470.5,171.47 L471.0,171.03 L471.5,171.55 L472.0,171.50 L472.5,171.23 L473.0,171.42 L473.5,171.83 L474.0,172.14 L474.5,172.37 L475.0,172.79 L475.5,173.16 L476.0,173.30 L476.5,173.74 L477.0,174.27 L477.5,173.80 L478.0,173.54 L478.5,173.50 L479.0,173.28 L479.5,172.88 L480.0,172.26 L480.5,171.96 L481.0,171.65 L481.5,171.26 L482.0,171.08 L482.5,170.96 L483.0,170.78 L483.5,170.67 L484.0,170.63 L484.5,170.89 L485.0,170.42 L485.5,170.86 L486.0,170.64 L486.5,170.51 L487.0,170.35 L487.5,170.69 L488.0,170.57 L488.5,170.50 L489.0,170.64 L489.5,170.05 L490.0,170.32 L490.5,170.40 L491.0,170.56 L491.5,170.94 L492.0,171.30 L492.5,171.59 L493.0,171.77 L493.5,171.82 L494.0,172.26 L494.5,172.13 L495.0,172.06 L495.5,171.53 L496.0,171.02 L496.5,170.54 L497.0,170.90 L497.5,170.33 L498.0,170.36 L498.5,170.32 L499.0,170.15 L499.5,170.13 L500.0,169.64 L500.5,169.57 L501.0,169.60 L501.5,169.32 L502.0,169.42 L502.5,169.71 L503.0,169.56 L503.5,169.51 L504.0,169.44 L504.5,169.54 L505.0,169.54 L505.5,169.39 L506.0,169.68 L506.5,169.38 L507.0,169.77 L507.5,169.54 L508.0,169.26 L508.5,169.38 L509.0,169.66 L509.5,169.49 L510.0,169.90 L510.5,169.85 L511.0,169.96 L511.5,169.79 L512.0,169.87 L512.5,169.58 L513.0,169.87 L513.5,169.62 L514.0,169.69 L514.5,169.49 L515.0,169.71" stroke="#555" stroke-width="1.0" fill="none" stroke-linejoin="round" opacity="1.0"/>
<path d="M381.5,185.36 L382.0,185.29 L382.5,185.13 L383.0,185.43 L383.5,185.43 L384.0,185.28 L384.5,185.40 L385.0,185.43 L385.5,185.14 L386.0,185.28 L386.5,185.00 L387.0,185.12 L387.5,185.33 L388.0,185.14 L388.5,185.32 L389.0,185.32 L389.5,184.95 L390.0,185.19 L390.5,185.48 L391.0,185.25 L391.5,185.26 L392.0,185.14 L392.5,185.00 L393.0,185.00 L393.5,185.66 L394.0,185.20 L394.5,185.09 L395.0,185.24 L395.5,184.93 L396.0,185.42 L396.5,185.46 L397.0,185.09 L397.5,185.25 L398.0,185.06 L398.5,185.32 L399.0,185.06 L399.5,185.16 L400.0,185.38 L400.5,185.25 L401.0,185.12 L401.5,184.94 L402.0,184.92 L402.5,185.34 L403.0,185.23 L403.5,185.15 L404.0,185.33 L404.5,185.16 L405.0,185.03 L405.5,185.11 L406.0,185.11 L406.5,185.12 L407.0,185.49 L407.5,185.19 L408.0,185.15 L408.5,185.06 L409.0,184.99 L409.5,184.94 L410.0,184.80 L410.5,185.01 L411.0,184.85 L411.5,184.79 L412.0,184.92 L412.5,184.75 L413.0,185.26 L413.5,185.23 L414.0,184.90 L414.5,185.34 L415.0,185.13 L415.5,184.65 L416.0,185.03 L416.5,184.87 L417.0,184.75 L417.5,184.97 L418.0,185.18 L418.5,185.06 L419.0,184.78 L419.5,184.89 L420.0,184.87 L420.5,185.15 L421.0,184.96 L421.5,184.82 L422.0,184.83 L422.5,184.66 L423.0,184.83 L423.5,185.08 L424.0,184.66 L424.5,184.97 L425.0,184.92 L425.5,185.05 L426.0,184.76 L426.5,185.06 L427.0,185.15 L427.5,185.26 L428.0,184.67 L428.5,184.90 L429.0,184.87 L429.5,184.91 L430.0,184.74 L430.5,185.02 L431.0,185.24 L431.5,185.11 L432.0,184.73 L432.5,184.79 L433.0,184.98 L433.5,184.89 L434.0,184.75 L434.5,185.04 L435.0,184.93 L435.5,185.00 L436.0,184.82 L436.5,185.04 L437.0,184.77 L437.5,184.67 L438.0,184.84 L438.5,184.62 L439.0,185.02 L439.5,184.94 L440.0,184.57 L440.5,184.85 L441.0,184.95 L441.5,184.76 L442.0,184.88 L442.5,184.72 L443.0,184.80 L443.5,184.79 L444.0,184.88 L444.5,184.66 L445.0,184.63 L445.5,184.85 L446.0,184.72 L446.5,184.88 L447.0,184.73 L447.5,184.60 L448.0,184.91 L448.5,184.84 L449.0,184.91 L449.5,184.75 L450.0,184.75 L450.5,184.99 L451.0,184.55 L451.5,185.06 L452.0,184.88 L452.5,184.79 L453.0,184.81 L453.5,184.89 L454.0,184.68 L454.5,184.84 L455.0,184.66 L455.5,184.52 L456.0,184.83 L456.5,184.81 L457.0,184.90 L457.5,184.88 L458.0,184.91 L458.5,184.92 L459.0,184.64 L459.5,184.98 L460.0,185.20 L460.5,184.71 L461.0,184.61 L461.5,184.90 L462.0,184.94 L462.5,184.95 L463.0,185.03 L463.5,184.59 L464.0,184.86 L464.5,184.87 L465.0,184.99 L465.5,184.67 L466.0,184.80 L466.5,184.74 L467.0,184.78 L467.5,184.78 L468.0,184.78 L468.5,184.53 L469.0,184.80 L469.5,184.81 L470.0,184.74 L470.5,184.37 L471.0,184.94 L471.5,185.11 L472.0,185.26 L472.5,185.84 L473.0,185.96 L473.5,186.03 L474.0,186.38 L474.5,187.01 L475.0,186.58 L475.5,186.99 L476.0,187.01 L476.5,187.47 L477.0,187.53 L477.5,187.29 L478.0,187.21 L478.5,186.75 L479.0,186.34 L479.5,186.39 L480.0,186.19 L480.5,185.60 L481.0,185.30 L481.5,184.89 L482.0,185.32 L482.5,184.83 L483.0,184.88 L483.5,185.02 L484.0,185.25 L484.5,185.10 L485.0,185.12 L485.5,185.15 L486.0,185.30 L486.5,185.20 L487.0,185.26 L487.5,185.25 L488.0,185.13 L488.5,185.53 L489.0,185.26 L489.5,185.19 L490.0,185.36 L490.5,185.45 L491.0,185.60 L491.5,185.28 L492.0,185.34 L492.5,185.57 L493.0,185.62 L493.5,185.42 L494.0,185.43 L494.5,185.61 L495.0,185.55 L495.5,185.31 L496.0,185.40 L496.5,185.73 L497.0,185.32 L497.5,185.61 L498.0,185.19 L498.5,185.62 L499.0,185.61 L499.5,185.24 L500.0,185.19 L500.5,185.36 L501.0,185.04 L501.5,185.27 L502.0,185.33 L502.5,185.15 L503.0,185.12 L503.5,185.01 L504.0,185.15 L504.5,184.83 L505.0,185.15 L505.5,184.87 L506.0,184.79 L506.5,184.55 L507.0,184.69 L507.5,184.75 L508.0,184.87 L508.5,184.40 L509.0,184.59 L509.5,184.47 L510.0,184.36 L510.5,184.51 L511.0,184.37 L511.5,184.58 L512.0,184.02 L512.5,184.51 L513.0,184.09 L513.5,184.06 L514.0,184.41 L514.5,184.27 L515.0,184.32" stroke="#b8784e" stroke-width="1.0" fill="none" stroke-linejoin="round" opacity="1.0"/>
<path d="M381.5,203.21 L382.0,203.19 L382.5,203.24 L383.0,203.38 L383.5,203.22 L384.0,203.30 L384.5,203.20 L385.0,203.42 L385.5,203.14 L386.0,202.94 L386.5,202.83 L387.0,203.35 L387.5,203.37 L388.0,203.54 L388.5,203.19 L389.0,203.10 L389.5,203.03 L390.0,203.47 L390.5,203.19 L391.0,203.51 L391.5,203.29 L392.0,203.24 L392.5,202.92 L393.0,203.15 L393.5,203.43 L394.0,203.15 L394.5,203.40 L395.0,202.93 L395.5,203.45 L396.0,203.80 L396.5,203.46 L397.0,203.29 L397.5,202.97 L398.0,203.11 L398.5,203.07 L399.0,203.23 L399.5,202.78 L400.0,203.01 L400.5,203.33 L401.0,203.19 L401.5,203.31 L402.0,203.32 L402.5,202.91 L403.0,202.86 L403.5,203.22 L404.0,203.12 L404.5,203.12 L405.0,202.93 L405.5,203.29 L406.0,203.18 L406.5,203.30 L407.0,202.99 L407.5,203.19 L408.0,203.03 L408.5,202.85 L409.0,203.01 L409.5,202.69 L410.0,202.97 L410.5,203.04 L411.0,203.13 L411.5,202.77 L412.0,202.71 L412.5,202.82 L413.0,202.54 L413.5,202.81 L414.0,203.46 L414.5,202.96 L415.0,202.77 L415.5,202.77 L416.0,203.25 L416.5,202.66 L417.0,202.86 L417.5,202.86 L418.0,202.72 L418.5,202.71 L419.0,202.51 L419.5,202.67 L420.0,203.09 L420.5,203.10 L421.0,202.75 L421.5,202.94 L422.0,202.89 L422.5,202.81 L423.0,202.75 L423.5,203.01 L424.0,202.87 L424.5,202.71 L425.0,202.70 L425.5,202.92 L426.0,202.61 L426.5,202.57 L427.0,202.66 L427.5,202.60 L428.0,202.95 L428.5,202.76 L429.0,202.66 L429.5,202.57 L430.0,202.95 L430.5,202.75 L431.0,203.07 L431.5,202.83 L432.0,202.59 L432.5,202.52 L433.0,202.57 L433.5,202.65 L434.0,202.77 L434.5,202.70 L435.0,202.91 L435.5,202.29 L436.0,202.59 L436.5,202.30 L437.0,202.37 L437.5,202.45 L438.0,202.43 L438.5,202.36 L439.0,202.25 L439.5,202.78 L440.0,202.48 L440.5,202.73 L441.0,202.31 L441.5,202.06 L442.0,202.40 L442.5,202.70 L443.0,202.40 L443.5,202.59 L444.0,202.29 L444.5,202.78 L445.0,202.59 L445.5,202.70 L446.0,202.41 L446.5,202.71 L447.0,202.44 L447.5,202.30 L448.0,202.25 L448.5,202.36 L449.0,202.15 L449.5,202.07 L450.0,202.33 L450.5,202.42 L451.0,202.20 L451.5,202.39 L452.0,202.51 L452.5,201.89 L453.0,202.16 L453.5,201.87 L454.0,201.89 L454.5,202.01 L455.0,201.46 L455.5,202.02 L456.0,202.03 L456.5,201.94 L457.0,201.94 L457.5,202.11 L458.0,201.46 L458.5,201.46 L459.0,201.23 L459.5,200.77 L460.0,200.14 L460.5,200.64 L461.0,200.85 L461.5,200.88 L462.0,201.52 L462.5,201.98 L463.0,202.04 L463.5,202.24 L464.0,202.66 L464.5,202.36 L465.0,202.45 L465.5,202.81 L466.0,203.21 L466.5,203.28 L467.0,203.34 L467.5,203.37 L468.0,203.82 L468.5,203.73 L469.0,203.10 L469.5,203.37 L470.0,202.67 L470.5,203.29 L471.0,202.98 L471.5,202.62 L472.0,202.52 L472.5,203.01 L473.0,203.12 L473.5,204.01 L474.0,204.16 L474.5,204.15 L475.0,204.84 L475.5,205.56 L476.0,205.66 L476.5,206.51 L477.0,207.64 L477.5,207.99 L478.0,208.45 L478.5,209.11 L479.0,209.60 L479.5,208.82 L480.0,208.13 L480.5,206.73 L481.0,205.54 L481.5,204.37 L482.0,203.84 L482.5,202.98 L483.0,202.76 L483.5,202.65 L484.0,202.15 L484.5,201.88 L485.0,201.60 L485.5,201.34 L486.0,200.81 L486.5,200.87 L487.0,201.03 L487.5,201.27 L488.0,201.35 L488.5,201.72 L489.0,202.04 L489.5,202.21 L490.0,202.42 L490.5,202.67 L491.0,202.91 L491.5,203.36 L492.0,203.72 L492.5,204.21 L493.0,204.37 L493.5,204.34 L494.0,204.75 L494.5,204.13 L495.0,203.68 L495.5,203.04 L496.0,202.38 L496.5,201.68 L497.0,201.64 L497.5,201.32 L498.0,201.30 L498.5,200.93 L499.0,201.65 L499.5,201.08 L500.0,201.06 L500.5,201.35 L501.0,201.34 L501.5,201.04 L502.0,201.16 L502.5,201.18 L503.0,201.13 L503.5,201.16 L504.0,201.17 L504.5,200.91 L505.0,200.62 L505.5,201.34 L506.0,200.78 L506.5,200.62 L507.0,200.93 L507.5,200.86 L508.0,200.58 L508.5,201.14 L509.0,200.16 L509.5,200.85 L510.0,200.55 L510.5,200.58 L511.0,200.55 L511.5,200.41 L512.0,200.50 L512.5,200.14 L513.0,200.30 L513.5,200.73 L514.0,199.82 L514.5,200.56 L515.0,199.85" stroke="#4456c6" stroke-width="1.0" fill="none" stroke-linejoin="round" opacity="1.0"/>
<path d="M466.0,202.49 L466.5,203.63 L467.0,203.02 L467.5,203.09 L468.0,202.66 L468.5,203.48 L469.0,203.34 L469.5,202.92 L470.0,202.21 L470.5,203.09 L471.0,203.10 L471.5,203.43 L472.0,203.09 L472.5,203.99 L473.0,204.19 L473.5,202.19 L474.0,205.26 L474.5,204.44 L475.0,204.20 L475.5,205.55 L476.0,206.44 L476.5,205.57 L477.0,206.42 L477.5,208.23 L478.0,208.07 L478.5,209.77 L479.0,209.37 L479.5,208.35 L480.0,206.69 L480.5,206.45 L481.0,203.79 L481.5,203.21" stroke="#4456c6" stroke-width="0.9" fill="none" stroke-linejoin="round" opacity="1.0"/>
<path d="M381.5,219.00 L382.0,219.45 L382.5,219.45 L383.0,219.15 L383.5,219.12 L384.0,219.28 L384.5,219.36 L385.0,219.04 L385.5,219.49 L386.0,219.12 L386.5,219.31 L387.0,218.78 L387.5,219.12 L388.0,219.02 L388.5,219.41 L389.0,219.08 L389.5,218.91 L390.0,219.39 L390.5,218.98 L391.0,219.08 L391.5,218.88 L392.0,219.16 L392.5,219.08 L393.0,219.00 L393.5,218.97 L394.0,218.94 L394.5,218.91 L395.0,218.80 L395.5,219.18 L396.0,219.12 L396.5,218.77 L397.0,218.79 L397.5,219.02 L398.0,219.29 L398.5,218.91 L399.0,218.88 L399.5,218.88 L400.0,218.95 L400.5,218.87 L401.0,219.05 L401.5,219.02 L402.0,218.95 L402.5,219.09 L403.0,218.81 L403.5,218.75 L404.0,219.27 L404.5,218.52 L405.0,218.56 L405.5,218.43 L406.0,218.83 L406.5,218.60 L407.0,218.91 L407.5,218.42 L408.0,218.71 L408.5,218.66 L409.0,218.54 L409.5,218.86 L410.0,218.62 L410.5,218.73 L411.0,218.57 L411.5,218.66 L412.0,218.56 L412.5,218.63 L413.0,218.59 L413.5,218.49 L414.0,218.65 L414.5,218.54 L415.0,218.41 L415.5,218.39 L416.0,218.60 L416.5,218.72 L417.0,218.31 L417.5,218.43 L418.0,218.55 L418.5,218.63 L419.0,218.57 L419.5,218.27 L420.0,218.44 L420.5,218.56 L421.0,218.45 L421.5,218.37 L422.0,218.21 L422.5,218.40 L423.0,218.36 L423.5,218.36 L424.0,218.57 L424.5,218.51 L425.0,218.20 L425.5,218.35 L426.0,218.26 L426.5,218.31 L427.0,218.53 L427.5,218.41 L428.0,218.27 L428.5,218.15 L429.0,218.22 L429.5,218.29 L430.0,218.15 L430.5,218.38 L431.0,218.20 L431.5,218.01 L432.0,218.49 L432.5,217.74 L433.0,218.12 L433.5,218.14 L434.0,218.30 L434.5,218.31 L435.0,218.35 L435.5,218.36 L436.0,218.16 L436.5,218.12 L437.0,218.25 L437.5,218.09 L438.0,217.89 L438.5,218.01 L439.0,218.17 L439.5,218.15 L440.0,217.89 L440.5,218.23 L441.0,218.09 L441.5,217.81 L442.0,218.10 L442.5,218.18 L443.0,218.10 L443.5,217.97 L444.0,217.89 L444.5,218.17 L445.0,218.03 L445.5,218.02 L446.0,217.99 L446.5,217.92 L447.0,217.82 L447.5,218.09 L448.0,218.35 L448.5,218.33 L449.0,218.16 L449.5,218.54 L450.0,218.32 L450.5,218.25 L451.0,218.60 L451.5,218.71 L452.0,218.49 L452.5,218.41 L453.0,218.64 L453.5,218.33 L454.0,218.75 L454.5,219.01 L455.0,218.86 L455.5,218.75 L456.0,219.00 L456.5,218.85 L457.0,219.14 L457.5,218.92 L458.0,219.31 L458.5,218.87 L459.0,218.83 L459.5,218.52 L460.0,218.31 L460.5,218.39 L461.0,218.25 L461.5,217.94 L462.0,218.08 L462.5,217.96 L463.0,217.96 L463.5,218.06 L464.0,218.16 L464.5,218.24 L465.0,218.36 L465.5,218.27 L466.0,218.14 L466.5,218.19 L467.0,218.38 L467.5,218.19 L468.0,218.38 L468.5,218.37 L469.0,218.44 L469.5,218.51 L470.0,218.66 L470.5,219.02 L471.0,219.24 L471.5,219.66 L472.0,219.79 L472.5,220.61 L473.0,221.19 L473.5,221.37 L474.0,222.55 L474.5,222.70 L475.0,223.05 L475.5,224.29 L476.0,224.64 L476.5,225.08 L477.0,225.66 L477.5,226.41 L478.0,226.74 L478.5,227.03 L479.0,227.60 L479.5,227.56 L480.0,227.03 L480.5,226.31 L481.0,225.34 L481.5,224.50 L482.0,223.27 L482.5,222.09 L483.0,221.24 L483.5,220.25 L484.0,220.02 L484.5,219.93 L485.0,219.89 L485.5,219.62 L486.0,219.56 L486.5,219.20 L487.0,219.20 L487.5,219.10 L488.0,218.82 L488.5,219.28 L489.0,219.47 L489.5,219.78 L490.0,220.07 L490.5,220.83 L491.0,220.91 L491.5,221.14 L492.0,221.43 L492.5,221.88 L493.0,221.76 L493.5,221.33 L494.0,220.87 L494.5,220.56 L495.0,219.84 L495.5,219.41 L496.0,218.72 L496.5,218.12 L497.0,218.13 L497.5,218.01 L498.0,217.82 L498.5,217.82 L499.0,217.67 L499.5,217.88 L500.0,217.63 L500.5,217.70 L501.0,217.60 L501.5,217.45 L502.0,217.46 L502.5,217.29 L503.0,217.06 L503.5,217.09 L504.0,216.89 L504.5,217.09 L505.0,216.98 L505.5,216.70 L506.0,216.79 L506.5,216.64 L507.0,216.66 L507.5,216.28 L508.0,216.34 L508.5,216.10 L509.0,216.06 L509.5,216.28 L510.0,215.69 L510.5,215.78 L511.0,215.91 L511.5,215.89 L512.0,215.59 L512.5,215.34 L513.0,215.33 L513.5,215.59 L514.0,215.65 L514.5,215.57 L515.0,215.29" stroke="#4e9a60" stroke-width="1.0" fill="none" stroke-linejoin="round" opacity="1.0"/>
<path d="M381.5,235.60 L382.0,235.37 L382.5,235.48 L383.0,235.36 L383.5,235.62 L384.0,235.30 L384.5,235.05 L385.0,235.32 L385.5,235.39 L386.0,235.40 L386.5,235.24 L387.0,235.31 L387.5,235.17 L388.0,235.29 L388.5,235.34 L389.0,235.35 L389.5,235.56 L390.0,235.00 L390.5,235.37 L391.0,235.35 L391.5,235.11 L392.0,235.28 L392.5,235.26 L393.0,235.11 L393.5,235.36 L394.0,235.53 L394.5,235.33 L395.0,235.34 L395.5,235.38 L396.0,235.19 L396.5,235.34 L397.0,235.07 L397.5,235.21 L398.0,235.28 L398.5,235.36 L399.0,235.11 L399.5,235.10 L400.0,235.20 L400.5,235.11 L401.0,235.13 L401.5,235.22 L402.0,234.98 L402.5,235.21 L403.0,235.13 L403.5,235.02 L404.0,234.86 L404.5,234.95 L405.0,235.02 L405.5,235.16 L406.0,234.71 L406.5,235.10 L407.0,235.02 L407.5,234.81 L408.0,235.09 L408.5,235.01 L409.0,235.01 L409.5,234.79 L410.0,234.76 L410.5,235.05 L411.0,235.11 L411.5,234.94 L412.0,234.85 L412.5,234.80 L413.0,234.60 L413.5,234.99 L414.0,234.82 L414.5,235.01 L415.0,234.70 L415.5,234.96 L416.0,234.68 L416.5,234.87 L417.0,234.97 L417.5,234.65 L418.0,234.88 L418.5,234.73 L419.0,234.58 L419.5,234.74 L420.0,234.80 L420.5,234.58 L421.0,234.64 L421.5,234.58 L422.0,234.54 L422.5,234.62 L423.0,234.76 L423.5,234.55 L424.0,234.80 L424.5,234.55 L425.0,234.49 L425.5,234.75 L426.0,234.79 L426.5,234.47 L427.0,234.65 L427.5,234.38 L428.0,234.48 L428.5,234.47 L429.0,234.63 L429.5,234.32 L430.0,234.43 L430.5,234.39 L431.0,234.50 L431.5,234.29 L432.0,234.27 L432.5,234.88 L433.0,234.48 L433.5,234.22 L434.0,234.56 L434.5,234.23 L435.0,234.14 L435.5,234.66 L436.0,234.59 L436.5,234.27 L437.0,234.23 L437.5,234.45 L438.0,234.68 L438.5,234.46 L439.0,234.46 L439.5,234.18 L440.0,234.09 L440.5,234.40 L441.0,234.49 L441.5,234.35 L442.0,234.33 L442.5,234.53 L443.0,234.19 L443.5,234.48 L444.0,234.43 L444.5,234.21 L445.0,234.32 L445.5,234.32 L446.0,234.40 L446.5,234.17 L447.0,234.29 L447.5,234.34 L448.0,234.34 L448.5,234.35 L449.0,234.39 L449.5,234.34 L450.0,234.30 L450.5,234.54 L451.0,234.30 L451.5,234.36 L452.0,234.28 L452.5,234.26 L453.0,234.50 L453.5,234.44 L454.0,234.44 L454.5,234.54 L455.0,234.46 L455.5,234.60 L456.0,234.78 L456.5,234.58 L457.0,234.50 L457.5,234.79 L458.0,234.67 L458.5,234.33 L459.0,234.79 L459.5,234.63 L460.0,234.74 L460.5,234.46 L461.0,234.51 L461.5,234.55 L462.0,234.74 L462.5,234.51 L463.0,234.58 L463.5,234.84 L464.0,234.61 L464.5,234.73 L465.0,234.59 L465.5,234.48 L466.0,234.73 L466.5,234.74 L467.0,234.55 L467.5,234.91 L468.0,234.90 L468.5,234.91 L469.0,234.71 L469.5,234.63 L470.0,234.79 L470.5,235.00 L471.0,235.16 L471.5,235.35 L472.0,235.57 L472.5,235.92 L473.0,236.36 L473.5,236.66 L474.0,237.36 L474.5,237.46 L475.0,237.97 L475.5,238.24 L476.0,238.69 L476.5,238.97 L477.0,239.42 L477.5,239.64 L478.0,239.90 L478.5,240.72 L479.0,240.65 L479.5,241.13 L480.0,241.27 L480.5,241.38 L481.0,241.30 L481.5,240.58 L482.0,240.06 L482.5,239.18 L483.0,238.57 L483.5,237.79 L484.0,236.97 L484.5,236.56 L485.0,236.07 L485.5,236.15 L486.0,235.78 L486.5,235.43 L487.0,235.53 L487.5,235.38 L488.0,235.14 L488.5,235.05 L489.0,234.96 L489.5,234.98 L490.0,235.66 L490.5,235.59 L491.0,235.87 L491.5,236.14 L492.0,236.58 L492.5,236.99 L493.0,237.45 L493.5,237.49 L494.0,237.03 L494.5,236.58 L495.0,236.14 L495.5,235.79 L496.0,235.42 L496.5,234.75 L497.0,234.66 L497.5,234.43 L498.0,234.11 L498.5,233.75 L499.0,234.21 L499.5,234.02 L500.0,234.11 L500.5,234.13 L501.0,233.81 L501.5,233.94 L502.0,233.92 L502.5,233.76 L503.0,233.94 L503.5,233.78 L504.0,233.71 L504.5,234.01 L505.0,233.72 L505.5,233.90 L506.0,233.60 L506.5,233.74 L507.0,233.44 L507.5,233.53 L508.0,233.63 L508.5,233.12 L509.0,233.48 L509.5,233.33 L510.0,233.50 L510.5,233.33 L511.0,233.27 L511.5,233.06 L512.0,233.65 L512.5,233.09 L513.0,233.13 L513.5,233.05 L514.0,233.09 L514.5,233.15 L515.0,232.90" stroke="#8e74d6" stroke-width="1.0" fill="none" stroke-linejoin="round" opacity="1.0"/>
<rect x="381.5" y="141.3" width="133.5" height="106.69999999999999" fill="none" stroke="#444" stroke-width="1.3"/>
<line x1="391.64" y1="248" x2="391.64" y2="249.8" stroke="#555" stroke-width="0.9"/>
<line x1="407.00" y1="248" x2="407.00" y2="249.8" stroke="#555" stroke-width="0.9"/>
<line x1="422.36" y1="248" x2="422.36" y2="249.8" stroke="#555" stroke-width="0.9"/>
<line x1="437.72" y1="248" x2="437.72" y2="249.8" stroke="#555" stroke-width="0.9"/>
<line x1="453.08" y1="248" x2="453.08" y2="249.8" stroke="#555" stroke-width="0.9"/>
<line x1="468.44" y1="248" x2="468.44" y2="249.8" stroke="#555" stroke-width="0.9"/>
<line x1="483.80" y1="248" x2="483.80" y2="249.8" stroke="#555" stroke-width="0.9"/>
<line x1="499.16" y1="248" x2="499.16" y2="249.8" stroke="#555" stroke-width="0.9"/>
<line x1="514.52" y1="248" x2="514.52" y2="249.8" stroke="#555" stroke-width="0.9"/>
<text x="407.0" y="259.2" font-family="Liberation Serif" font-size="8.7" font-weight="bold" text-anchor="middle" fill="#111" stroke="#111" stroke-width="0.15" >3000</text>
<text x="437.7" y="259.2" font-family="Liberation Serif" font-size="8.7" font-weight="bold" text-anchor="middle" fill="#111" stroke="#111" stroke-width="0.15" >2400</text>
<text x="468.4" y="259.2" font-family="Liberation Serif" font-size="8.7" font-weight="bold" text-anchor="middle" fill="#111" stroke="#111" stroke-width="0.15" >1800</text>
<text x="499.2" y="259.2" font-family="Liberation Serif" font-size="8.7" font-weight="bold" text-anchor="middle" fill="#111" stroke="#111" stroke-width="0.15" >1200</text>
<text x="448.2" y="270.3" font-family="Liberation Serif" font-size="8.9" font-weight="bold" text-anchor="middle" fill="#111" stroke="#111" stroke-width="0.2" >Wavenumber (cm<tspan font-size="5.5" dy="-3">-1</tspan><tspan dy="3">)</tspan></text>
<text x="0" y="0" font-family="Liberation Serif" font-size="9.2" font-weight="bold" text-anchor="middle" fill="#111" stroke="#111" stroke-width="0.1" transform="translate(374.3,192.6) rotate(-90)">Absorbance (a.u.)</text>
<text x="362.6" y="148.4" font-family="Liberation Sans" font-size="11.3" font-weight="bold" text-anchor="start" fill="#111" stroke="#111" stroke-width="0.2" >(f)</text>
<text x="441.8" y="162" font-family="Liberation Serif" font-size="9.6" font-weight="bold" text-anchor="middle" fill="#111" stroke="#111" stroke-width="0.15" >2335</text>
<text x="387.5" y="168.1" font-family="Liberation Serif" font-size="8.1" font-weight="bold" text-anchor="start" fill="#111" stroke="#111" stroke-width="0.12" >200°C</text>
<text x="387.5" y="183.70000000000002" font-family="Liberation Serif" font-size="8.1" font-weight="bold" text-anchor="start" fill="#111" stroke="#111" stroke-width="0.12" >250°C</text>
<text x="387.5" y="201.0" font-family="Liberation Serif" font-size="8.1" font-weight="bold" text-anchor="start" fill="#111" stroke="#111" stroke-width="0.12" >300°C</text>
<text x="387.5" y="218.0" font-family="Liberation Serif" font-size="8.1" font-weight="bold" text-anchor="start" fill="#111" stroke="#111" stroke-width="0.12" >350°C</text>
<text x="387.5" y="233.4" font-family="Liberation Serif" font-size="8.1" font-weight="bold" text-anchor="start" fill="#111" stroke="#111" stroke-width="0.12" >400°C</text>
</svg></body></html>
